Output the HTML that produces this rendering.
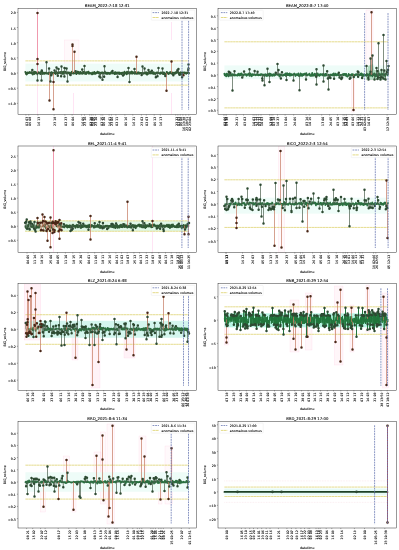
<!DOCTYPE html>
<html><head><meta charset="utf-8"><title>anomalous volumes</title>
<style>html,body{margin:0;padding:0;background:#fff;}svg{display:block;filter:blur(0.25px);}text{stroke:#000;stroke-width:0.08px;}</style>
</head><body>
<svg width="399" height="550" viewBox="0 0 399 550" font-family="'DejaVu Sans', 'Liberation Sans', sans-serif"><g>
<clipPath id="c0"><rect x="18" y="8.6" width="178.5" height="105.9"/></clipPath>
<g clip-path="url(#c0)">
<rect x="64.5" y="40" width="14.5" height="32" fill="#ffc0d8" fill-opacity="0.09" stroke="#ff80b0" stroke-width="0.3" stroke-opacity="0.3"/>
<line x1="37.5" y1="8.6" x2="37.5" y2="114.5" stroke="#ff60c0" stroke-width="0.5" stroke-opacity="0.35"/>
<line x1="73.5" y1="93" x2="73.5" y2="114.5" stroke="#ff60c0" stroke-width="0.5" stroke-opacity="0.35"/>
<line x1="171.5" y1="22" x2="171.5" y2="40" stroke="#ff60c0" stroke-width="0.5" stroke-opacity="0.35"/>
<line x1="171.5" y1="93" x2="171.5" y2="114.5" stroke="#ff60c0" stroke-width="0.5" stroke-opacity="0.35"/>
<rect x="25.4" y="63.61" width="163.6" height="17.88" fill="#eefcf8"/>
<line x1="25.4" y1="60.88" x2="189" y2="60.88" stroke="#dcd068" stroke-width="0.75" stroke-dasharray="2.6 0.3"/>
<line x1="25.4" y1="85.12" x2="189" y2="85.12" stroke="#dcd068" stroke-width="0.75" stroke-dasharray="2.6 0.3"/>
<path d="M25.4 71.94L25.76 72.76L26.13 74.05L26.49 74.42L26.86 74.09L27.22 73.59L27.59 72.43L27.95 73.09L28.31 73.06L28.68 72.75L29.04 72.91L29.41 72.13L29.77 72.54L30.14 72.93L30.5 72.73L30.87 72.8L31.23 72.1L31.59 73.12L31.96 72.81M32.69 74.53L33.05 72.61L33.42 72.48L33.78 73.45L34.14 71.64L34.51 73.87L34.87 72.97L35.24 73.11L35.6 72.08L35.97 72.12L36.33 72.91L36.7 72.77L37.06 73.53L37.42 74.19M37.79 73.21L38.15 72.91L38.52 72.26L38.88 72.28L39.25 73.23L39.61 73.18L39.97 73.63L40.34 73.85L40.7 74.02L41.07 71.83L41.43 73.31M42.16 71.59L42.53 72.53L42.89 73.97L43.25 73.13L43.62 73.54L43.98 72.77L44.35 73.31L44.71 73.71L45.08 73.02L45.44 72.74L45.8 72.96L46.17 72.82M46.53 73.38L46.9 73.22L47.26 73.4L47.63 73.22L47.99 73.49L48.36 74.04L48.72 72.89M49.81 72.72L50.18 73.54M50.54 72.97L50.91 72.56M51.63 72.32L52 73.74L52.36 72.76L52.73 73.41L53.09 73.52L53.46 73.35M53.82 73.19L54.18 72.97M54.91 72.46L55.28 72.72L55.64 73.92L56.01 72.11L56.37 71.86M56.74 72.29L57.1 73.11L57.46 73.64M58.56 72.27L58.92 72.88L59.29 72.41L59.65 72.79L60.01 72.58L60.38 72.99L60.74 71.93M61.84 71.87L62.2 73.81L62.57 73.76L62.93 72.42L63.29 73.7L63.66 71.83L64.02 73.25M64.75 71.85L65.12 72.11L65.48 71.88L65.84 72.46L66.21 73.52M66.94 73.16L67.3 72.52M67.67 72.43L68.03 73.09L68.4 72.63L68.76 72.45L69.12 72.77L69.49 73.66L69.85 72.82M70.95 73.09L71.31 73.26L71.67 71.89L72.04 72.6L72.4 72.76M72.77 73.46L73.13 72.68L73.5 73.4L73.86 72.98L74.22 73.38M74.59 72.59L74.95 72.65L75.32 73.12M76.05 73.66L76.41 73.89L76.78 72.74L77.14 72.9L77.5 72.62L77.87 71.57L78.23 72.43L78.6 73.55L78.96 72.33L79.33 73.79L79.69 73.28L80.05 73.04L80.42 71.97L80.78 73.45L81.15 73.5L81.51 73.06L81.88 73.4M82.61 73.65L82.97 71.89L83.33 73.26L83.7 73.3L84.06 71.84L84.43 72.43M84.79 72.95L85.16 73.74L85.52 72.49L85.88 73.6L86.25 73.93L86.61 72.29L86.98 72.81L87.34 72.45L87.71 72.81L88.07 72.49L88.44 71.67L88.8 73.62L89.16 72.59L89.53 73.48L89.89 73.41L90.26 73.27L90.62 72.99L90.99 73.21L91.35 73.82L91.71 73.39L92.08 74.33L92.44 72.62L92.81 73.96L93.17 73.66L93.54 72.97L93.9 73.44L94.27 72.07L94.63 73.78L94.99 72.84L95.36 73.02L95.72 73.7L96.09 72.69L96.45 73.1L96.82 72.54L97.18 72.51L97.54 71.7L97.91 72.2L98.27 73.22L98.64 73.14L99 72.34M99.73 72.62L100.09 73.97L100.46 73.01M100.82 73.44L101.19 72.83L101.55 73.06L101.92 72.45L102.28 72.81M102.65 72.53L103.01 73.28L103.37 73.57L103.74 73.25M104.83 71.64L105.2 73.03L105.56 73.57L105.92 73.21L106.29 73.28L106.65 72.71L107.02 73.92L107.38 72.96L107.75 72.91L108.11 72.86L108.48 73.36L108.84 73.14L109.2 73.85L109.57 73.3L109.93 73.33L110.3 72.75L110.66 73.69L111.03 72.53L111.39 72.1L111.75 72.28L112.12 72.74M112.85 73.38L113.21 73.24L113.58 73.08L113.94 73.18L114.31 73.19L114.67 74.01L115.03 72.31L115.4 72.35L115.76 73.49L116.13 73.88L116.49 72.69L116.86 73.35L117.22 72.91M117.95 72.59L118.31 72.58L118.68 73.44L119.04 73.83L119.41 73.95L119.77 72.63L120.13 73.71L120.5 73.3L120.86 73.36L121.23 73.03L121.59 74.16L121.96 72.89L122.32 72.69L122.69 72.95M123.41 72.94L123.78 72.76L124.14 74.66L124.51 71.83L124.87 72.77L125.24 73.39L125.6 73.23L125.96 72.7L126.33 73.07L126.69 74.22L127.06 71.76L127.42 73.07L127.79 72.39L128.15 73.42M128.52 72.08L128.88 72.83L129.24 72.63M129.61 73.63L129.97 72.27L130.34 72.59L130.7 72.22L131.07 73.38L131.43 73.29L131.79 71.62L132.16 73.64L132.52 73.08L132.89 72.32L133.25 72.94L133.62 72.65L133.98 73.24L134.35 72.78M134.71 73.78L135.07 72.01L135.44 73.07L135.8 73.41L136.17 72.6M136.53 73.28L136.9 73.8L137.26 73.81L137.62 72.58L137.99 73.1L138.35 73.08L138.72 72.35L139.08 73.68L139.45 73.44L139.81 73.23L140.18 72.94L140.54 73.03L140.9 73.17L141.27 73.04M142 73.43L142.36 73.49M142.73 72.84L143.09 73.53L143.45 73.69L143.82 73.19L144.18 73.09M144.91 73.42L145.28 72.43L145.64 72.55L146 73.71L146.37 72.54L146.73 73.71L147.1 74.6L147.46 72.64L147.83 74.05L148.19 72.73M148.56 73.41L148.92 72L149.28 72.36L149.65 73.27L150.01 73.41L150.38 71.87L150.74 73.26L151.11 73.17L151.47 73.22M152.2 72.65L152.56 72.79L152.93 73.46L153.29 73.86L153.66 72.18L154.02 73.41L154.39 73.39L154.75 73.31L155.11 74.11L155.48 73.29M156.21 72.63L156.57 72.58L156.94 73L157.3 72.44M157.66 72.8L158.03 73.01L158.39 72.9M158.76 73.11L159.12 73.24L159.49 73.16L159.85 73.68L160.22 72.83L160.58 73.6L160.94 72.5L161.31 73.15L161.67 72.97L162.04 72.7L162.4 72.61M162.77 73.94L163.13 73.12L163.49 72.47L163.86 74.02L164.22 72.77L164.59 74.35L164.95 73.61M165.68 73.99L166.04 73.59L166.41 73.88M166.77 72.01L167.14 72.9L167.5 72.66L167.87 73.13L168.23 73.21L168.6 73.97L168.96 73.18L169.32 73.46L169.69 72.49L170.05 72.32L170.42 72.12L170.78 72.49L171.15 73.36M171.51 73.67L171.87 72.54L172.24 72.79L172.6 74.06L172.97 72.79M173.7 72.96L174.06 73.11L174.43 73.48L174.79 73.87L175.15 72.52L175.52 73.19L175.88 73.14L176.25 71.96L176.61 72.59L176.98 72.78M177.7 72.09L178.07 71.97M178.8 72.65L179.16 74.26M179.89 73.08L180.26 72.94L180.62 72.43L180.98 74.64L181.35 73.34L181.71 72.84M182.44 73.85L182.81 72.48L183.17 72.83M183.53 73.58L183.9 72.81L184.26 72.51L184.63 73L184.99 72.52L185.36 72.95L185.72 73.24L186.09 73.7L186.45 73.05L186.81 72.88L187.18 72.47L187.54 73.07L187.91 72.73M188.64 73.47L189 73.07" fill="none" stroke="#2f5a33" stroke-width="2" stroke-linejoin="round" stroke-linecap="round"/>
<path d="M31.96 72.81L32.32 69.94L32.69 74.53M37.42 74.19L37.5 72.98L37.5 73.45L37.5 80.5L37.5 73.45L37.79 73.21M41.43 73.31L41.5 73.41L41.5 80.5L41.5 73.41L41.8 70.42L42.16 71.59M46.17 72.82L46.5 72.53L46.5 62.2L46.5 72.53L46.53 73.38M48.72 72.89L49.08 68.47L49.45 73.98L49.5 72.67L49.81 72.72M50.18 73.54L50.5 73.29L50.5 81.6L50.5 73.29L50.54 72.97M50.91 72.56L51.27 75.27L51.63 72.32M53.46 73.35L53.5 73.03L53.82 73.19M54.18 72.97L54.55 70.56L54.91 72.46M56.37 71.86L56.5 73.26L56.5 67.5L56.5 73.26L56.74 72.29M57.46 73.64L57.83 75.87L58.19 73.24L58.5 72.71L58.5 69L58.5 72.71L58.56 72.27M60.74 71.93L61.11 76.24L61.47 72.76L61.5 73.02L61.5 66.4L61.5 73.02L61.84 71.87M64.02 73.25L64.39 76.39L64.5 73.13L64.5 68L64.5 73.13L64.75 71.85M66.21 73.52L66.57 68.56L66.94 73.16M67.3 72.52L67.5 72.94L67.5 81.6L67.5 72.94L67.67 72.43M69.85 72.82L70.22 74.81L70.58 75.03L70.95 73.09M72.4 72.76L72.5 73.16L72.77 73.46M74.22 73.38L74.5 72.87L74.59 72.59M75.32 73.12L75.68 71.14L76.05 73.66M81.88 73.4L82.24 69.5L82.61 73.65M84.43 72.43L84.5 73.47L84.5 65.9L84.5 73.47L84.79 72.95M99 72.34L99.37 76.52L99.73 72.62M100.46 73.01L100.5 73.37L100.5 77.5L100.5 73.37L100.82 73.44M102.28 72.81L102.5 73.15L102.5 79.7L102.5 73.15L102.65 72.53M103.74 73.25L104.1 76.67L104.47 72.77L104.5 73.08L104.5 66.3L104.5 73.08L104.83 71.64M112.12 72.74L112.48 70.99L112.85 73.38M117.22 72.91L117.58 77.05L117.95 72.59M122.69 72.95L123.05 75.45L123.41 72.94M128.15 73.42L128.5 73.28L128.5 68L128.5 73.28L128.52 72.08M129.24 72.63L129.5 73.12L129.5 82L129.5 73.12L129.61 73.63M134.35 72.78L134.5 72.9L134.5 69L134.5 72.9L134.71 73.78M136.17 72.6L136.5 73L136.53 73.28M141.27 73.04L141.63 75.11L142 73.43M142.36 73.49L142.5 73.81L142.5 66.4L142.5 73.81L142.73 72.84M144.18 73.09L144.55 68.39L144.91 73.42M148.19 72.73L148.5 73.59L148.5 70L148.5 73.59L148.56 73.41M151.47 73.22L151.83 70.67L152.2 72.65M155.48 73.29L155.84 77.23L156.21 72.63M157.3 72.44L157.5 72.97L157.5 76.2L157.5 72.97L157.66 72.8M158.39 72.9L158.5 73.54L158.5 68L158.5 73.54L158.76 73.11M162.4 72.61L162.5 73.18L162.5 68.6L162.5 73.18L162.77 73.94M164.95 73.61L165.32 76.11L165.68 73.99M166.41 73.88L166.5 72.98L166.77 72.01M171.15 73.36L171.5 72.91L171.51 73.67M172.97 72.79L173.33 75.36L173.7 72.96M176.98 72.78L177.34 70.36L177.7 72.09M178.07 71.97L178.43 68.98L178.8 72.65M179.16 74.26L179.53 74.86L179.89 73.08M181.71 72.84L182.08 77.2L182.44 73.85M183.17 72.83L183.5 73.41L183.53 73.58M187.91 72.73L188.27 69.91L188.5 72.56L188.5 68.4L188.5 64.5L188.5 72.56L188.64 73.47" fill="none" stroke="#4a5e4c" stroke-width="0.45" stroke-linejoin="round"/>
<path d="M49.5 72.67L49.5 100.5L49.5 72.67M53.5 73.03L53.5 82L53.5 109.3L53.5 73.03M72.5 73.16L72.5 46L72.5 44.5L72.5 73.16M74.5 72.87L74.5 51.8L74.5 72.87M136.5 73L136.5 56.7L136.5 73M166.5 72.98L166.5 90.8L166.5 72.98M171.5 72.91L171.5 61.6L171.5 72.91M183.5 73.41L183.5 75.2L183.5 73.41" fill="none" stroke="#c47860" stroke-width="0.45"/>
<path d="M37.5 72.98L37.5 59L37.5 64L37.5 12.9L37.5 72.98" fill="none" stroke="#e87890" stroke-width="0.45"/>
<path d="M32.32 69.94h0M37.5 80.5h0M41.5 80.5h0M41.8 70.42h0M46.5 62.2h0M49.08 68.47h0M50.5 81.6h0M51.27 75.27h0M54.55 70.56h0M56.5 67.5h0M57.83 75.87h0M58.5 69h0M61.11 76.24h0M61.5 66.4h0M64.39 76.39h0M64.5 68h0M66.57 68.56h0M67.5 81.6h0M70.22 74.81h0M70.58 75.03h0M75.68 71.14h0M82.24 69.5h0M84.5 65.9h0M99.37 76.52h0M100.5 77.5h0M102.5 79.7h0M104.1 76.67h0M104.5 66.3h0M112.48 70.99h0M117.58 77.05h0M123.05 75.45h0M128.5 68h0M129.5 82h0M134.5 69h0M141.63 75.11h0M142.5 66.4h0M144.55 68.39h0M148.5 70h0M151.83 70.67h0M155.84 77.23h0M157.5 76.2h0M158.5 68h0M162.5 68.6h0M165.32 76.11h0M173.33 75.36h0M177.34 70.36h0M178.43 68.98h0M179.53 74.86h0M182.08 77.2h0M188.27 69.91h0M188.5 68.4h0M188.5 64.5h0" stroke="#2d4a32" stroke-width="2.5" stroke-linecap="round"/>
<path d="M37.5 59h0M37.5 64h0M37.5 12.9h0M49.5 100.5h0M53.5 82h0M53.5 109.3h0M72.5 46h0M72.5 44.5h0M74.5 51.8h0M136.5 56.7h0M166.5 90.8h0M171.5 61.6h0M183.5 75.2h0" stroke="#4a2818" stroke-width="2.5" stroke-linecap="round"/>
<line x1="182" y1="13.1" x2="182" y2="110" stroke="#6a78b4" stroke-width="0.8" stroke-dasharray="1.8 0.8"/>
<line x1="188.6" y1="13.1" x2="188.6" y2="110" stroke="#6a78b4" stroke-width="0.8" stroke-dasharray="1.8 0.8"/>
</g>
<rect x="18" y="8.6" width="178.5" height="105.9" fill="none" stroke="#000" stroke-width="0.4"/>
<line x1="16.88" y1="12.4" x2="18" y2="12.4" stroke="#000" stroke-width="0.3"/>
<text x="15.76" y="14.45" font-size="3.2" text-anchor="end" fill="#000">2.0</text>
<line x1="16.88" y1="27.55" x2="18" y2="27.55" stroke="#000" stroke-width="0.3"/>
<text x="15.76" y="29.6" font-size="3.2" text-anchor="end" fill="#000">1.5</text>
<line x1="16.88" y1="42.7" x2="18" y2="42.7" stroke="#000" stroke-width="0.3"/>
<text x="15.76" y="44.75" font-size="3.2" text-anchor="end" fill="#000">1.0</text>
<line x1="16.88" y1="57.85" x2="18" y2="57.85" stroke="#000" stroke-width="0.3"/>
<text x="15.76" y="59.9" font-size="3.2" text-anchor="end" fill="#000">0.5</text>
<line x1="16.88" y1="73" x2="18" y2="73" stroke="#000" stroke-width="0.3"/>
<text x="15.76" y="75.05" font-size="3.2" text-anchor="end" fill="#000">0.0</text>
<line x1="16.88" y1="88.15" x2="18" y2="88.15" stroke="#000" stroke-width="0.3"/>
<text x="15.76" y="90.2" font-size="3.2" text-anchor="end" fill="#000">−0.5</text>
<line x1="16.88" y1="103.3" x2="18" y2="103.3" stroke="#000" stroke-width="0.3"/>
<text x="15.76" y="105.35" font-size="3.2" text-anchor="end" fill="#000">−1.0</text>
<line x1="25.9" y1="114.5" x2="25.9" y2="115.62" stroke="#000" stroke-width="0.3"/>
<text x="27.85" y="116.74" font-size="3.2" text-anchor="end" fill="#000" transform="rotate(-90 27.85 116.74)">02 03</text>
<line x1="28.8" y1="114.5" x2="28.8" y2="115.62" stroke="#000" stroke-width="0.3"/>
<text x="30.75" y="116.74" font-size="3.2" text-anchor="end" fill="#000" transform="rotate(-90 30.75 116.74)">09 08</text>
<line x1="37.9" y1="114.5" x2="37.9" y2="115.62" stroke="#000" stroke-width="0.3"/>
<text x="39.85" y="116.74" font-size="3.2" text-anchor="end" fill="#000" transform="rotate(-90 39.85 116.74)">16 13</text>
<line x1="54.1" y1="114.5" x2="54.1" y2="115.62" stroke="#000" stroke-width="0.3"/>
<text x="56.05" y="116.74" font-size="3.2" text-anchor="end" fill="#000" transform="rotate(-90 56.05 116.74)">23 18</text>
<line x1="64.9" y1="114.5" x2="64.9" y2="115.62" stroke="#000" stroke-width="0.3"/>
<text x="66.85" y="116.74" font-size="3.2" text-anchor="end" fill="#000" transform="rotate(-90 66.85 116.74)">02 23</text>
<line x1="72.1" y1="114.5" x2="72.1" y2="115.62" stroke="#000" stroke-width="0.3"/>
<text x="74.05" y="116.74" font-size="3.2" text-anchor="end" fill="#000" transform="rotate(-90 74.05 116.74)">09 04</text>
<line x1="81.6" y1="114.5" x2="81.6" y2="115.62" stroke="#000" stroke-width="0.3"/>
<text x="83.55" y="116.74" font-size="3.2" text-anchor="end" fill="#000" transform="rotate(-90 83.55 116.74)">16 09</text>
<line x1="84.5" y1="114.5" x2="84.5" y2="115.62" stroke="#000" stroke-width="0.3"/>
<text x="86.45" y="116.74" font-size="3.2" text-anchor="end" fill="#000" transform="rotate(-90 86.45 116.74)">23 14</text>
<line x1="89.7" y1="114.5" x2="89.7" y2="115.62" stroke="#000" stroke-width="0.3"/>
<text x="91.65" y="116.74" font-size="3.2" text-anchor="end" fill="#000" transform="rotate(-90 91.65 116.74)">02 19</text>
<line x1="91.3" y1="114.5" x2="91.3" y2="115.62" stroke="#000" stroke-width="0.3"/>
<text x="93.25" y="116.74" font-size="3.2" text-anchor="end" fill="#000" transform="rotate(-90 93.25 116.74)">09 00</text>
<line x1="93.1" y1="114.5" x2="93.1" y2="115.62" stroke="#000" stroke-width="0.3"/>
<text x="95.05" y="116.74" font-size="3.2" text-anchor="end" fill="#000" transform="rotate(-90 95.05 116.74)">16 05</text>
<line x1="95.4" y1="114.5" x2="95.4" y2="115.62" stroke="#000" stroke-width="0.3"/>
<text x="97.35" y="116.74" font-size="3.2" text-anchor="end" fill="#000" transform="rotate(-90 97.35 116.74)">23 10</text>
<line x1="101" y1="114.5" x2="101" y2="115.62" stroke="#000" stroke-width="0.3"/>
<text x="102.95" y="116.74" font-size="3.2" text-anchor="end" fill="#000" transform="rotate(-90 102.95 116.74)">02 15</text>
<line x1="102.8" y1="114.5" x2="102.8" y2="115.62" stroke="#000" stroke-width="0.3"/>
<text x="104.75" y="116.74" font-size="3.2" text-anchor="end" fill="#000" transform="rotate(-90 104.75 116.74)">09 20</text>
<line x1="109.1" y1="114.5" x2="109.1" y2="115.62" stroke="#000" stroke-width="0.3"/>
<text x="111.05" y="116.74" font-size="3.2" text-anchor="end" fill="#000" transform="rotate(-90 111.05 116.74)">16 01</text>
<line x1="111.4" y1="114.5" x2="111.4" y2="115.62" stroke="#000" stroke-width="0.3"/>
<text x="113.35" y="116.74" font-size="3.2" text-anchor="end" fill="#000" transform="rotate(-90 113.35 116.74)">23 06</text>
<line x1="115.9" y1="114.5" x2="115.9" y2="115.62" stroke="#000" stroke-width="0.3"/>
<text x="117.85" y="116.74" font-size="3.2" text-anchor="end" fill="#000" transform="rotate(-90 117.85 116.74)">02 11</text>
<line x1="124.9" y1="114.5" x2="124.9" y2="115.62" stroke="#000" stroke-width="0.3"/>
<text x="126.85" y="116.74" font-size="3.2" text-anchor="end" fill="#000" transform="rotate(-90 126.85 116.74)">09 16</text>
<line x1="132.8" y1="114.5" x2="132.8" y2="115.62" stroke="#000" stroke-width="0.3"/>
<text x="134.75" y="116.74" font-size="3.2" text-anchor="end" fill="#000" transform="rotate(-90 134.75 116.74)">16 21</text>
<line x1="141.4" y1="114.5" x2="141.4" y2="115.62" stroke="#000" stroke-width="0.3"/>
<text x="143.35" y="116.74" font-size="3.2" text-anchor="end" fill="#000" transform="rotate(-90 143.35 116.74)">23 02</text>
<line x1="146.3" y1="114.5" x2="146.3" y2="115.62" stroke="#000" stroke-width="0.3"/>
<text x="148.25" y="116.74" font-size="3.2" text-anchor="end" fill="#000" transform="rotate(-90 148.25 116.74)">02 07</text>
<line x1="154.2" y1="114.5" x2="154.2" y2="115.62" stroke="#000" stroke-width="0.3"/>
<text x="156.15" y="116.74" font-size="3.2" text-anchor="end" fill="#000" transform="rotate(-90 156.15 116.74)">09 12</text>
<line x1="160.3" y1="114.5" x2="160.3" y2="115.62" stroke="#000" stroke-width="0.3"/>
<text x="162.25" y="116.74" font-size="3.2" text-anchor="end" fill="#000" transform="rotate(-90 162.25 116.74)">16 17</text>
<line x1="175.7" y1="114.5" x2="175.7" y2="115.62" stroke="#000" stroke-width="0.3"/>
<text x="177.65" y="116.74" font-size="3.2" text-anchor="end" fill="#000" transform="rotate(-90 177.65 116.74)">23 22</text>
<line x1="177.9" y1="114.5" x2="177.9" y2="115.62" stroke="#000" stroke-width="0.3"/>
<text x="179.85" y="116.74" font-size="3.2" text-anchor="end" fill="#000" transform="rotate(-90 179.85 116.74)">02 03</text>
<line x1="180.2" y1="114.5" x2="180.2" y2="115.62" stroke="#000" stroke-width="0.3"/>
<text x="182.15" y="116.74" font-size="3.2" text-anchor="end" fill="#000" transform="rotate(-90 182.15 116.74)">09 08</text>
<line x1="182.9" y1="114.5" x2="182.9" y2="115.62" stroke="#000" stroke-width="0.3"/>
<text x="184.85" y="116.74" font-size="3.2" text-anchor="end" fill="#000" transform="rotate(-90 184.85 116.74)">16 13:38</text>
<line x1="185.8" y1="114.5" x2="185.8" y2="115.62" stroke="#000" stroke-width="0.3"/>
<text x="187.75" y="116.74" font-size="3.2" text-anchor="end" fill="#000" transform="rotate(-90 187.75 116.74)">23 18:51</text>
<line x1="188.8" y1="114.5" x2="188.8" y2="115.62" stroke="#000" stroke-width="0.3"/>
<text x="190.75" y="116.74" font-size="3.2" text-anchor="end" fill="#000" transform="rotate(-90 190.75 116.74)">02 23:04</text>
<text x="107.25" y="7.18" font-size="3.84" text-anchor="middle" fill="#000">BEAM_2022-7-18 12:31</text>
<text x="107.25" y="134.5" font-size="3.2" text-anchor="middle" fill="#000">datetime</text>
<text x="5.8" y="61.55" font-size="3.2" text-anchor="middle" fill="#000" transform="rotate(-90 5.8 61.55)">BIG_volume</text>
<rect x="151.28" y="10.2" width="43.62" height="10" rx="0.6" fill="#fff" stroke="#e0e0e0" stroke-width="0.32"/>
<line x1="152.56" y1="12.6" x2="158.96" y2="12.6" stroke="#6a78b4" stroke-width="0.8" stroke-dasharray="1.8 0.8"/>
<line x1="152.56" y1="17.5" x2="158.96" y2="17.5" stroke="#dcd068" stroke-width="0.8" stroke-dasharray="2.6 0.3"/>
<text x="161.52" y="13.75" font-size="3.2" text-anchor="start" fill="#000">2022-7-18 12:31</text>
<text x="161.52" y="18.65" font-size="3.2" text-anchor="start" fill="#000">anomalous volumes</text>
</g>
<g>
<clipPath id="c1"><rect x="218" y="8.6" width="178.5" height="105.9"/></clipPath>
<g clip-path="url(#c1)">
<rect x="366" y="10" width="7" height="70" fill="#ffc0d8" fill-opacity="0.09" stroke="#ff80b0" stroke-width="0.3" stroke-opacity="0.3"/>
<rect x="351.5" y="70" width="3" height="42" fill="#ffc0d8" fill-opacity="0.09" stroke="#ff80b0" stroke-width="0.3" stroke-opacity="0.3"/>
<rect x="224.4" y="65.41" width="163.6" height="13.69" fill="#eefcf8"/>
<line x1="224.4" y1="41.81" x2="388" y2="41.81" stroke="#dcd068" stroke-width="0.75" stroke-dasharray="2.6 0.3"/>
<line x1="224.4" y1="107.89" x2="388" y2="107.89" stroke="#dcd068" stroke-width="0.75" stroke-dasharray="2.6 0.3"/>
<polygon points="366,77 368,66 373,64 374,70 383,71 386,75 386,80 366,80" fill="#6ab880" fill-opacity="0.45"/>
<path d="M224.4 73.71L224.76 75.28L225.13 75.22L225.49 75.6L225.86 74.24L226.22 76.46L226.59 73.63L226.95 75.38L227.31 74.63L227.68 75.02L228.04 73.83L228.41 76.29M229.14 75.12L229.5 74.06L229.87 75.62M230.59 75.46L230.96 74.82L231.32 74.44L231.69 75.62L232.05 74.05L232.42 74.22M232.78 74.5L233.14 74.22L233.51 75.33L233.87 74.94L234.24 75.51M234.6 75.04L234.97 74.48L235.33 75.33L235.7 75.13L236.06 75.33L236.42 75.44L236.79 75.32L237.15 74.86L237.52 75.63L237.88 74.69L238.25 73.69L238.61 74.33L238.97 74.98L239.34 75.47L239.7 75.37L240.07 73.67L240.43 74.81L240.8 75.3L241.16 74.72L241.53 73.38L241.89 74.77M242.62 74.64L242.98 75.1L243.35 75.65L243.71 75.09M244.44 74.44L244.8 74.26L245.17 74.2L245.53 74.65L245.9 74.23L246.26 75.38L246.63 75.7L246.99 74.49L247.36 75.06L247.72 74.51L248.08 74.9L248.45 74.06L248.81 73.79L249.18 73.32M249.54 75.83L249.91 75.86L250.27 73.29L250.63 74.74L251 74.24L251.36 74.63L251.73 76.27L252.09 75.06L252.46 74.27L252.82 74.69L253.18 74.32L253.55 75.01L253.91 74.99L254.28 74.72M255.01 74.71L255.37 74.77L255.74 75.32L256.1 74.59L256.46 74.76L256.83 74.06L257.19 74.01M257.92 75.11L258.29 75.3L258.65 74.55L259.01 74.8L259.38 75.09L259.74 74.82L260.11 75.28L260.47 74.36L260.84 75.16L261.2 73.99L261.57 74.57L261.93 74.43M262.66 74.73L263.02 74.33L263.39 75.52L263.75 75.04L264.12 74.83L264.48 75.81M264.84 74.63L265.21 74.26L265.57 75.45L265.94 74.6L266.3 75.77L266.67 74.88L267.03 75.98L267.4 74.07M267.76 74.56L268.12 74.87L268.49 75.39L268.85 73.96L269.22 73.47M269.58 76.15L269.95 73.98L270.31 73.71L270.67 74.61L271.04 75.69L271.4 74.25L271.77 74.98L272.13 75.27L272.5 75.71L272.86 74.46L273.22 74.3L273.59 75.29L273.95 74.49L274.32 75.65L274.68 74.29L275.05 74.82L275.41 74.98M276.14 74.24L276.5 74.32L276.87 74.48L277.23 74.75M277.6 74.8L277.96 74.42L278.33 74.69M278.69 74.37L279.05 75.07L279.42 76.55L279.78 74.12L280.15 75.63L280.51 74.54M281.24 74.95L281.61 74.93M282.33 75.64L282.7 75.21L283.06 75.55L283.43 74.68L283.79 75.06L284.16 74.5L284.52 74.97L284.88 74.16L285.25 74.7L285.61 73.32L285.98 76.18L286.34 75.3M286.71 74.22L287.07 73.08L287.44 75.02L287.8 74.82L288.16 75.01L288.53 73.92L288.89 75.05L289.26 74.37L289.62 73.32L289.99 75.74L290.35 74.63L290.71 74.5L291.08 73.94L291.44 74.93L291.81 75.28L292.17 74.46L292.54 74.68L292.9 74.65L293.27 74.9M293.63 74.04L293.99 74.59L294.36 73.52L294.72 74.07L295.09 74.39L295.45 75.99L295.82 74.43L296.18 74.56L296.54 74.28L296.91 74.12L297.27 75.13L297.64 74.27L298 75.24L298.37 73.48L298.73 75.78L299.09 76.08L299.46 76.01M299.82 75.47L300.19 75.63L300.55 73.48L300.92 75.08L301.28 75.79L301.65 74.07L302.01 75.26L302.37 75.72L302.74 74.24L303.1 74.41L303.47 75.15L303.83 73.86L304.2 74.76L304.56 73.72L304.92 74.5L305.29 73.76L305.65 74.77M306.38 73.14L306.75 75.23L307.11 74.99L307.48 75.34L307.84 74.99L308.2 74.68L308.57 74.71L308.93 74.39L309.3 73.6L309.66 74.93L310.03 75.71L310.39 75.68L310.75 75.32L311.12 76.02L311.48 74.27L311.85 75.2L312.21 72.98L312.58 74.85L312.94 75.83L313.31 75.45L313.67 74.38L314.03 74.42L314.4 75.16L314.76 73.58L315.13 75.76L315.49 75.09L315.86 75.01M316.58 73.49L316.95 74.59L317.31 75.58L317.68 73.41L318.04 74.44L318.41 74.55L318.77 75.27L319.13 74.78L319.5 75.92L319.86 74.29L320.23 75.11L320.59 74.76L320.96 74.01L321.32 74.65L321.69 74.67L322.05 74.66L322.41 75.36L322.78 74.26L323.14 73.77M323.51 74.32L323.87 74.23L324.24 75.46L324.6 75.46L324.96 75.86L325.33 73.99L325.69 75.03L326.06 73.87L326.42 75.4L326.79 75.16M328.61 74.84L328.97 74.73L329.34 75.63M330.79 74.51L331.16 75.33L331.52 74.91L331.89 75.06L332.25 74.56L332.62 74.3L332.98 75.52L333.35 74.44L333.71 73.4M334.44 75.43L334.8 75.47L335.17 75.05L335.53 73.71L335.9 74.84L336.26 75.34L336.62 74.41L336.99 75.27L337.35 74.06L337.72 74.64L338.08 73.88L338.45 75.31M339.9 74.89L340.27 75.36L340.63 75.46L341 74.95M342.45 74.42L342.82 74.18L343.18 75.34L343.55 74.02L343.91 75.02L344.28 74.04L344.64 74.54L345 74.06L345.37 75.55L345.73 74.92L346.1 73.83L346.46 75.28L346.83 76.28L347.19 76.21L347.56 76.6L347.92 76.33L348.28 75.14L348.65 73.96L349.01 75.16L349.38 74.62M350.83 74.97L351.2 74.53L351.56 75.67L351.93 74.14L352.29 74.21L352.66 74.99L353.02 74.29L353.39 75.34M354.11 74.74L354.48 74.98L354.84 75.16L355.21 75.32L355.57 75.24L355.94 74.19L356.3 74.07L356.66 74.6L357.03 75.02L357.39 74.34M358.85 74.62L359.22 74.83L359.58 75.18L359.94 74.25L360.31 75.14L360.67 73.57L361.04 74.45L361.4 73.35L361.77 75.4M362.49 76.34L362.86 74.25L363.22 74.83L363.59 75.93L363.95 75.16L364.32 74.42L364.68 74.98L365.04 74.93L365.41 74.97L365.77 75.5L366.14 75.22M366.5 75.85L366.87 73.61L367.23 75.18L367.6 74.52L367.96 75.57M368.69 76.16L369.05 74.21L369.42 74.87L369.78 73.37L370.15 75.76M370.87 74.59L371.24 73.99M371.6 75.15L371.97 74.79L372.33 76.35M372.7 75.43L373.06 74.53L373.43 74.08L373.79 75.05L374.15 73.41M374.52 73.62L374.88 74.89L375.25 76.54L375.61 76.09L375.98 75.39L376.34 74.07M376.7 74.63L377.07 76.32M378.53 75.37L378.89 73.41L379.26 74.81L379.62 75.19L379.98 74.6M380.71 75.15L381.08 74L381.44 74.07M382.17 74.92L382.53 74.05L382.9 74.88L383.26 74.52M383.63 74.13L383.99 74.28M384.72 74.53L385.09 76.03L385.45 75.66M385.81 73.9L386.18 73.34M387.27 74.15L387.64 75.12" fill="none" stroke="#2a7040" stroke-width="1.8" stroke-linejoin="round" stroke-linecap="round"/>
<path d="M228.41 76.29L228.77 71.72L229.14 75.12M229.87 75.62L230.23 72.76L230.59 75.46M232.42 74.22L232.5 75.33L232.5 90.6L232.5 75.33L232.78 74.5M234.24 75.51L234.5 74.8L234.5 71.2L234.5 74.8L234.6 75.04M241.89 74.77L242.25 77.46L242.62 74.64M243.71 75.09L244.08 71.44L244.44 74.44M249.18 73.32L249.5 74.64L249.5 69.2L249.5 74.64L249.54 75.83M254.28 74.72L254.64 70.94L255.01 74.71M257.19 74.01L257.56 71.64L257.92 75.11M261.93 74.43L262.29 78.49L262.5 74.72L262.5 80.4L262.5 74.72L262.66 74.73M264.48 75.81L264.5 74.44L264.5 85.2L264.5 74.44L264.84 74.63M267.4 74.07L267.5 74.94L267.5 68.7L267.5 74.94L267.76 74.56M269.22 73.47L269.5 74.98L269.5 82L269.5 74.98L269.58 76.15M275.41 74.98L275.78 72.73L276.14 74.24M277.23 74.75L277.5 74.47L277.5 64.1L277.5 74.47L277.6 74.8M278.33 74.69L278.5 74.76L278.5 70L278.5 74.76L278.69 74.37M280.51 74.54L280.88 78.61L281.24 74.95M281.61 74.93L281.97 72.23L282.33 75.64M286.34 75.3L286.5 74.58L286.5 80L286.5 74.58L286.71 74.22M293.27 74.9L293.5 74.72L293.5 80.4L293.5 74.72L293.63 74.04M299.46 76.01L299.5 75.07L299.5 90.3L299.5 75.07L299.82 75.47M305.65 74.77L306.02 79.46L306.38 73.14M315.86 75.01L316.22 76.81L316.5 75.22L316.5 84.5L316.5 69.2L316.5 75.22L316.58 73.49M323.14 73.77L323.5 74.91L323.5 81.4L323.5 65.6L323.5 74.91L323.51 74.32M326.79 75.16L327.15 71.2L327.52 74.2L327.88 78.52L328.24 74.7L328.5 75.01L328.5 89.6L328.5 75.01L328.61 74.84M329.34 75.63L329.7 77.56L330.07 74.98L330.43 77.93L330.79 74.51M333.71 73.4L334.07 78.75L334.44 75.43M338.45 75.31L338.81 72.73L339.18 74.27L339.54 77.49L339.9 74.89M341 74.95L341.36 79.06L341.73 74.65L342.09 77.71L342.45 74.42M349.38 74.62L349.74 78.65L350.11 74.84L350.47 77.93L350.83 74.97M353.39 75.34L353.5 74.64L353.75 77.1L354.11 74.74M357.39 74.34L357.76 71.46L358.12 76.8L358.49 72.27L358.85 74.62M361.77 75.4L362.13 77.99L362.49 76.34M366.14 75.22L366.5 74.06L366.5 66L366.5 74.06L366.5 75.85M367.96 75.57L368.32 77.92L368.5 75.26L368.5 79.4L368.5 75.26L368.69 76.16M370.15 75.76L370.5 74.58L370.5 58.5L370.5 74.58L370.51 71.75L370.87 74.59M371.24 73.99L371.5 74.82L371.6 75.15M372.33 76.35L372.5 74.85L372.5 55.5L372.5 74.85L372.7 75.43M374.15 73.41L374.5 75.16L374.5 79.4L374.5 75.16L374.52 73.62M376.34 74.07L376.5 74.59L376.5 68L376.5 74.59L376.7 74.63M377.07 76.32L377.43 71.1L377.5 75.23L377.5 79L377.5 75.23L377.8 73.72L378.16 77.54L378.5 75.07L378.5 43.3L378.5 75.07L378.53 75.37M379.98 74.6L380.35 77.87L380.5 75.32L380.5 79.4L380.5 75.32L380.71 75.15M381.44 74.07L381.5 74.59L381.5 70L381.5 74.59L381.81 77.3L382.17 74.92M383.26 74.52L383.5 75.44L383.5 34.9L383.5 75.44L383.5 75.08L383.5 78.5L383.5 75.08L383.63 74.13M383.99 74.28L384.36 70.52L384.72 74.53M385.45 75.66L385.5 74.26L385.5 79.4L385.5 74.26L385.81 73.9M386.18 73.34L386.5 74.62L386.5 61L386.5 74.62L386.54 74.58L386.91 72.05L387.27 74.15M387.64 75.12L388 69.95L388.5 74.64L388.5 66L388.5 74.64" fill="none" stroke="#4a5e4c" stroke-width="0.45" stroke-linejoin="round"/>
<path d="M353.5 74.64L353.5 110L353.5 74.64M371.5 74.82L371.5 12.2L371.5 74.82" fill="none" stroke="#c47860" stroke-width="0.45"/>
<path d="M228.77 71.72h0M230.23 72.76h0M232.5 90.6h0M234.5 71.2h0M242.25 77.46h0M244.08 71.44h0M249.5 69.2h0M254.64 70.94h0M257.56 71.64h0M262.29 78.49h0M262.5 80.4h0M264.5 85.2h0M267.5 68.7h0M269.5 82h0M275.78 72.73h0M277.5 64.1h0M278.5 70h0M280.88 78.61h0M281.97 72.23h0M286.5 80h0M293.5 80.4h0M299.5 90.3h0M306.02 79.46h0M316.22 76.81h0M316.5 84.5h0M316.5 69.2h0M323.5 81.4h0M323.5 65.6h0M327.15 71.2h0M327.88 78.52h0M328.5 89.6h0M329.7 77.56h0M330.43 77.93h0M334.07 78.75h0M338.81 72.73h0M339.54 77.49h0M341.36 79.06h0M342.09 77.71h0M349.74 78.65h0M350.47 77.93h0M353.75 77.1h0M357.76 71.46h0M358.12 76.8h0M358.49 72.27h0M362.13 77.99h0M366.5 66h0M368.32 77.92h0M368.5 79.4h0M370.5 58.5h0M370.51 71.75h0M372.5 55.5h0M374.5 79.4h0M376.5 68h0M377.43 71.1h0M377.5 79h0M378.16 77.54h0M378.5 43.3h0M380.35 77.87h0M380.5 79.4h0M381.5 70h0M381.81 77.3h0M383.5 34.9h0M383.5 78.5h0M384.36 70.52h0M385.5 79.4h0M386.5 61h0M386.91 72.05h0M388 69.95h0M388.5 66h0" stroke="#2d4a32" stroke-width="2.5" stroke-linecap="round"/>
<path d="M353.5 110h0M371.5 12.2h0" stroke="#4a2818" stroke-width="2.5" stroke-linecap="round"/>
<line x1="364.6" y1="13.1" x2="364.6" y2="110" stroke="#6a78b4" stroke-width="0.8" stroke-dasharray="1.8 0.8"/>
<line x1="388" y1="13.1" x2="388" y2="110" stroke="#6a78b4" stroke-width="0.8" stroke-dasharray="1.8 0.8"/>
</g>
<rect x="218" y="8.6" width="178.5" height="105.9" fill="none" stroke="#000" stroke-width="0.4"/>
<line x1="216.88" y1="15.85" x2="218" y2="15.85" stroke="#000" stroke-width="0.3"/>
<text x="215.76" y="17.9" font-size="3.2" text-anchor="end" fill="#000">0.5</text>
<line x1="216.88" y1="27.65" x2="218" y2="27.65" stroke="#000" stroke-width="0.3"/>
<text x="215.76" y="29.7" font-size="3.2" text-anchor="end" fill="#000">0.4</text>
<line x1="216.88" y1="39.45" x2="218" y2="39.45" stroke="#000" stroke-width="0.3"/>
<text x="215.76" y="41.5" font-size="3.2" text-anchor="end" fill="#000">0.3</text>
<line x1="216.88" y1="51.25" x2="218" y2="51.25" stroke="#000" stroke-width="0.3"/>
<text x="215.76" y="53.3" font-size="3.2" text-anchor="end" fill="#000">0.2</text>
<line x1="216.88" y1="63.05" x2="218" y2="63.05" stroke="#000" stroke-width="0.3"/>
<text x="215.76" y="65.1" font-size="3.2" text-anchor="end" fill="#000">0.1</text>
<line x1="216.88" y1="74.85" x2="218" y2="74.85" stroke="#000" stroke-width="0.3"/>
<text x="215.76" y="76.9" font-size="3.2" text-anchor="end" fill="#000">0.0</text>
<line x1="216.88" y1="86.65" x2="218" y2="86.65" stroke="#000" stroke-width="0.3"/>
<text x="215.76" y="88.7" font-size="3.2" text-anchor="end" fill="#000">−0.1</text>
<line x1="216.88" y1="98.45" x2="218" y2="98.45" stroke="#000" stroke-width="0.3"/>
<text x="215.76" y="100.5" font-size="3.2" text-anchor="end" fill="#000">−0.2</text>
<line x1="216.88" y1="110.25" x2="218" y2="110.25" stroke="#000" stroke-width="0.3"/>
<text x="215.76" y="112.3" font-size="3.2" text-anchor="end" fill="#000">−0.3</text>
<line x1="223.8" y1="114.5" x2="223.8" y2="115.62" stroke="#000" stroke-width="0.3"/>
<text x="225.75" y="116.74" font-size="3.2" text-anchor="end" fill="#000" transform="rotate(-90 225.75 116.74)">03 06</text>
<line x1="225.1" y1="114.5" x2="225.1" y2="115.62" stroke="#000" stroke-width="0.3"/>
<text x="227.05" y="116.74" font-size="3.2" text-anchor="end" fill="#000" transform="rotate(-90 227.05 116.74)">10 11</text>
<line x1="226.5" y1="114.5" x2="226.5" y2="115.62" stroke="#000" stroke-width="0.3"/>
<text x="228.45" y="116.74" font-size="3.2" text-anchor="end" fill="#000" transform="rotate(-90 228.45 116.74)">17 16</text>
<line x1="236.2" y1="114.5" x2="236.2" y2="115.62" stroke="#000" stroke-width="0.3"/>
<text x="238.15" y="116.74" font-size="3.2" text-anchor="end" fill="#000" transform="rotate(-90 238.15 116.74)">24 21</text>
<line x1="243.6" y1="114.5" x2="243.6" y2="115.62" stroke="#000" stroke-width="0.3"/>
<text x="245.55" y="116.74" font-size="3.2" text-anchor="end" fill="#000" transform="rotate(-90 245.55 116.74)">03 02</text>
<line x1="253.1" y1="114.5" x2="253.1" y2="115.62" stroke="#000" stroke-width="0.3"/>
<text x="255.05" y="116.74" font-size="3.2" text-anchor="end" fill="#000" transform="rotate(-90 255.05 116.74)">10 07</text>
<line x1="254.9" y1="114.5" x2="254.9" y2="115.62" stroke="#000" stroke-width="0.3"/>
<text x="256.85" y="116.74" font-size="3.2" text-anchor="end" fill="#000" transform="rotate(-90 256.85 116.74)">17 12</text>
<line x1="256.7" y1="114.5" x2="256.7" y2="115.62" stroke="#000" stroke-width="0.3"/>
<text x="258.65" y="116.74" font-size="3.2" text-anchor="end" fill="#000" transform="rotate(-90 258.65 116.74)">24 17</text>
<line x1="258.7" y1="114.5" x2="258.7" y2="115.62" stroke="#000" stroke-width="0.3"/>
<text x="260.65" y="116.74" font-size="3.2" text-anchor="end" fill="#000" transform="rotate(-90 260.65 116.74)">03 22</text>
<line x1="261" y1="114.5" x2="261" y2="115.62" stroke="#000" stroke-width="0.3"/>
<text x="262.95" y="116.74" font-size="3.2" text-anchor="end" fill="#000" transform="rotate(-90 262.95 116.74)">10 03</text>
<line x1="269.6" y1="114.5" x2="269.6" y2="115.62" stroke="#000" stroke-width="0.3"/>
<text x="271.55" y="116.74" font-size="3.2" text-anchor="end" fill="#000" transform="rotate(-90 271.55 116.74)">17 08</text>
<line x1="271.1" y1="114.5" x2="271.1" y2="115.62" stroke="#000" stroke-width="0.3"/>
<text x="273.05" y="116.74" font-size="3.2" text-anchor="end" fill="#000" transform="rotate(-90 273.05 116.74)">24 13</text>
<line x1="272.9" y1="114.5" x2="272.9" y2="115.62" stroke="#000" stroke-width="0.3"/>
<text x="274.85" y="116.74" font-size="3.2" text-anchor="end" fill="#000" transform="rotate(-90 274.85 116.74)">03 18</text>
<line x1="277.5" y1="114.5" x2="277.5" y2="115.62" stroke="#000" stroke-width="0.3"/>
<text x="279.45" y="116.74" font-size="3.2" text-anchor="end" fill="#000" transform="rotate(-90 279.45 116.74)">10 23</text>
<line x1="285.1" y1="114.5" x2="285.1" y2="115.62" stroke="#000" stroke-width="0.3"/>
<text x="287.05" y="116.74" font-size="3.2" text-anchor="end" fill="#000" transform="rotate(-90 287.05 116.74)">17 04</text>
<line x1="293.7" y1="114.5" x2="293.7" y2="115.62" stroke="#000" stroke-width="0.3"/>
<text x="295.65" y="116.74" font-size="3.2" text-anchor="end" fill="#000" transform="rotate(-90 295.65 116.74)">24 09</text>
<line x1="306.1" y1="114.5" x2="306.1" y2="115.62" stroke="#000" stroke-width="0.3"/>
<text x="308.05" y="116.74" font-size="3.2" text-anchor="end" fill="#000" transform="rotate(-90 308.05 116.74)">03 14</text>
<line x1="309.3" y1="114.5" x2="309.3" y2="115.62" stroke="#000" stroke-width="0.3"/>
<text x="311.25" y="116.74" font-size="3.2" text-anchor="end" fill="#000" transform="rotate(-90 311.25 116.74)">10 19</text>
<line x1="321.7" y1="114.5" x2="321.7" y2="115.62" stroke="#000" stroke-width="0.3"/>
<text x="323.65" y="116.74" font-size="3.2" text-anchor="end" fill="#000" transform="rotate(-90 323.65 116.74)">17 00</text>
<line x1="329.6" y1="114.5" x2="329.6" y2="115.62" stroke="#000" stroke-width="0.3"/>
<text x="331.55" y="116.74" font-size="3.2" text-anchor="end" fill="#000" transform="rotate(-90 331.55 116.74)">24 05</text>
<line x1="337.5" y1="114.5" x2="337.5" y2="115.62" stroke="#000" stroke-width="0.3"/>
<text x="339.45" y="116.74" font-size="3.2" text-anchor="end" fill="#000" transform="rotate(-90 339.45 116.74)">03 10</text>
<line x1="343.1" y1="114.5" x2="343.1" y2="115.62" stroke="#000" stroke-width="0.3"/>
<text x="345.05" y="116.74" font-size="3.2" text-anchor="end" fill="#000" transform="rotate(-90 345.05 116.74)">10 15</text>
<line x1="344.9" y1="114.5" x2="344.9" y2="115.62" stroke="#000" stroke-width="0.3"/>
<text x="346.85" y="116.74" font-size="3.2" text-anchor="end" fill="#000" transform="rotate(-90 346.85 116.74)">17 20</text>
<line x1="346.5" y1="114.5" x2="346.5" y2="115.62" stroke="#000" stroke-width="0.3"/>
<text x="348.45" y="116.74" font-size="3.2" text-anchor="end" fill="#000" transform="rotate(-90 348.45 116.74)">24 01</text>
<line x1="352.1" y1="114.5" x2="352.1" y2="115.62" stroke="#000" stroke-width="0.3"/>
<text x="354.05" y="116.74" font-size="3.2" text-anchor="end" fill="#000" transform="rotate(-90 354.05 116.74)">03 06</text>
<line x1="357.1" y1="114.5" x2="357.1" y2="115.62" stroke="#000" stroke-width="0.3"/>
<text x="359.05" y="116.74" font-size="3.2" text-anchor="end" fill="#000" transform="rotate(-90 359.05 116.74)">10 11</text>
<line x1="358.9" y1="114.5" x2="358.9" y2="115.62" stroke="#000" stroke-width="0.3"/>
<text x="360.85" y="116.74" font-size="3.2" text-anchor="end" fill="#000" transform="rotate(-90 360.85 116.74)">17 16</text>
<line x1="360.7" y1="114.5" x2="360.7" y2="115.62" stroke="#000" stroke-width="0.3"/>
<text x="362.65" y="116.74" font-size="3.2" text-anchor="end" fill="#000" transform="rotate(-90 362.65 116.74)">24 21</text>
<line x1="364.5" y1="114.5" x2="364.5" y2="115.62" stroke="#000" stroke-width="0.3"/>
<text x="366.45" y="116.74" font-size="3.2" text-anchor="end" fill="#000" transform="rotate(-90 366.45 116.74)">03 02:04</text>
<line x1="367.9" y1="114.5" x2="367.9" y2="115.62" stroke="#000" stroke-width="0.3"/>
<text x="369.85" y="116.74" font-size="3.2" text-anchor="end" fill="#000" transform="rotate(-90 369.85 116.74)">10 07</text>
<line x1="387.1" y1="114.5" x2="387.1" y2="115.62" stroke="#000" stroke-width="0.3"/>
<text x="389.05" y="116.74" font-size="3.2" text-anchor="end" fill="#000" transform="rotate(-90 389.05 116.74)">17 12:30</text>
<text x="307.25" y="7.18" font-size="3.84" text-anchor="middle" fill="#000">BEAM_2022-8-7 17:40</text>
<text x="307.25" y="134.5" font-size="3.2" text-anchor="middle" fill="#000">datetime</text>
<text x="205.8" y="61.55" font-size="3.2" text-anchor="middle" fill="#000" transform="rotate(-90 205.8 61.55)">BIG_volume</text>
<rect x="219.6" y="10.2" width="43.62" height="10" rx="0.6" fill="#fff" stroke="#e0e0e0" stroke-width="0.32"/>
<line x1="220.88" y1="12.6" x2="227.28" y2="12.6" stroke="#6a78b4" stroke-width="0.8" stroke-dasharray="1.8 0.8"/>
<line x1="220.88" y1="17.5" x2="227.28" y2="17.5" stroke="#dcd068" stroke-width="0.8" stroke-dasharray="2.6 0.3"/>
<text x="229.84" y="13.75" font-size="3.2" text-anchor="start" fill="#000">2022-8-7 17:40</text>
<text x="229.84" y="18.65" font-size="3.2" text-anchor="start" fill="#000">anomalous volumes</text>
</g>
<g>
<clipPath id="c2"><rect x="18" y="146" width="178.5" height="106.5"/></clipPath>
<g clip-path="url(#c2)">
<line x1="53.5" y1="146" x2="53.5" y2="252.5" stroke="#ff60c0" stroke-width="0.5" stroke-opacity="0.35"/>
<line x1="152.5" y1="146" x2="152.5" y2="252.5" stroke="#ff60c0" stroke-width="0.5" stroke-opacity="0.35"/>
<rect x="25.1" y="221.14" width="163.9" height="9.98" fill="#e0f8e8"/>
<line x1="25.1" y1="220.86" x2="189" y2="220.86" stroke="#dcd068" stroke-width="0.75" stroke-dasharray="2.6 0.3"/>
<line x1="25.1" y1="231.26" x2="189" y2="231.26" stroke="#dcd068" stroke-width="0.75" stroke-dasharray="2.6 0.3"/>
<path d="M25.43 226.25L25.76 227.91M27.4 225.41L27.73 227.05L28.06 226.93L28.38 225.76L28.71 224.37M31.01 226.8L31.34 226.19L31.67 226.9L32 226.33M32.65 226.99L32.98 226.47L33.31 225.14L33.64 226.71M35.94 228.13L36.27 225.9L36.6 225.11L36.92 227.73L37.25 226.88M38.24 226.45L38.57 227.62L38.9 227.69L39.22 224.82L39.55 225.03L39.88 226.47M42.51 226.26L42.84 225.85M43.82 225.79L44.15 226.03L44.48 224.38M44.81 226.54L45.14 224.46M45.79 227.92L46.12 227.83M48.42 225.53L48.75 226.51M49.41 227.08L49.73 227.36M50.72 225.64L51.05 227.83M51.71 227.33L52.03 227.41M56.3 225.37L56.63 225.9L56.96 226.37M58.93 225.85L59.26 226.44M60.24 225.85L60.57 226.78L60.9 224.94M61.89 226.92L62.22 226.67L62.54 226.42L62.87 226.61L63.2 226.76L63.53 226.94M64.19 227.38L64.51 227.02L64.84 225.85L65.17 226.46L65.5 225.86L65.83 225.56L66.16 225.19L66.49 225.6L66.81 227L67.14 225.31L67.47 227.61L67.8 226.29L68.13 226.6L68.46 227.05L68.78 225.73L69.11 226.35L69.44 225.38L69.77 227.39L70.1 225.52L70.43 225.8M70.76 226.1L71.08 227.34L71.41 226.4M72.07 227.87L72.4 225.08M73.05 224.77L73.38 226.54L73.71 225.64L74.04 225.64L74.37 225.72L74.7 226.2L75.03 226.38L75.35 227.86L75.68 225.71L76.01 225.86L76.34 225.31L76.67 226.42L77 224.81L77.32 226.56L77.65 227.2L77.98 225.45L78.31 226.57M78.64 227.2L78.97 226.1L79.3 225.59L79.62 226.01L79.95 225.8M80.61 227.93L80.94 224.97L81.27 227.79L81.59 225.91L81.92 225.58L82.25 226.49L82.58 226.9L82.91 225.88M83.57 226.68L83.89 225.28L84.22 225.13L84.55 225.96L84.88 226.56L85.21 225.79L85.54 225.54L85.86 225.7L86.19 227.36L86.52 226.47L86.85 225.91L87.18 225.7L87.51 225.43L87.84 227.41L88.16 227.11M88.82 227.18L89.15 224.76L89.48 226.06L89.81 227.21L90.13 225.37L90.46 226.46M90.79 227.12L91.12 226.54L91.45 226.32L91.78 225L92.11 225.5L92.43 225.5L92.76 225.67L93.09 225.61L93.42 227.05L93.75 226.29L94.08 227.68L94.4 225.94M95.06 227.28L95.39 226.76L95.72 226.01L96.05 226.64L96.38 225.96L96.7 225.76L97.03 226.87L97.36 226.45L97.69 224.48L98.02 226.1L98.35 226.88L98.67 226.15L99 227.27L99.33 225.29M99.66 227.76L99.99 225.33L100.32 227.91L100.65 225.89L100.97 227.92L101.3 226.05L101.63 226.73L101.96 227.02L102.29 226.56M103.27 227.57L103.6 226.26L103.93 227.25L104.26 227.82L104.59 226.27L104.92 226.44L105.24 226.33L105.57 225.76L105.9 226.69L106.23 225.9L106.56 225.79L106.89 226.47M107.54 225.77L107.87 226.15L108.2 226.07L108.53 228.1L108.86 226.15L109.18 225.9L109.51 226.31L109.84 225.93L110.17 226.63L110.5 226.13L110.83 225.67L111.16 226.88M111.81 224.64L112.14 227.02M112.8 224.5L113.13 226.34L113.45 227.35L113.78 227.52L114.11 225.3L114.44 227.05L114.77 226.72L115.1 226.69L115.43 228.11L115.75 225.36M116.41 225.62L116.74 226.49L117.07 225L117.4 227.42L117.72 227.82L118.05 225.99L118.38 226.2L118.71 226.31L119.04 226.17L119.37 227.51L119.7 227.13L120.02 225.21L120.35 225.38L120.68 226.78L121.01 224.65L121.34 227.06L121.67 226.66L121.99 225.97L122.32 227.16L122.65 226.59L122.98 226.34M123.64 225.5L123.97 225.73L124.29 227.08L124.62 224.22L124.95 226.06L125.28 226.25L125.61 226.83L125.94 225.86L126.26 225.54L126.59 226.7L126.92 225.57L127.25 227.5M127.58 227.49L127.91 225.8L128.24 226.87L128.56 227L128.89 226.41L129.22 226.74L129.55 225.94L129.88 227.36L130.21 226.5M130.86 226.11L131.19 227.73L131.52 225.72L131.85 225.76L132.18 225.09L132.51 226.08M133.16 225.07L133.49 225.63L133.82 227.64L134.15 225.6L134.48 226.39L134.8 225.31L135.13 226.5L135.46 225.57L135.79 228.17L136.12 225.73L136.45 226.22L136.78 226.53L137.1 226.15L137.43 225.69L137.76 225.87L138.09 224.91L138.42 225.86L138.75 225.69L139.07 224.52L139.4 226.15L139.73 225.77L140.06 226.68L140.39 226.17L140.72 224.89L141.05 225.95L141.37 225.04L141.7 227.05L142.03 227.32L142.36 225.95M142.69 227.3L143.02 225.84L143.34 225.2L143.67 227.2L144 226.33M144.66 225.87L144.99 226.25L145.32 227.98L145.64 225.03L145.97 226.38L146.3 227.14L146.63 225.75L146.96 226.33L147.29 225.28L147.61 226.32L147.94 225.54L148.27 225.93L148.6 226.35L148.93 226.56L149.26 225.63M149.91 225.53L150.24 226.31L150.57 225.63L150.9 226.11L151.23 227.22L151.56 225.95L151.88 224.96L152.21 226.45M152.54 227.1L152.87 225.81L153.2 224.74L153.53 225.45L153.86 225.39L154.18 224.36L154.51 224.9L154.84 225.63L155.17 226.37L155.5 226.09L155.83 226.28L156.15 225.52L156.48 226.91M157.14 226.08L157.47 226.52L157.8 225.55L158.13 227.86L158.45 226.87L158.78 226.73L159.11 225.54L159.44 226.59L159.77 225.06M160.42 225.78L160.75 226.77M161.41 226.4L161.74 225.78L162.07 226.59L162.39 227.07L162.72 226.38L163.05 225.32M164.04 226.45L164.37 225.58L164.69 227.04L165.02 226.64L165.35 226.05L165.68 226.46L166.01 225.97L166.34 225.25L166.66 226.18L166.99 224.7L167.32 225.59L167.65 226.25L167.98 226.96L168.31 227.01L168.64 227.09L168.96 224.67L169.29 226.24L169.62 225.74L169.95 228.02L170.28 226.95L170.61 225.7L170.93 226.65L171.26 224.69L171.59 226.37L171.92 227.06L172.25 226.47L172.58 225.93L172.91 224.37L173.23 226.6L173.56 226.33L173.89 225.9L174.22 226.05L174.55 226.33L174.88 227.07L175.2 226.97L175.53 226.35L175.86 227.13L176.19 226.73L176.52 227.2L176.85 225.3L177.18 227.4L177.5 224.68L177.83 226.66L178.16 227.04L178.49 227.15M179.15 225.38L179.47 226.88L179.8 225.93L180.13 226.32L180.46 226.39L180.79 226.08L181.12 225.59L181.45 227.73L181.77 227.98L182.1 226.03L182.43 226.26L182.76 225.65L183.09 227.57L183.42 226.99L183.74 224.97L184.07 227.25L184.4 225.91M185.39 227.3L185.72 225.25L186.04 227.72L186.37 227.16L186.7 226.93L187.03 225.26L187.36 225.96M188.01 226.21L188.34 226.01" fill="none" stroke="#2f5a33" stroke-width="1.9" stroke-linejoin="round" stroke-linecap="round"/>
<path d="M25.1 222.63L25.43 226.25M25.76 227.91L26.09 221.83L26.41 224.59L26.74 219.39L27.07 228.79L27.4 225.41M28.71 224.37L29.04 222.26L29.37 229.03L29.7 229.38L30.03 226.68L30.36 223.02L30.5 226.18L30.5 221.5L30.5 226.18L30.68 222.96L31.01 226.8M32 226.33L32.33 223.98L32.65 226.99M33.64 226.71L33.97 228.61L34.3 227.08L34.5 226.37L34.5 222L34.5 226.37L34.63 226.32L34.95 229.67L35.28 226.71L35.61 231.54L35.94 228.13M37.25 226.88L37.5 225.66L37.58 222.86M42.5 226.55L42.51 226.26M44.48 224.38L44.5 226.23L44.81 226.54M47.44 225.78L47.5 226.09L47.76 225.61M50.39 226.27L50.5 226.09L50.72 225.64M51.05 227.83L51.38 223.05L51.71 227.33M53.35 227.16L53.5 226.15M59.26 226.44L59.5 226.36L59.59 224.13M63.53 226.94L63.86 224.16L64.19 227.38M70.43 225.8L70.5 225.91L70.5 231L70.5 225.91L70.76 226.1M71.41 226.4L71.74 229.94L72.07 227.87M72.4 225.08L72.73 228.76L73.05 224.77M78.31 226.57L78.5 226.42L78.5 222L78.5 226.42L78.64 227.2M79.95 225.8L80.28 222.91L80.61 227.93M82.91 225.88L83.24 223.76L83.57 226.68M88.16 227.11L88.49 229.63L88.82 227.18M90.46 226.46L90.5 226.35L90.79 227.12M94.4 225.94L94.73 223.14L95.06 227.28M99.33 225.29L99.5 226.48L99.5 222L99.5 226.48L99.66 227.76M102.29 226.56L102.62 228.2L102.94 222.95L103.27 227.57M106.89 226.47L107.21 229.06L107.54 225.77M111.16 226.88L111.48 224.1L111.81 224.64M112.14 227.02L112.47 223.9L112.8 224.5M115.75 225.36L116.08 223.52L116.41 225.62M122.98 226.34L123.31 224.17L123.64 225.5M127.25 227.5L127.5 225.81L127.58 227.49M130.21 226.5L130.53 223.67L130.86 226.11M132.51 226.08L132.83 230.17L133.16 225.07M142.36 225.95L142.5 226.25L142.5 221.3L142.5 226.25L142.69 227.3M144 226.33L144.33 223.23L144.66 225.87M149.26 225.63L149.59 224.18L149.91 225.53M152.21 226.45L152.5 226.87L152.54 227.1M156.48 226.91L156.81 228.39L157.14 226.08M159.77 225.06L160.1 228.7L160.42 225.78M160.75 226.77L161.08 223.72L161.41 226.4M163.05 225.32L163.38 229.37L163.71 230.88L164.04 226.45M178.49 227.15L178.82 223.73L179.15 225.38M184.4 225.91L184.5 225.66L184.73 226.84L185.06 229.59L185.39 227.3M187.36 225.96L187.69 224.12L188.01 226.21M188.34 226.01L188.5 227.08L188.67 225.8L189 222.9" fill="none" stroke="#4a5e4c" stroke-width="0.45" stroke-linejoin="round"/>
<path d="M37.5 225.66L37.5 218L37.5 225.66M37.58 222.86L37.91 223.1L38.24 226.45M39.88 226.47L40.21 222.81L40.54 226.16L40.87 230.37L41.19 226.13L41.52 230.09L41.85 226.5L42.18 222.4L42.5 226.55L42.5 214.6L42.5 226.55M42.84 225.85L43.17 221.02L43.49 230.42L43.82 225.79M44.5 226.23L44.5 217L44.5 226.23M45.14 224.46L45.46 221.6L45.79 227.92M46.12 227.83L46.45 230.38L46.5 226.49L46.5 231L46.5 226.49L46.78 222.8L47.11 223.62L47.44 225.78M47.5 226.09L47.5 240.8L47.5 226.09M47.76 225.61L48.09 229.04L48.42 225.53M48.75 226.51L49.08 222.66L49.41 227.08M49.73 227.36L50.06 230.86L50.39 226.27M50.5 226.09L50.5 217.4L50.5 247.2L50.5 226.09M52.03 227.41L52.36 223.04L52.5 226.2L52.5 233L52.5 226.2L52.69 221.78L53.02 229.46L53.35 227.16M53.5 226.15L53.68 222.66L54 226.57L54.33 231.92L54.66 230.15L54.99 225.75L55.32 224L55.5 226.18L55.5 222L55.5 226.18L55.65 221.25L55.97 223.87L56.3 225.37M56.96 226.37L57.29 222.72L57.62 228.07L57.95 222L58.27 222.58L58.6 231.17L58.93 225.85M59.5 226.36L59.5 238.7L59.5 220L59.5 226.36M59.59 224.13L59.92 229.38L60.24 225.85M60.9 224.94L61.23 223.28L61.56 230.14L61.89 226.92M90.5 226.35L90.5 239.5L90.5 216L90.5 226.35M127.5 225.81L127.5 201.7L127.5 225.81M152.5 226.87L152.5 221L152.5 226.87M184.5 225.66L184.5 234.2L184.5 225.66M188.5 227.08L188.5 234.2L188.5 216.7L188.5 227.08" fill="none" stroke="#c47860" stroke-width="0.45"/>
<path d="M53.5 226.15L53.5 150.3L53.5 226.15" fill="none" stroke="#e87890" stroke-width="0.45"/>
<path d="M25.1 222.63h0M26.09 221.83h0M26.74 219.39h0M27.07 228.79h0M29.04 222.26h0M29.37 229.03h0M29.7 229.38h0M30.36 223.02h0M30.5 221.5h0M30.68 222.96h0M32.33 223.98h0M33.97 228.61h0M34.5 222h0M34.95 229.67h0M35.61 231.54h0M37.58 222.86h0M51.38 223.05h0M59.59 224.13h0M63.86 224.16h0M70.5 231h0M71.74 229.94h0M72.73 228.76h0M78.5 222h0M80.28 222.91h0M83.24 223.76h0M88.49 229.63h0M94.73 223.14h0M99.5 222h0M102.62 228.2h0M102.94 222.95h0M107.21 229.06h0M111.48 224.1h0M112.47 223.9h0M116.08 223.52h0M123.31 224.17h0M130.53 223.67h0M132.83 230.17h0M142.5 221.3h0M144.33 223.23h0M149.59 224.18h0M156.81 228.39h0M160.1 228.7h0M161.08 223.72h0M163.38 229.37h0M163.71 230.88h0M178.82 223.73h0M185.06 229.59h0M187.69 224.12h0M189 222.9h0" stroke="#2d4a32" stroke-width="2.5" stroke-linecap="round"/>
<path d="M37.5 218h0M37.91 223.1h0M40.21 222.81h0M40.87 230.37h0M41.52 230.09h0M42.18 222.4h0M42.5 214.6h0M43.17 221.02h0M43.49 230.42h0M44.5 217h0M45.46 221.6h0M46.45 230.38h0M46.5 231h0M46.78 222.8h0M47.11 223.62h0M47.5 240.8h0M48.09 229.04h0M49.08 222.66h0M50.06 230.86h0M50.5 217.4h0M50.5 247.2h0M52.36 223.04h0M52.5 233h0M52.69 221.78h0M53.02 229.46h0M53.5 150.3h0M53.68 222.66h0M54.33 231.92h0M54.66 230.15h0M55.32 224h0M55.5 222h0M55.65 221.25h0M55.97 223.87h0M57.29 222.72h0M57.95 222h0M58.27 222.58h0M58.6 231.17h0M59.5 238.7h0M59.5 220h0M59.92 229.38h0M61.23 223.28h0M61.56 230.14h0M90.5 239.5h0M90.5 216h0M127.5 201.7h0M152.5 221h0M184.5 234.2h0M188.5 234.2h0M188.5 216.7h0" stroke="#4a2818" stroke-width="2.5" stroke-linecap="round"/>
<line x1="181.9" y1="150.5" x2="181.9" y2="248" stroke="#6a78b4" stroke-width="0.8" stroke-dasharray="1.8 0.8"/>
<line x1="188.2" y1="150.5" x2="188.2" y2="248" stroke="#6a78b4" stroke-width="0.8" stroke-dasharray="1.8 0.8"/>
</g>
<rect x="18" y="146" width="178.5" height="106.5" fill="none" stroke="#000" stroke-width="0.4"/>
<line x1="16.88" y1="155.95" x2="18" y2="155.95" stroke="#000" stroke-width="0.3"/>
<text x="15.76" y="158" font-size="3.2" text-anchor="end" fill="#000">2.5</text>
<line x1="16.88" y1="170" x2="18" y2="170" stroke="#000" stroke-width="0.3"/>
<text x="15.76" y="172.05" font-size="3.2" text-anchor="end" fill="#000">2.0</text>
<line x1="16.88" y1="184.05" x2="18" y2="184.05" stroke="#000" stroke-width="0.3"/>
<text x="15.76" y="186.1" font-size="3.2" text-anchor="end" fill="#000">1.5</text>
<line x1="16.88" y1="198.1" x2="18" y2="198.1" stroke="#000" stroke-width="0.3"/>
<text x="15.76" y="200.15" font-size="3.2" text-anchor="end" fill="#000">1.0</text>
<line x1="16.88" y1="212.15" x2="18" y2="212.15" stroke="#000" stroke-width="0.3"/>
<text x="15.76" y="214.2" font-size="3.2" text-anchor="end" fill="#000">0.5</text>
<line x1="16.88" y1="226.2" x2="18" y2="226.2" stroke="#000" stroke-width="0.3"/>
<text x="15.76" y="228.25" font-size="3.2" text-anchor="end" fill="#000">0.0</text>
<line x1="16.88" y1="240.25" x2="18" y2="240.25" stroke="#000" stroke-width="0.3"/>
<text x="15.76" y="242.3" font-size="3.2" text-anchor="end" fill="#000">−0.5</text>
<line x1="27" y1="252.5" x2="27" y2="253.62" stroke="#000" stroke-width="0.3"/>
<text x="28.95" y="254.74" font-size="3.2" text-anchor="end" fill="#000" transform="rotate(-90 28.95 254.74)">04 09</text>
<line x1="33.8" y1="252.5" x2="33.8" y2="253.62" stroke="#000" stroke-width="0.3"/>
<text x="35.75" y="254.74" font-size="3.2" text-anchor="end" fill="#000" transform="rotate(-90 35.75 254.74)">11 14</text>
<line x1="40.6" y1="252.5" x2="40.6" y2="253.62" stroke="#000" stroke-width="0.3"/>
<text x="42.55" y="254.74" font-size="3.2" text-anchor="end" fill="#000" transform="rotate(-90 42.55 254.74)">18 19</text>
<line x1="49.6" y1="252.5" x2="49.6" y2="253.62" stroke="#000" stroke-width="0.3"/>
<text x="51.55" y="254.74" font-size="3.2" text-anchor="end" fill="#000" transform="rotate(-90 51.55 254.74)">25 00</text>
<line x1="57.5" y1="252.5" x2="57.5" y2="253.62" stroke="#000" stroke-width="0.3"/>
<text x="59.45" y="254.74" font-size="3.2" text-anchor="end" fill="#000" transform="rotate(-90 59.45 254.74)">04 05</text>
<line x1="65.4" y1="252.5" x2="65.4" y2="253.62" stroke="#000" stroke-width="0.3"/>
<text x="67.35" y="254.74" font-size="3.2" text-anchor="end" fill="#000" transform="rotate(-90 67.35 254.74)">11 10</text>
<line x1="72.8" y1="252.5" x2="72.8" y2="253.62" stroke="#000" stroke-width="0.3"/>
<text x="74.75" y="254.74" font-size="3.2" text-anchor="end" fill="#000" transform="rotate(-90 74.75 254.74)">18 15</text>
<line x1="80" y1="252.5" x2="80" y2="253.62" stroke="#000" stroke-width="0.3"/>
<text x="81.95" y="254.74" font-size="3.2" text-anchor="end" fill="#000" transform="rotate(-90 81.95 254.74)">25 20</text>
<line x1="88" y1="252.5" x2="88" y2="253.62" stroke="#000" stroke-width="0.3"/>
<text x="89.95" y="254.74" font-size="3.2" text-anchor="end" fill="#000" transform="rotate(-90 89.95 254.74)">04 01</text>
<line x1="94.7" y1="252.5" x2="94.7" y2="253.62" stroke="#000" stroke-width="0.3"/>
<text x="96.65" y="254.74" font-size="3.2" text-anchor="end" fill="#000" transform="rotate(-90 96.65 254.74)">11 06</text>
<line x1="101.9" y1="252.5" x2="101.9" y2="253.62" stroke="#000" stroke-width="0.3"/>
<text x="103.85" y="254.74" font-size="3.2" text-anchor="end" fill="#000" transform="rotate(-90 103.85 254.74)">18 11</text>
<line x1="109.1" y1="252.5" x2="109.1" y2="253.62" stroke="#000" stroke-width="0.3"/>
<text x="111.05" y="254.74" font-size="3.2" text-anchor="end" fill="#000" transform="rotate(-90 111.05 254.74)">25 16</text>
<line x1="115.9" y1="252.5" x2="115.9" y2="253.62" stroke="#000" stroke-width="0.3"/>
<text x="117.85" y="254.74" font-size="3.2" text-anchor="end" fill="#000" transform="rotate(-90 117.85 254.74)">04 21</text>
<line x1="121.5" y1="252.5" x2="121.5" y2="253.62" stroke="#000" stroke-width="0.3"/>
<text x="123.45" y="254.74" font-size="3.2" text-anchor="end" fill="#000" transform="rotate(-90 123.45 254.74)">11 02</text>
<line x1="127.2" y1="252.5" x2="127.2" y2="253.62" stroke="#000" stroke-width="0.3"/>
<text x="129.15" y="254.74" font-size="3.2" text-anchor="end" fill="#000" transform="rotate(-90 129.15 254.74)">18 07</text>
<line x1="133.9" y1="252.5" x2="133.9" y2="253.62" stroke="#000" stroke-width="0.3"/>
<text x="135.85" y="254.74" font-size="3.2" text-anchor="end" fill="#000" transform="rotate(-90 135.85 254.74)">25 12</text>
<line x1="139.6" y1="252.5" x2="139.6" y2="253.62" stroke="#000" stroke-width="0.3"/>
<text x="141.55" y="254.74" font-size="3.2" text-anchor="end" fill="#000" transform="rotate(-90 141.55 254.74)">04 17</text>
<line x1="146.3" y1="252.5" x2="146.3" y2="253.62" stroke="#000" stroke-width="0.3"/>
<text x="148.25" y="254.74" font-size="3.2" text-anchor="end" fill="#000" transform="rotate(-90 148.25 254.74)">11 22</text>
<line x1="152" y1="252.5" x2="152" y2="253.62" stroke="#000" stroke-width="0.3"/>
<text x="153.95" y="254.74" font-size="3.2" text-anchor="end" fill="#000" transform="rotate(-90 153.95 254.74)">18 03</text>
<line x1="158.8" y1="252.5" x2="158.8" y2="253.62" stroke="#000" stroke-width="0.3"/>
<text x="160.75" y="254.74" font-size="3.2" text-anchor="end" fill="#000" transform="rotate(-90 160.75 254.74)">25 08</text>
<line x1="165.5" y1="252.5" x2="165.5" y2="253.62" stroke="#000" stroke-width="0.3"/>
<text x="167.45" y="254.74" font-size="3.2" text-anchor="end" fill="#000" transform="rotate(-90 167.45 254.74)">04 13</text>
<line x1="171.2" y1="252.5" x2="171.2" y2="253.62" stroke="#000" stroke-width="0.3"/>
<text x="173.15" y="254.74" font-size="3.2" text-anchor="end" fill="#000" transform="rotate(-90 173.15 254.74)">11 18</text>
<line x1="176.8" y1="252.5" x2="176.8" y2="253.62" stroke="#000" stroke-width="0.3"/>
<text x="178.75" y="254.74" font-size="3.2" text-anchor="end" fill="#000" transform="rotate(-90 178.75 254.74)">18 23</text>
<line x1="179.1" y1="252.5" x2="179.1" y2="253.62" stroke="#000" stroke-width="0.3"/>
<text x="181.05" y="254.74" font-size="3.2" text-anchor="end" fill="#000" transform="rotate(-90 181.05 254.74)">25 04:59</text>
<line x1="181.3" y1="252.5" x2="181.3" y2="253.62" stroke="#000" stroke-width="0.3"/>
<text x="183.25" y="254.74" font-size="3.2" text-anchor="end" fill="#000" transform="rotate(-90 183.25 254.74)">04 09:12</text>
<line x1="188.1" y1="252.5" x2="188.1" y2="253.62" stroke="#000" stroke-width="0.3"/>
<text x="190.05" y="254.74" font-size="3.2" text-anchor="end" fill="#000" transform="rotate(-90 190.05 254.74)">11 14:25</text>
<text x="107.25" y="144.58" font-size="3.84" text-anchor="middle" fill="#000">BEL_2021-11-4 9:41</text>
<text x="107.25" y="272.5" font-size="3.2" text-anchor="middle" fill="#000">datetime</text>
<text x="5.8" y="199.25" font-size="3.2" text-anchor="middle" fill="#000" transform="rotate(-90 5.8 199.25)">BIG_volume</text>
<rect x="151.28" y="147.6" width="43.62" height="10" rx="0.6" fill="#fff" stroke="#e0e0e0" stroke-width="0.32"/>
<line x1="152.56" y1="150" x2="158.96" y2="150" stroke="#6a78b4" stroke-width="0.8" stroke-dasharray="1.8 0.8"/>
<line x1="152.56" y1="154.9" x2="158.96" y2="154.9" stroke="#dcd068" stroke-width="0.8" stroke-dasharray="2.6 0.3"/>
<text x="161.52" y="151.15" font-size="3.2" text-anchor="start" fill="#000">2021-11-4 9:41</text>
<text x="161.52" y="156.05" font-size="3.2" text-anchor="start" fill="#000">anomalous volumes</text>
</g>
<g>
<clipPath id="c3"><rect x="218" y="146" width="178.5" height="106.5"/></clipPath>
<g clip-path="url(#c3)">
<rect x="278.5" y="146" width="6" height="106.5" fill="#ffc0d8" fill-opacity="0.09" stroke="#ff80b0" stroke-width="0.3" stroke-opacity="0.3"/>
<rect x="224.4" y="197.65" width="163.6" height="15.99" fill="#eefcf8"/>
<line x1="224.4" y1="179.81" x2="388" y2="179.81" stroke="#dcd068" stroke-width="0.75" stroke-dasharray="2.6 0.3"/>
<line x1="224.4" y1="227.42" x2="388" y2="227.42" stroke="#dcd068" stroke-width="0.75" stroke-dasharray="2.6 0.3"/>
<path d="M225.49 205.1L225.86 203.99L226.22 204.05M226.59 203.86L226.95 204.24M229.5 203.76L229.87 204.08L230.23 204.18L230.59 204.88L230.96 203.11M233.14 204.52L233.51 204.3L233.87 203.36M234.6 204.34L234.97 203.96L235.33 203.28L235.7 202.42L236.06 204.67L236.42 204.24M236.79 204.36L237.15 205.49L237.52 204.45L237.88 204.52L238.25 203.01M238.97 204.94L239.34 203.35L239.7 204.05L240.07 205.02L240.43 204.22L240.8 204.21L241.16 204.41M241.53 203.78L241.89 205.37M242.62 203.09L242.98 203.2L243.35 203.02L243.71 203.02L244.08 202.76L244.44 204.58M245.17 205.1L245.53 204.22L245.9 205.14M246.99 203.94L247.36 202.56M248.08 203.69L248.45 203.69L248.81 204.54L249.18 203.49L249.54 202.44M251 202.56L251.36 203.46L251.73 203.33L252.09 203.35L252.46 203.63M253.18 202.83L253.55 204.76L253.91 203.63L254.28 203.37L254.64 204.39L255.01 203.7L255.37 202.98L255.74 203.82M256.83 204.48L257.19 204.21M257.92 204.47L258.29 203.54M259.01 203.88L259.38 203.32L259.74 204.4M260.84 203.19L261.2 204.71M262.29 202.94L262.66 203.7L263.02 204.17L263.39 204.31M264.48 204.16L264.84 203.93L265.21 204.09M265.94 204.28L266.3 203.46L266.67 203.2L267.03 203.46L267.4 204.38L267.76 202.86L268.12 204.27L268.49 203.5M268.85 204.33L269.22 205.02M269.95 203.6L270.31 203.85L270.67 203.61M271.77 203.92L272.13 202.46L272.5 203.23M274.68 204.17L275.05 204.97L275.41 204.43M275.78 203.74L276.14 203.71L276.5 202.93L276.87 204.3L277.23 203.29L277.6 203.5M278.33 203.21L278.69 203.46L279.05 204.4M280.51 203.8L280.88 203.5L281.24 204.31M281.61 203.82L281.97 203.9L282.33 205.57M283.06 203.75L283.43 203.98M283.79 204.71L284.16 201.93L284.52 203.85M285.25 202.81L285.61 204.55M286.71 204.25L287.07 204.1L287.44 204.18L287.8 203.89L288.16 204.94L288.53 204.66L288.89 203.9L289.26 203.07L289.62 203.36M290.35 203.31L290.71 204.16L291.08 203.89M291.81 204.47L292.17 204.51L292.54 203.61M293.27 204.19L293.63 204.21L293.99 204.88L294.36 203.89L294.72 203.63M295.45 204.35L295.82 202.41L296.18 202.96M296.91 204.17L297.27 204.03L297.64 203.69L298 203.81L298.37 203.46L298.73 203.26L299.09 202.84M299.82 203.88L300.19 203.53M300.92 204.21L301.28 202.46L301.65 204.12L302.01 204.99L302.37 204.04M302.74 203.62L303.1 203.04M304.92 203.92L305.29 204.25L305.65 202.66L306.02 203.92L306.38 202.59L306.75 205.68L307.11 203.79L307.48 203.41M308.93 203.99L309.3 203.5M310.03 203.62L310.39 203.59L310.75 204.11M311.48 204.7L311.85 203.94L312.21 202.08L312.58 203.05L312.94 203.35L313.31 203.03M313.67 202.48L314.03 203.38L314.4 202.35L314.76 203.05L315.13 203.68L315.49 202.6L315.86 205.45L316.22 204.2L316.58 203.61L316.95 204.44L317.31 203.91L317.68 204.25L318.04 204.26L318.41 201.9M318.77 203.36L319.13 203.84M319.86 203.97L320.23 203.18L320.59 203.55L320.96 202.66L321.32 204.79L321.69 203.26L322.05 203.71L322.41 204.61M322.78 203.05L323.14 204.41L323.51 202.67L323.87 203.44M324.96 203.17L325.33 205.11L325.69 203.75L326.06 204.24M326.79 203.83L327.15 203.37L327.52 204.39L327.88 202.51M328.61 203.95L328.97 203.81M330.07 202.47L330.43 204.64L330.79 204.23L331.16 204.54L331.52 204.58L331.89 204.95L332.25 203.55L332.62 204.61L332.98 202.75L333.35 203.16M333.71 204.52L334.07 204.52M334.8 202.82L335.17 204.39M336.26 203.54L336.62 204.26L336.99 202.67L337.35 203.63M338.08 204.4L338.45 203.83M338.81 203.91L339.18 205.39L339.54 203.6L339.9 205.06L340.27 203.82L340.63 204.83M341.36 203.57L341.73 203.2L342.09 203.16L342.45 204.73L342.82 205.4L343.18 204.03L343.55 203.17L343.91 203.74L344.28 203.25M344.64 203.14L345 204.84L345.37 203.6L345.73 202.42L346.1 204.2L346.46 205.22L346.83 203.96L347.19 204.13L347.56 203.51L347.92 204.42L348.28 203.74L348.65 205.35L349.01 203.2M350.11 204.86L350.47 203.58M351.93 204.5L352.29 203.56L352.66 203.7L353.02 203.14L353.39 203.71M354.11 205.16L354.48 204.61L354.84 204.13L355.21 203.59L355.57 203.8L355.94 202.75L356.3 204.41M357.39 203.96L357.76 203.45M358.49 202.81L358.85 204.02L359.22 203.02L359.58 203.82L359.94 202.76L360.31 204.78L360.67 203.44L361.04 204.1L361.4 203.64L361.77 202.97L362.13 204.6L362.49 204.73L362.86 204.5L363.22 203.62L363.59 205.12L363.95 203.73L364.32 204.7M365.04 204.06L365.41 203.53L365.77 204.24M366.5 203.83L366.87 203.99L367.23 205.67L367.6 204.1L367.96 203.74L368.32 203.03M369.05 203.33L369.42 203.74M370.15 203.74L370.51 203.25M371.24 204.42L371.6 203.63L371.97 203.23L372.33 202.5M373.06 204.18L373.43 204.28L373.79 204.05L374.15 204.26L374.52 203.22M375.25 203.29L375.61 202.97L375.98 204.12L376.34 203.53L376.7 204.07L377.07 203.77L377.43 202.94M378.53 203.98L378.89 204.3L379.26 204.86M380.35 202.62L380.71 204.14L381.08 203.1L381.44 202.98L381.81 204.61L382.17 203.83L382.53 203.83L382.9 203.68L383.26 204.92L383.63 204.04L383.99 203.06L384.36 202.92L384.72 202.52L385.09 204.04L385.45 202.49M387.64 203.87L388 202.95" fill="none" stroke="#2a7040" stroke-width="1.7" stroke-linejoin="round" stroke-linecap="round"/>
<path d="M224.4 206.03L224.76 203.49L225.13 209.03L225.49 205.1M226.22 204.05L226.5 203.81L226.5 210L226.5 196.7L226.5 203.81L226.59 203.86M226.95 204.24L227.31 198.96L227.68 204.13L228.04 209.24L228.41 203.18L228.77 207.3L229.14 206.36L229.5 203.76M230.96 203.11L231.32 200.58L231.69 204.63L232.05 199L232.42 202.76L232.5 203.22L232.5 200L232.5 203.22L232.78 201.02L233.14 204.52M233.87 203.36L234.24 207.15L234.6 204.34M236.42 204.24L236.5 204.45L236.79 204.36M238.25 203.01L238.61 198.97L238.97 204.94M241.16 204.41L241.5 203.29L241.5 196.7L241.5 203.29L241.53 203.78M241.89 205.37L242.25 199.04L242.62 203.09M244.44 204.58L244.8 207.67L245.17 205.1M245.9 205.14L246.26 199.72L246.63 199.65L246.99 203.94M247.36 202.56L247.5 204.16L247.5 188.5L247.5 204.16L247.72 199.95L248.08 203.69M249.54 202.44L249.91 207.87L250.27 203.17L250.63 208.97L251 202.56M252.46 203.63L252.5 204.25L252.5 210L252.5 204.25L252.82 199.61L253.18 202.83M255.74 203.82L256.1 199.43L256.46 205.84L256.5 204.01L256.5 198L256.5 204.01L256.83 204.48M257.19 204.21L257.56 199.5L257.92 204.47M258.29 203.54L258.65 209.82L259.01 203.88M259.74 204.4L260.11 199.62L260.47 202.29L260.5 203.2L260.5 184.7L260.5 203.2L260.84 203.19M261.2 204.71L261.5 204.14L261.5 216.5L261.5 204.14L261.57 203.86L261.93 206.82L262.29 202.94M263.39 204.31L263.5 203.85L263.5 223.6L263.5 203.85L263.75 203.35L264.12 200.32L264.48 204.16M265.21 204.09L265.57 206.05L265.94 204.28M268.49 203.5L268.5 203.81L268.5 210L268.5 203.81L268.85 204.33M269.22 205.02L269.58 208.27L269.95 203.6M270.67 203.61L271.04 209.41L271.4 208.91L271.77 203.92M272.5 203.23L272.86 207.04L273.22 203.41L273.59 209.06L273.95 209.18L274.32 206.93L274.5 204.24L274.68 204.17M275.41 204.43L275.5 203.22L275.5 182.9L275.5 203.22L275.78 203.74M277.6 203.5L277.96 199.53L278.33 203.21M279.05 204.4L279.42 200.37L279.78 200.1L280.15 203.76L280.5 203.55L280.51 203.8M281.24 204.31L281.5 203.98L281.61 203.82M282.33 205.57L282.7 208.01L283.06 203.75M283.43 203.98L283.5 203.73L283.5 185.5L283.5 203.73L283.79 204.71M284.52 203.85L284.88 210.15L285.25 202.81M285.61 204.55L285.98 198.88L286.34 203.2L286.5 203.78L286.5 180.9L286.5 203.78L286.71 204.25M289.62 203.36L289.99 198.84L290.35 203.31M291.08 203.89L291.44 210.91L291.5 204.48L291.5 212L291.5 204.48L291.81 204.47M292.54 203.61L292.9 198.69L293.27 204.19M294.72 203.63L295.09 197.74L295.45 204.35M296.18 202.96L296.5 203.97L296.5 182.7L296.5 203.97L296.54 208.03L296.91 204.17M299.09 202.84L299.46 207.75L299.82 203.88M300.19 203.53L300.55 199.36L300.92 204.21M302.37 204.04L302.5 203.98L302.5 221.6L302.5 203.98L302.74 203.62M303.1 203.04L303.47 200.88L303.83 203.52L304.2 206.82L304.56 200.98L304.92 203.92M307.48 203.41L307.5 203.88L307.84 198.05L308.2 203.03L308.57 208.17L308.93 203.99M309.3 203.5L309.66 201.83L310.03 203.62M310.75 204.11L311.12 198.71L311.48 204.7M313.31 203.03L313.5 203.7L313.5 193.6L313.5 203.7L313.67 202.48M318.41 201.9L318.5 203.83L318.5 198L318.5 203.83L318.77 203.36M319.13 203.84L319.5 208.6L319.86 203.97M322.41 204.61L322.5 204.3L322.5 212L322.5 204.3L322.78 203.05M323.87 203.44L324.24 200.26L324.6 198.63L324.96 203.17M326.06 204.24L326.42 199.32L326.5 203.84L326.5 197L326.5 203.84L326.79 203.83M327.88 202.51L328.24 205.94L328.61 203.95M328.97 203.81L329.34 208.68L329.7 208.19L330.07 202.47M333.35 203.16L333.5 203.31L333.5 189.8L333.5 203.31L333.71 204.52M334.07 204.52L334.44 199.68L334.8 202.82M335.17 204.39L335.53 199.97L335.9 198.37L336.26 203.54M337.35 203.63L337.72 199.78L338.08 204.4M338.45 203.83L338.5 203.52L338.5 210.9L338.5 203.52L338.81 203.91M340.63 204.83L341 196.98L341.36 203.57M344.28 203.25L344.5 203.61L344.5 199L344.5 203.61L344.64 203.14M349.01 203.2L349.38 206.81L349.5 203.75L349.5 226.2L349.5 203.75L349.74 208.58L350.11 204.86M350.47 203.58L350.83 205.89L351.2 203.6L351.56 198.86L351.93 204.5M353.39 203.71L353.75 208.25L354.11 205.16M356.3 204.41L356.5 204.02L356.5 208L356.5 204.02L356.66 209.89L357.03 207.86L357.39 203.96M357.76 203.45L358.12 201.03L358.49 202.81M364.32 204.7L364.5 203.31L364.5 189.8L364.5 203.31L364.68 200.3L365.04 204.06M365.77 204.24L366.14 200.4L366.5 203.83M368.32 203.03L368.5 203.43L368.5 198.7L368.5 203.43L368.69 208.26L369.05 203.33M369.42 203.74L369.78 207.52L370.15 203.74M370.51 203.25L370.87 207.56L371.24 204.42M372.33 202.5L372.7 208.04L373.06 204.18M374.52 203.22L374.88 205.9L375.25 203.29M377.43 202.94L377.5 204.34L377.5 196.9L377.5 204.34L377.8 203.82L378.16 200.2L378.53 203.98M379.26 204.86L379.62 208.84L379.98 207.09L380.35 202.62M385.45 202.49L385.81 209.16L386.18 204.75L386.5 204.36L386.54 206.06L386.91 204.05L387.27 208.11L387.5 204.24L387.64 203.87" fill="none" stroke="#4a5e4c" stroke-width="0.45" stroke-linejoin="round"/>
<path d="M236.5 204.45L236.5 222.9L236.5 217.8L236.5 228L236.5 204.45M274.5 204.24L274.5 245.8L274.5 204.24M280.5 203.55L280.5 150.9L280.5 203.55M281.5 203.98L281.5 247.6L281.5 203.98M307.5 203.88L307.5 231.3L307.5 203.88M386.5 204.36L386.5 180.4L386.5 204.36M387.5 204.24L387.5 238.1L387.5 204.24" fill="none" stroke="#c47860" stroke-width="0.45"/>
<path d="M224.4 206.03h0M225.13 209.03h0M226.5 210h0M226.5 196.7h0M227.31 198.96h0M228.04 209.24h0M228.77 207.3h0M229.14 206.36h0M231.32 200.58h0M232.05 199h0M232.5 200h0M232.78 201.02h0M234.24 207.15h0M238.61 198.97h0M241.5 196.7h0M242.25 199.04h0M244.8 207.67h0M246.26 199.72h0M246.63 199.65h0M247.5 188.5h0M247.72 199.95h0M249.91 207.87h0M250.63 208.97h0M252.5 210h0M252.82 199.61h0M256.1 199.43h0M256.46 205.84h0M256.5 198h0M257.56 199.5h0M258.65 209.82h0M260.11 199.62h0M260.5 184.7h0M261.5 216.5h0M261.93 206.82h0M263.5 223.6h0M264.12 200.32h0M265.57 206.05h0M268.5 210h0M269.58 208.27h0M271.04 209.41h0M271.4 208.91h0M272.86 207.04h0M273.59 209.06h0M273.95 209.18h0M274.32 206.93h0M275.5 182.9h0M277.96 199.53h0M279.42 200.37h0M279.78 200.1h0M282.7 208.01h0M283.5 185.5h0M284.88 210.15h0M285.98 198.88h0M286.5 180.9h0M289.99 198.84h0M291.44 210.91h0M291.5 212h0M292.9 198.69h0M295.09 197.74h0M296.5 182.7h0M296.54 208.03h0M299.46 207.75h0M300.55 199.36h0M302.5 221.6h0M303.47 200.88h0M304.2 206.82h0M304.56 200.98h0M307.84 198.05h0M308.57 208.17h0M309.66 201.83h0M311.12 198.71h0M313.5 193.6h0M318.5 198h0M319.5 208.6h0M322.5 212h0M324.24 200.26h0M324.6 198.63h0M326.42 199.32h0M326.5 197h0M328.24 205.94h0M329.34 208.68h0M329.7 208.19h0M333.5 189.8h0M334.44 199.68h0M335.53 199.97h0M335.9 198.37h0M337.72 199.78h0M338.5 210.9h0M341 196.98h0M344.5 199h0M349.38 206.81h0M349.5 226.2h0M349.74 208.58h0M350.83 205.89h0M351.56 198.86h0M353.75 208.25h0M356.5 208h0M356.66 209.89h0M357.03 207.86h0M358.12 201.03h0M364.5 189.8h0M364.68 200.3h0M366.14 200.4h0M368.5 198.7h0M368.69 208.26h0M369.78 207.52h0M370.87 207.56h0M372.7 208.04h0M374.88 205.9h0M377.5 196.9h0M378.16 200.2h0M379.62 208.84h0M379.98 207.09h0M385.81 209.16h0M386.54 206.06h0M387.27 208.11h0" stroke="#2d4a32" stroke-width="2.5" stroke-linecap="round"/>
<path d="M236.5 222.9h0M236.5 217.8h0M236.5 228h0M274.5 245.8h0M280.5 150.9h0M281.5 247.6h0M307.5 231.3h0M386.5 180.4h0M387.5 238.1h0" stroke="#4a2818" stroke-width="2.5" stroke-linecap="round"/>
<line x1="375.3" y1="150.5" x2="375.3" y2="248" stroke="#6a78b4" stroke-width="0.8" stroke-dasharray="1.8 0.8"/>
<line x1="388.1" y1="150.5" x2="388.1" y2="248" stroke="#6a78b4" stroke-width="0.8" stroke-dasharray="1.8 0.8"/>
</g>
<rect x="218" y="146" width="178.5" height="106.5" fill="none" stroke="#000" stroke-width="0.4"/>
<line x1="216.88" y1="154.6" x2="218" y2="154.6" stroke="#000" stroke-width="0.3"/>
<text x="215.76" y="156.65" font-size="3.2" text-anchor="end" fill="#000">0.4</text>
<line x1="216.88" y1="166.9" x2="218" y2="166.9" stroke="#000" stroke-width="0.3"/>
<text x="215.76" y="168.95" font-size="3.2" text-anchor="end" fill="#000">0.3</text>
<line x1="216.88" y1="179.2" x2="218" y2="179.2" stroke="#000" stroke-width="0.3"/>
<text x="215.76" y="181.25" font-size="3.2" text-anchor="end" fill="#000">0.2</text>
<line x1="216.88" y1="191.5" x2="218" y2="191.5" stroke="#000" stroke-width="0.3"/>
<text x="215.76" y="193.55" font-size="3.2" text-anchor="end" fill="#000">0.1</text>
<line x1="216.88" y1="203.8" x2="218" y2="203.8" stroke="#000" stroke-width="0.3"/>
<text x="215.76" y="205.85" font-size="3.2" text-anchor="end" fill="#000">0.0</text>
<line x1="216.88" y1="216.1" x2="218" y2="216.1" stroke="#000" stroke-width="0.3"/>
<text x="215.76" y="218.15" font-size="3.2" text-anchor="end" fill="#000">−0.1</text>
<line x1="216.88" y1="228.4" x2="218" y2="228.4" stroke="#000" stroke-width="0.3"/>
<text x="215.76" y="230.45" font-size="3.2" text-anchor="end" fill="#000">−0.2</text>
<line x1="216.88" y1="240.7" x2="218" y2="240.7" stroke="#000" stroke-width="0.3"/>
<text x="215.76" y="242.75" font-size="3.2" text-anchor="end" fill="#000">−0.3</text>
<line x1="225.6" y1="252.5" x2="225.6" y2="253.62" stroke="#000" stroke-width="0.3"/>
<text x="227.55" y="254.74" font-size="3.2" text-anchor="end" fill="#000" transform="rotate(-90 227.55 254.74)">05 12</text>
<line x1="226.5" y1="252.5" x2="226.5" y2="253.62" stroke="#000" stroke-width="0.3"/>
<text x="228.45" y="254.74" font-size="3.2" text-anchor="end" fill="#000" transform="rotate(-90 228.45 254.74)">12 17</text>
<line x1="242.5" y1="252.5" x2="242.5" y2="253.62" stroke="#000" stroke-width="0.3"/>
<text x="244.45" y="254.74" font-size="3.2" text-anchor="end" fill="#000" transform="rotate(-90 244.45 254.74)">19 22</text>
<line x1="252" y1="252.5" x2="252" y2="253.62" stroke="#000" stroke-width="0.3"/>
<text x="253.95" y="254.74" font-size="3.2" text-anchor="end" fill="#000" transform="rotate(-90 253.95 254.74)">26 03</text>
<line x1="262.1" y1="252.5" x2="262.1" y2="253.62" stroke="#000" stroke-width="0.3"/>
<text x="264.05" y="254.74" font-size="3.2" text-anchor="end" fill="#000" transform="rotate(-90 264.05 254.74)">05 08</text>
<line x1="270" y1="252.5" x2="270" y2="253.62" stroke="#000" stroke-width="0.3"/>
<text x="271.95" y="254.74" font-size="3.2" text-anchor="end" fill="#000" transform="rotate(-90 271.95 254.74)">12 13</text>
<line x1="276.1" y1="252.5" x2="276.1" y2="253.62" stroke="#000" stroke-width="0.3"/>
<text x="278.05" y="254.74" font-size="3.2" text-anchor="end" fill="#000" transform="rotate(-90 278.05 254.74)">19 18</text>
<line x1="285.8" y1="252.5" x2="285.8" y2="253.62" stroke="#000" stroke-width="0.3"/>
<text x="287.75" y="254.74" font-size="3.2" text-anchor="end" fill="#000" transform="rotate(-90 287.75 254.74)">26 23</text>
<line x1="294.8" y1="252.5" x2="294.8" y2="253.62" stroke="#000" stroke-width="0.3"/>
<text x="296.75" y="254.74" font-size="3.2" text-anchor="end" fill="#000" transform="rotate(-90 296.75 254.74)">05 04</text>
<line x1="300.5" y1="252.5" x2="300.5" y2="253.62" stroke="#000" stroke-width="0.3"/>
<text x="302.45" y="254.74" font-size="3.2" text-anchor="end" fill="#000" transform="rotate(-90 302.45 254.74)">12 09</text>
<line x1="302.7" y1="252.5" x2="302.7" y2="253.62" stroke="#000" stroke-width="0.3"/>
<text x="304.65" y="254.74" font-size="3.2" text-anchor="end" fill="#000" transform="rotate(-90 304.65 254.74)">19 14</text>
<line x1="312.6" y1="252.5" x2="312.6" y2="253.62" stroke="#000" stroke-width="0.3"/>
<text x="314.55" y="254.74" font-size="3.2" text-anchor="end" fill="#000" transform="rotate(-90 314.55 254.74)">26 19</text>
<line x1="320.5" y1="252.5" x2="320.5" y2="253.62" stroke="#000" stroke-width="0.3"/>
<text x="322.45" y="254.74" font-size="3.2" text-anchor="end" fill="#000" transform="rotate(-90 322.45 254.74)">05 00</text>
<line x1="328.4" y1="252.5" x2="328.4" y2="253.62" stroke="#000" stroke-width="0.3"/>
<text x="330.35" y="254.74" font-size="3.2" text-anchor="end" fill="#000" transform="rotate(-90 330.35 254.74)">12 05</text>
<line x1="336.3" y1="252.5" x2="336.3" y2="253.62" stroke="#000" stroke-width="0.3"/>
<text x="338.25" y="254.74" font-size="3.2" text-anchor="end" fill="#000" transform="rotate(-90 338.25 254.74)">19 10</text>
<line x1="343.1" y1="252.5" x2="343.1" y2="253.62" stroke="#000" stroke-width="0.3"/>
<text x="345.05" y="254.74" font-size="3.2" text-anchor="end" fill="#000" transform="rotate(-90 345.05 254.74)">26 15</text>
<line x1="345.3" y1="252.5" x2="345.3" y2="253.62" stroke="#000" stroke-width="0.3"/>
<text x="347.25" y="254.74" font-size="3.2" text-anchor="end" fill="#000" transform="rotate(-90 347.25 254.74)">05 20</text>
<line x1="347.6" y1="252.5" x2="347.6" y2="253.62" stroke="#000" stroke-width="0.3"/>
<text x="349.55" y="254.74" font-size="3.2" text-anchor="end" fill="#000" transform="rotate(-90 349.55 254.74)">12 01</text>
<line x1="352.1" y1="252.5" x2="352.1" y2="253.62" stroke="#000" stroke-width="0.3"/>
<text x="354.05" y="254.74" font-size="3.2" text-anchor="end" fill="#000" transform="rotate(-90 354.05 254.74)">19 06</text>
<line x1="355.5" y1="252.5" x2="355.5" y2="253.62" stroke="#000" stroke-width="0.3"/>
<text x="357.45" y="254.74" font-size="3.2" text-anchor="end" fill="#000" transform="rotate(-90 357.45 254.74)">26 11</text>
<line x1="360" y1="252.5" x2="360" y2="253.62" stroke="#000" stroke-width="0.3"/>
<text x="361.95" y="254.74" font-size="3.2" text-anchor="end" fill="#000" transform="rotate(-90 361.95 254.74)">05 16</text>
<line x1="362.3" y1="252.5" x2="362.3" y2="253.62" stroke="#000" stroke-width="0.3"/>
<text x="364.25" y="254.74" font-size="3.2" text-anchor="end" fill="#000" transform="rotate(-90 364.25 254.74)">12 21</text>
<line x1="373.5" y1="252.5" x2="373.5" y2="253.62" stroke="#000" stroke-width="0.3"/>
<text x="375.45" y="254.74" font-size="3.2" text-anchor="end" fill="#000" transform="rotate(-90 375.45 254.74)">19 02:46</text>
<line x1="375.8" y1="252.5" x2="375.8" y2="253.62" stroke="#000" stroke-width="0.3"/>
<text x="377.75" y="254.74" font-size="3.2" text-anchor="end" fill="#000" transform="rotate(-90 377.75 254.74)">26 07:59</text>
<line x1="387.8" y1="252.5" x2="387.8" y2="253.62" stroke="#000" stroke-width="0.3"/>
<text x="389.75" y="254.74" font-size="3.2" text-anchor="end" fill="#000" transform="rotate(-90 389.75 254.74)">05 12:12</text>
<text x="307.25" y="144.58" font-size="3.84" text-anchor="middle" fill="#000">BICO_2022-2-3 12:54</text>
<text x="307.25" y="272.5" font-size="3.2" text-anchor="middle" fill="#000">datetime</text>
<text x="205.8" y="199.25" font-size="3.2" text-anchor="middle" fill="#000" transform="rotate(-90 205.8 199.25)">BIG_volume</text>
<rect x="351.28" y="147.6" width="43.62" height="10" rx="0.6" fill="#fff" stroke="#e0e0e0" stroke-width="0.32"/>
<line x1="352.56" y1="150" x2="358.96" y2="150" stroke="#6a78b4" stroke-width="0.8" stroke-dasharray="1.8 0.8"/>
<line x1="352.56" y1="154.9" x2="358.96" y2="154.9" stroke="#dcd068" stroke-width="0.8" stroke-dasharray="2.6 0.3"/>
<text x="361.52" y="151.15" font-size="3.2" text-anchor="start" fill="#000">2022-2-3 12:54</text>
<text x="361.52" y="156.05" font-size="3.2" text-anchor="start" fill="#000">anomalous volumes</text>
</g>
<g>
<clipPath id="c4"><rect x="18" y="283.8" width="178.5" height="106.5"/></clipPath>
<g clip-path="url(#c4)">
<rect x="24.2" y="284" width="16.5" height="56" fill="#ffc0d8" fill-opacity="0.2" stroke="#ff80b0" stroke-width="0.3" stroke-opacity="0.3"/>
<rect x="72" y="330" width="6" height="30" fill="#ffc0d8" fill-opacity="0.2" stroke="#ff80b0" stroke-width="0.3" stroke-opacity="0.3"/>
<rect x="91" y="330" width="9" height="58" fill="#ffc0d8" fill-opacity="0.2" stroke="#ff80b0" stroke-width="0.3" stroke-opacity="0.3"/>
<rect x="124" y="330" width="11" height="28" fill="#ffc0d8" fill-opacity="0.2" stroke="#ff80b0" stroke-width="0.3" stroke-opacity="0.3"/>
<rect x="25.4" y="320.82" width="163.6" height="16.95" fill="#d4f6ee"/>
<line x1="25.4" y1="314.72" x2="189" y2="314.72" stroke="#dcd068" stroke-width="0.75" stroke-dasharray="2.6 0.3"/>
<line x1="25.4" y1="344.3" x2="189" y2="344.3" stroke="#dcd068" stroke-width="0.75" stroke-dasharray="2.6 0.3"/>
<path d="M28.68 328.81L29.01 329.37M30.65 329.79L30.97 328.06L31.3 328.72M32.28 329.26L32.61 329.17L32.94 330.27L33.27 327.52M35.56 330.81L35.89 329.26M37.2 327.63L37.53 328.57L37.86 328.39L38.19 328.66M44.42 328.89L44.74 330.54M45.73 329.25L46.05 329.89L46.38 329.06L46.71 330.07M47.37 329.82L47.69 329.17L48.02 327.71L48.35 328.37L48.68 329.11M49.33 329.34L49.66 328.66L49.99 329.28L50.32 330.02M50.64 328.96L50.97 328.55L51.3 329.58M52.61 329.79L52.94 328.76M54.91 329.26L55.23 329.15L55.56 329.13M56.22 328.54L56.55 328.88M58.19 328.71L58.51 328.78M59.82 329.47L60.15 329.28L60.48 329.57M61.79 328.96L62.12 330.65M64.09 328.81L64.41 329.47M65.07 327.91L65.4 329.58L65.73 330.29M67.37 329.84L67.69 330.87L68.02 328.47M69.66 329.16L69.99 329.06M70.64 329.84L70.97 330.2L71.3 329.98M73.27 329.36L73.59 328.78M74.91 329.13L75.23 331.11M75.56 330.6L75.89 328.07L76.22 329.77L76.55 328.69M78.51 330.5L78.84 329.86L79.17 329.4L79.5 330.14L79.82 329.01L80.15 328.99L80.48 329.26L80.81 330.45L81.14 329.42L81.46 330.52M82.12 328.44L82.45 328.01L82.77 329.25M83.43 329.49L83.76 329.5L84.09 330.33L84.41 329.12L84.74 328.46M86.05 328.12L86.38 329.77L86.71 330.38M88.02 329.03L88.35 328.49L88.68 329.47L89 329.53L89.33 329.26M89.66 329.51L89.99 328.6L90.32 329.69L90.64 330.09M91.95 328.02L92.28 329.62M92.94 327.4L93.27 327.6L93.59 328.58L93.92 328.93L94.25 327.77M94.58 329.84L94.91 329.46M95.89 328.66L96.22 328.45L96.54 327.5M97.53 329.15L97.86 329.14M99.17 327.77L99.5 329.73M100.48 328.38L100.81 329.45L101.13 327.9L101.46 327.73L101.79 327.96L102.12 328.01L102.45 330.1M103.1 327.9L103.43 327.7L103.76 328.35M105.07 328.78L105.4 328.2L105.72 330.84L106.05 329.11L106.38 329.54L106.71 329.9L107.04 329.57L107.36 329.19L107.69 327.8L108.02 329.25L108.35 329.64L108.68 330.28L109 328.68L109.33 329.9M109.99 328.73L110.31 329.26L110.64 329.61L110.97 329.44L111.3 328.58L111.63 329.32L111.95 329.11L112.28 328.96L112.61 329.57L112.94 329.04L113.27 329.52L113.59 328.39L113.92 328.9M115.23 329.47L115.56 329.64M116.54 329.25L116.87 328.83L117.2 328.62L117.53 330.13L117.86 330.3M121.46 329.36L121.79 328.14L122.12 329.29L122.45 329.52L122.77 328.79L123.1 328.59L123.43 328.27L123.76 328.34L124.08 329.7M124.74 327.75L125.07 328.81M126.05 328.18L126.38 328.27M126.71 329.74L127.04 329.61L127.36 328.7L127.69 328.35M129.99 329.23L130.31 328.8M130.97 328.8L131.3 328.7L131.63 329.44L131.95 328.92L132.28 330.14L132.61 329.36L132.94 329.26M134.25 330.78L134.58 328.66M135.23 328.83L135.56 329.93L135.89 329.58L136.22 328.96L136.54 327.74L136.87 330.5L137.2 329.57L137.53 329.57M138.18 329.49L138.51 328.96L138.84 328.23L139.17 328.68L139.49 329.63L139.82 329.64L140.15 329.51L140.48 329.17L140.81 329.98L141.13 329.34L141.46 328.83L141.79 329.67L142.12 329.67L142.44 329.06L142.77 328.65L143.1 330.36L143.43 330.08L143.76 328.27L144.08 329.31L144.41 330.17M145.07 328.03L145.4 329.79L145.72 330.06L146.05 329.5L146.38 328.02M149 328.65L149.33 328.99L149.66 329.18L149.99 330.68L150.31 328.78M150.97 330.96L151.3 329.33M152.61 329.88L152.94 330.07L153.26 329.55L153.59 331.13L153.92 329.07L154.25 328.87M155.23 329.38L155.56 328.5L155.89 328.94L156.21 329.63M156.54 329.06L156.87 328.74L157.2 328.34L157.53 328.92L157.85 329.92L158.18 329.69L158.51 329.12L158.84 329.05L159.17 328.48M159.82 329.86L160.15 330.21M163.1 329.39L163.43 328.53M163.76 328.44L164.08 330.42M164.74 329.22L165.07 328.83L165.39 330.57M166.38 327.9L166.71 329.98L167.03 329.6L167.36 329.32L167.69 329.38L168.02 329.17L168.35 329.32M168.67 329.44L169 329.07L169.33 329.08L169.66 328.99M170.64 329.15L170.97 329.17L171.3 328.67L171.62 328.75L171.95 328.06L172.28 329.92M172.94 329.12L173.26 329.79M173.92 329.58L174.25 329.67L174.57 327.48L174.9 329.35L175.23 328.12L175.56 329.97M176.21 329.79L176.54 329.02L176.87 327.96L177.2 327.74L177.53 328.64L177.85 328.92L178.18 329.28L178.51 328.97L178.84 328.19L179.16 330.56L179.49 329.52L179.82 330.05L180.15 328.48L180.48 330.26L180.8 328.61M181.46 330.13L181.79 328.09L182.12 328.47L182.44 329.98L182.77 330.65L183.1 330.02L183.43 328.81L183.75 329.3M184.41 328.85L184.74 328.19L185.07 330.17L185.39 329.34L185.72 329.91L186.05 328.41L186.38 329.19L186.71 329.8L187.03 330.58L187.36 328.73M187.69 329.5L188.02 329.17" fill="none" stroke="#2a7040" stroke-width="1.8" stroke-linejoin="round" stroke-linecap="round"/>
<path d="M25.4 329.26L25.73 323.09M26.38 330.62L26.5 328.85L26.71 329.25M27.5 329.41L27.5 328.88M28.35 335.66L28.5 328.44L28.68 328.81M30.5 328.6L30.65 329.79M31.3 328.72L31.5 329.12M31.96 333.72L32.28 329.26M33.27 327.52L33.5 329.15L33.5 337L33.5 329.15L33.6 328.98M35.24 329.82L35.5 329.24L35.5 328.67L35.56 330.81M39.83 329.4L40.15 324.6M40.5 329.76L40.81 328.34M41.79 326.13L42.12 330.77L42.45 324.7L42.78 332.09L43.1 332.45L43.43 324.71L43.76 336.25L44.09 325.53L44.42 328.89M44.74 330.54L45.07 321.44L45.4 329.02L45.5 329.46L45.5 322L45.5 329.46L45.73 329.25M46.71 330.07L47.04 326.23L47.37 329.82M48.68 329.11L49.01 331.64L49.33 329.34M50.32 330.02L50.5 330.32L50.5 320.9L50.5 330.32L50.64 328.96M51.3 329.58L51.63 336.1L51.96 329.72L52.28 333.09L52.61 329.79M52.94 328.76L53.27 326.45L53.6 332.1L53.92 327.46L54.25 333.13L54.58 332.96L54.91 329.26M55.56 329.13L55.89 325.65L56.22 328.54M56.55 328.88L56.87 332.75L57.2 329.44L57.53 334.57L57.86 332.12L58.19 328.71M58.51 328.78L58.84 325.34L59.17 333.09L59.5 328.04L59.5 328.75L59.5 317L59.5 328.75L59.82 329.47M60.48 329.57L60.81 332.94L61.14 333.9L61.46 330.46L61.5 329.27L61.5 345.6L61.5 329.27L61.79 328.96M62.12 330.65L62.45 331.65L62.78 330.43L63.1 331.98L63.43 328.2L63.76 326.1L64.09 328.81M64.41 329.47L64.5 328.97L64.5 345L64.5 328.97L64.74 334.85L65.07 327.91M65.73 330.29L66.05 325.98L66.38 328.89L66.5 329.48L66.71 332.53L67.04 323.62L67.37 329.84M68.02 328.47L68.35 334.27L68.68 330.27L69 326.09L69.33 326.06L69.66 329.16M69.99 329.06L70.32 325.65L70.5 329.48L70.5 322L70.5 329.48L70.64 329.84M71.3 329.98L71.63 333.31L71.96 329.53L72.28 327.16L72.61 329.27L72.94 324.97L73.27 329.36M73.59 328.78L73.92 326.47L74.25 324.69L74.58 326.01L74.91 329.13M75.23 331.11L75.5 329.53L75.56 330.6M76.55 328.69L76.87 323.89L77.2 335.32L77.5 329.75L77.5 315.3L77.5 329.75L77.53 327.89L77.86 332.62L78.18 331.74L78.51 330.5M81.46 330.52L81.5 329.02L81.5 320L81.5 329.02L81.79 326.48L82.12 328.44M82.77 329.25L83.1 326.99L83.43 329.49M84.74 328.46L85.07 326.96L85.4 332.89L85.5 329.26L85.5 337.9L85.5 329.26L85.73 326.39L86.05 328.12M86.71 330.38L87.04 331.96L87.36 330.88L87.69 332.65L88.02 329.03M89.33 329.26L89.5 328.88L89.5 345L89.5 328.88L89.66 329.51M90.64 330.09L90.97 332.27L91.3 329.22L91.63 324.55L91.95 328.02M92.28 329.62L92.5 329.44L92.61 331.86L92.94 327.4M94.25 327.77L94.5 329.04L94.5 345L94.5 329.04L94.58 329.84M94.91 329.46L95.23 332.46L95.56 325.06L95.89 328.66M96.54 327.5L96.87 326.68L97.2 333.38L97.53 329.15M97.86 329.14L98.18 333.09L98.5 328.73L98.51 332.65L98.84 331.77L99.17 327.77M99.5 329.73L99.82 326.43L100.15 324.37L100.48 328.38M102.45 330.1L102.5 329.31L102.5 340L102.5 329.31L102.77 332.81L103.1 327.9M103.76 328.35L104.09 332.05L104.41 332.19L104.74 335.5L105.07 328.78M109.33 329.9L109.66 334.08L109.99 328.73M113.92 328.9L114.25 334.25L114.5 329.34L114.5 318.9L114.5 329.34L114.58 329.47L114.9 333L115.23 329.47M115.56 329.64L115.89 324.27L116.22 330.17L116.5 329.58L116.5 344.3L116.5 329.58L116.54 329.25M117.86 330.3L118.18 325.07L118.51 329.92L118.84 333.89L119.17 327.36L119.49 329.67L119.82 333.84L120.15 327.07L120.48 328.49L120.81 326.22L121.13 327.08L121.46 329.36M124.08 329.7L124.41 323.71L124.74 327.75M125.07 328.81L125.4 324.23L125.5 329.53L125.5 338.2L125.5 329.53L125.72 323.47L126.05 328.18M126.38 328.27L126.5 329.34L126.71 329.74M127.69 328.35L128.02 335.85L128.35 332.39L128.67 332L129 328.49L129.33 333.41L129.66 332.14L129.99 329.23M130.31 328.8L130.5 330.3L130.5 320.9L130.5 330.3L130.64 333.14L130.97 328.8M132.94 329.26L133.26 324.13L133.5 329.23L133.59 328.49L133.92 324.89L134.25 330.78M134.58 328.66L134.9 334.56L135.23 328.83M137.53 329.57L137.85 325.43L138.18 329.49M144.41 330.17L144.74 334.99L145.07 328.03M146.38 328.02L146.5 329.28L146.5 339.2L146.5 329.28L146.71 329.82L147.03 333.23L147.36 328.49L147.5 328.57L147.5 317L147.5 328.57L147.5 329.26L147.69 328.8L148.02 335.56L148.35 328.78L148.67 324.58L149 328.65M150.31 328.78L150.64 332.87L150.97 330.96M151.3 329.33L151.62 335L151.95 329.39L152.28 331.25L152.61 329.88M154.25 328.87L154.58 322.92L154.9 333.04L155.23 329.38M156.21 329.63L156.5 329.57L156.5 343.8L156.5 329.57L156.54 329.06M159.17 328.48L159.49 336.65L159.82 329.86M160.15 330.21L160.48 322.97L160.8 328.68L161.13 323.58L161.46 328.65L161.5 329.04L161.5 318.9L161.5 329.04L161.5 328.56L161.5 336.7L161.5 328.56L161.79 335.29L162.12 328.87L162.44 325.58L162.77 324.79L163.1 329.39M163.43 328.53L163.5 329.43L163.76 328.44M164.08 330.42L164.41 334.29L164.74 329.22M165.39 330.57L165.72 326.8L166.05 325.62L166.38 327.9M168.35 329.32L168.5 329.11L168.67 329.44M169.66 328.99L169.98 323.32L170.31 333.21L170.64 329.15M172.28 329.92L172.61 325.84L172.94 329.12M173.26 329.79L173.59 333.58L173.92 329.58M175.56 329.97L175.89 326.2L176.21 329.79M180.8 328.61L181.13 332.85L181.46 330.13M183.75 329.3L184.08 335.82L184.41 328.85M187.36 328.73L187.5 329.07L187.5 341.8L187.5 329.07L187.69 329.5M188.02 329.17L188.34 332.1L188.67 328.96L189 333.47" fill="none" stroke="#4a5e4c" stroke-width="0.45" stroke-linejoin="round"/>
<path d="M25.73 323.09L26.06 333.17L26.38 330.62M26.5 328.85L26.5 336.7L26.5 328.85M26.71 329.25L27.04 324.86L27.37 334.3L27.5 329.41L27.5 291.6L27.5 329.41M27.5 328.88L27.5 322.2L27.5 328.88L27.69 319.18L28.02 333.35L28.35 335.66M28.5 328.44L28.5 300L28.5 328.44M29.01 329.37L29.33 331.58L29.66 329.03L29.99 333.05L30.32 332.32L30.5 328.6L30.5 296.2L30.5 328.6M31.5 329.12L31.5 288.3L31.5 329.12L31.63 334.29L31.96 333.72M33.6 328.98L33.92 317.96L34.25 330.19L34.58 325.06L34.91 325.69L35.24 329.82M35.5 329.24L35.5 292.9L35.5 329.24M35.5 328.67L35.5 309.4L35.5 328.67M35.89 329.26L36.22 336.83L36.55 330.18L36.87 323.15L37.2 327.63M38.19 328.66L38.51 326.85L38.84 333.04L39.17 330.38L39.5 332.9L39.83 329.4M40.15 324.6L40.48 321.06L40.5 329.76L40.5 350.9L40.5 329.76M40.81 328.34L41.14 327.09L41.46 323.94L41.79 326.13M66.5 329.48L66.5 312.7L66.5 329.48M75.5 329.53L75.5 357.8L75.5 329.53M92.5 329.44L92.5 385L92.5 329.44M98.5 328.73L98.5 362L98.5 328.73M126.5 329.34L126.5 349.6L126.5 329.34M133.5 329.23L133.5 355.2L133.5 329.23M147.5 329.26L147.5 312.7L147.5 329.26M163.5 329.43L163.5 296.7L163.5 329.43M168.5 329.11L168.5 313.3L168.5 329.11" fill="none" stroke="#c47860" stroke-width="0.45"/>
<path d="M25.73 323.09h0M28.35 335.66h0M31.96 333.72h0M33.5 337h0M40.15 324.6h0M41.79 326.13h0M42.45 324.7h0M42.78 332.09h0M43.1 332.45h0M43.43 324.71h0M43.76 336.25h0M44.09 325.53h0M45.07 321.44h0M45.5 322h0M47.04 326.23h0M49.01 331.64h0M50.5 320.9h0M51.63 336.1h0M52.28 333.09h0M53.27 326.45h0M53.6 332.1h0M54.25 333.13h0M54.58 332.96h0M55.89 325.65h0M56.87 332.75h0M57.53 334.57h0M57.86 332.12h0M58.84 325.34h0M59.17 333.09h0M59.5 317h0M60.81 332.94h0M61.14 333.9h0M61.5 345.6h0M62.45 331.65h0M63.1 331.98h0M63.76 326.1h0M64.5 345h0M64.74 334.85h0M66.05 325.98h0M66.71 332.53h0M67.04 323.62h0M68.35 334.27h0M69 326.09h0M69.33 326.06h0M70.32 325.65h0M70.5 322h0M71.63 333.31h0M72.28 327.16h0M72.94 324.97h0M73.92 326.47h0M74.25 324.69h0M74.58 326.01h0M76.87 323.89h0M77.2 335.32h0M77.5 315.3h0M77.86 332.62h0M78.18 331.74h0M81.5 320h0M81.79 326.48h0M83.1 326.99h0M85.07 326.96h0M85.4 332.89h0M85.5 337.9h0M85.73 326.39h0M87.04 331.96h0M87.69 332.65h0M89.5 345h0M90.97 332.27h0M91.63 324.55h0M92.61 331.86h0M94.5 345h0M95.23 332.46h0M95.56 325.06h0M96.87 326.68h0M97.2 333.38h0M98.18 333.09h0M98.51 332.65h0M98.84 331.77h0M99.82 326.43h0M100.15 324.37h0M102.5 340h0M102.77 332.81h0M104.09 332.05h0M104.41 332.19h0M104.74 335.5h0M109.66 334.08h0M114.25 334.25h0M114.5 318.9h0M114.9 333h0M115.89 324.27h0M116.5 344.3h0M118.18 325.07h0M118.84 333.89h0M119.17 327.36h0M119.82 333.84h0M120.15 327.07h0M120.81 326.22h0M121.13 327.08h0M124.41 323.71h0M125.4 324.23h0M125.5 338.2h0M125.72 323.47h0M128.02 335.85h0M128.35 332.39h0M128.67 332h0M129.33 333.41h0M129.66 332.14h0M130.5 320.9h0M130.64 333.14h0M133.26 324.13h0M133.92 324.89h0M134.9 334.56h0M137.85 325.43h0M144.74 334.99h0M146.5 339.2h0M147.03 333.23h0M147.5 317h0M148.02 335.56h0M148.67 324.58h0M150.64 332.87h0M151.62 335h0M152.28 331.25h0M154.58 322.92h0M154.9 333.04h0M156.5 343.8h0M159.49 336.65h0M160.48 322.97h0M161.13 323.58h0M161.5 318.9h0M161.5 336.7h0M161.79 335.29h0M162.44 325.58h0M162.77 324.79h0M164.41 334.29h0M165.72 326.8h0M166.05 325.62h0M169.98 323.32h0M170.31 333.21h0M172.61 325.84h0M173.59 333.58h0M175.89 326.2h0M181.13 332.85h0M184.08 335.82h0M187.5 341.8h0M188.34 332.1h0M189 333.47h0" stroke="#2d4a32" stroke-width="2.5" stroke-linecap="round"/>
<path d="M26.06 333.17h0M26.5 336.7h0M27.04 324.86h0M27.37 334.3h0M27.5 291.6h0M27.5 322.2h0M27.69 319.18h0M28.02 333.35h0M28.5 300h0M29.33 331.58h0M29.99 333.05h0M30.32 332.32h0M30.5 296.2h0M31.5 288.3h0M31.63 334.29h0M33.92 317.96h0M34.58 325.06h0M34.91 325.69h0M35.5 292.9h0M35.5 309.4h0M36.22 336.83h0M36.87 323.15h0M38.51 326.85h0M38.84 333.04h0M39.5 332.9h0M40.48 321.06h0M40.5 350.9h0M41.14 327.09h0M41.46 323.94h0M66.5 312.7h0M75.5 357.8h0M92.5 385h0M98.5 362h0M126.5 349.6h0M133.5 355.2h0M147.5 312.7h0M163.5 296.7h0M168.5 313.3h0" stroke="#4a2818" stroke-width="2.5" stroke-linecap="round"/>
<line x1="183.5" y1="288.3" x2="183.5" y2="385.8" stroke="#6a78b4" stroke-width="0.8" stroke-dasharray="1.8 0.8"/>
<line x1="188.5" y1="288.3" x2="188.5" y2="385.8" stroke="#6a78b4" stroke-width="0.8" stroke-dasharray="1.8 0.8"/>
</g>
<rect x="18" y="283.8" width="178.5" height="106.5" fill="none" stroke="#000" stroke-width="0.4"/>
<line x1="16.88" y1="295.4" x2="18" y2="295.4" stroke="#000" stroke-width="0.3"/>
<text x="15.76" y="297.45" font-size="3.2" text-anchor="end" fill="#000">0.4</text>
<line x1="16.88" y1="312.35" x2="18" y2="312.35" stroke="#000" stroke-width="0.3"/>
<text x="15.76" y="314.4" font-size="3.2" text-anchor="end" fill="#000">0.2</text>
<line x1="16.88" y1="329.3" x2="18" y2="329.3" stroke="#000" stroke-width="0.3"/>
<text x="15.76" y="331.35" font-size="3.2" text-anchor="end" fill="#000">0.0</text>
<line x1="16.88" y1="346.25" x2="18" y2="346.25" stroke="#000" stroke-width="0.3"/>
<text x="15.76" y="348.3" font-size="3.2" text-anchor="end" fill="#000">−0.2</text>
<line x1="16.88" y1="363.2" x2="18" y2="363.2" stroke="#000" stroke-width="0.3"/>
<text x="15.76" y="365.25" font-size="3.2" text-anchor="end" fill="#000">−0.4</text>
<line x1="16.88" y1="380.15" x2="18" y2="380.15" stroke="#000" stroke-width="0.3"/>
<text x="15.76" y="382.2" font-size="3.2" text-anchor="end" fill="#000">−0.6</text>
<line x1="26.6" y1="390.3" x2="26.6" y2="391.42" stroke="#000" stroke-width="0.3"/>
<text x="28.55" y="392.54" font-size="3.2" text-anchor="end" fill="#000" transform="rotate(-90 28.55 392.54)">06 15</text>
<line x1="32" y1="390.3" x2="32" y2="391.42" stroke="#000" stroke-width="0.3"/>
<text x="33.95" y="392.54" font-size="3.2" text-anchor="end" fill="#000" transform="rotate(-90 33.95 392.54)">13 20</text>
<line x1="43.3" y1="390.3" x2="43.3" y2="391.42" stroke="#000" stroke-width="0.3"/>
<text x="45.25" y="392.54" font-size="3.2" text-anchor="end" fill="#000" transform="rotate(-90 45.25 392.54)">20 01</text>
<line x1="51.4" y1="390.3" x2="51.4" y2="391.42" stroke="#000" stroke-width="0.3"/>
<text x="53.35" y="392.54" font-size="3.2" text-anchor="end" fill="#000" transform="rotate(-90 53.35 392.54)">27 06</text>
<line x1="59.7" y1="390.3" x2="59.7" y2="391.42" stroke="#000" stroke-width="0.3"/>
<text x="61.65" y="392.54" font-size="3.2" text-anchor="end" fill="#000" transform="rotate(-90 61.65 392.54)">06 11</text>
<line x1="68.1" y1="390.3" x2="68.1" y2="391.42" stroke="#000" stroke-width="0.3"/>
<text x="70.05" y="392.54" font-size="3.2" text-anchor="end" fill="#000" transform="rotate(-90 70.05 392.54)">13 16</text>
<line x1="75.5" y1="390.3" x2="75.5" y2="391.42" stroke="#000" stroke-width="0.3"/>
<text x="77.45" y="392.54" font-size="3.2" text-anchor="end" fill="#000" transform="rotate(-90 77.45 392.54)">20 21</text>
<line x1="81.8" y1="390.3" x2="81.8" y2="391.42" stroke="#000" stroke-width="0.3"/>
<text x="83.75" y="392.54" font-size="3.2" text-anchor="end" fill="#000" transform="rotate(-90 83.75 392.54)">27 02</text>
<line x1="89.1" y1="390.3" x2="89.1" y2="391.42" stroke="#000" stroke-width="0.3"/>
<text x="91.05" y="392.54" font-size="3.2" text-anchor="end" fill="#000" transform="rotate(-90 91.05 392.54)">06 07</text>
<line x1="97" y1="390.3" x2="97" y2="391.42" stroke="#000" stroke-width="0.3"/>
<text x="98.95" y="392.54" font-size="3.2" text-anchor="end" fill="#000" transform="rotate(-90 98.95 392.54)">13 12</text>
<line x1="103.7" y1="390.3" x2="103.7" y2="391.42" stroke="#000" stroke-width="0.3"/>
<text x="105.65" y="392.54" font-size="3.2" text-anchor="end" fill="#000" transform="rotate(-90 105.65 392.54)">20 17</text>
<line x1="113" y1="390.3" x2="113" y2="391.42" stroke="#000" stroke-width="0.3"/>
<text x="114.95" y="392.54" font-size="3.2" text-anchor="end" fill="#000" transform="rotate(-90 114.95 392.54)">27 22</text>
<line x1="118.2" y1="390.3" x2="118.2" y2="391.42" stroke="#000" stroke-width="0.3"/>
<text x="120.15" y="392.54" font-size="3.2" text-anchor="end" fill="#000" transform="rotate(-90 120.15 392.54)">06 03</text>
<line x1="126" y1="390.3" x2="126" y2="391.42" stroke="#000" stroke-width="0.3"/>
<text x="127.95" y="392.54" font-size="3.2" text-anchor="end" fill="#000" transform="rotate(-90 127.95 392.54)">13 08</text>
<line x1="132.8" y1="390.3" x2="132.8" y2="391.42" stroke="#000" stroke-width="0.3"/>
<text x="134.75" y="392.54" font-size="3.2" text-anchor="end" fill="#000" transform="rotate(-90 134.75 392.54)">20 13</text>
<line x1="138.5" y1="390.3" x2="138.5" y2="391.42" stroke="#000" stroke-width="0.3"/>
<text x="140.45" y="392.54" font-size="3.2" text-anchor="end" fill="#000" transform="rotate(-90 140.45 392.54)">27 18</text>
<line x1="143" y1="390.3" x2="143" y2="391.42" stroke="#000" stroke-width="0.3"/>
<text x="144.95" y="392.54" font-size="3.2" text-anchor="end" fill="#000" transform="rotate(-90 144.95 392.54)">06 23</text>
<line x1="147.5" y1="390.3" x2="147.5" y2="391.42" stroke="#000" stroke-width="0.3"/>
<text x="149.45" y="392.54" font-size="3.2" text-anchor="end" fill="#000" transform="rotate(-90 149.45 392.54)">13 04</text>
<line x1="149.7" y1="390.3" x2="149.7" y2="391.42" stroke="#000" stroke-width="0.3"/>
<text x="151.65" y="392.54" font-size="3.2" text-anchor="end" fill="#000" transform="rotate(-90 151.65 392.54)">20 09</text>
<line x1="155.8" y1="390.3" x2="155.8" y2="391.42" stroke="#000" stroke-width="0.3"/>
<text x="157.75" y="392.54" font-size="3.2" text-anchor="end" fill="#000" transform="rotate(-90 157.75 392.54)">27 14</text>
<line x1="163.3" y1="390.3" x2="163.3" y2="391.42" stroke="#000" stroke-width="0.3"/>
<text x="165.25" y="392.54" font-size="3.2" text-anchor="end" fill="#000" transform="rotate(-90 165.25 392.54)">06 19</text>
<line x1="166.2" y1="390.3" x2="166.2" y2="391.42" stroke="#000" stroke-width="0.3"/>
<text x="168.15" y="392.54" font-size="3.2" text-anchor="end" fill="#000" transform="rotate(-90 168.15 392.54)">13 00</text>
<line x1="173.4" y1="390.3" x2="173.4" y2="391.42" stroke="#000" stroke-width="0.3"/>
<text x="175.35" y="392.54" font-size="3.2" text-anchor="end" fill="#000" transform="rotate(-90 175.35 392.54)">20 05</text>
<line x1="175.7" y1="390.3" x2="175.7" y2="391.42" stroke="#000" stroke-width="0.3"/>
<text x="177.65" y="392.54" font-size="3.2" text-anchor="end" fill="#000" transform="rotate(-90 177.65 392.54)">27 10</text>
<line x1="182.4" y1="390.3" x2="182.4" y2="391.42" stroke="#000" stroke-width="0.3"/>
<text x="184.35" y="392.54" font-size="3.2" text-anchor="end" fill="#000" transform="rotate(-90 184.35 392.54)">06 15:12</text>
<line x1="184.7" y1="390.3" x2="184.7" y2="391.42" stroke="#000" stroke-width="0.3"/>
<text x="186.65" y="392.54" font-size="3.2" text-anchor="end" fill="#000" transform="rotate(-90 186.65 392.54)">13 20:25</text>
<line x1="187" y1="390.3" x2="187" y2="391.42" stroke="#000" stroke-width="0.3"/>
<text x="188.95" y="392.54" font-size="3.2" text-anchor="end" fill="#000" transform="rotate(-90 188.95 392.54)">20 01:38</text>
<text x="107.25" y="282.38" font-size="3.84" text-anchor="middle" fill="#000">BLZ_2021-8-24 6:38</text>
<text x="107.25" y="410.3" font-size="3.2" text-anchor="middle" fill="#000">datetime</text>
<text x="5.8" y="337.05" font-size="3.2" text-anchor="middle" fill="#000" transform="rotate(-90 5.8 337.05)">BIG_volume</text>
<rect x="151.28" y="285.4" width="43.62" height="10" rx="0.6" fill="#fff" stroke="#e0e0e0" stroke-width="0.32"/>
<line x1="152.56" y1="287.8" x2="158.96" y2="287.8" stroke="#6a78b4" stroke-width="0.8" stroke-dasharray="1.8 0.8"/>
<line x1="152.56" y1="292.7" x2="158.96" y2="292.7" stroke="#dcd068" stroke-width="0.8" stroke-dasharray="2.6 0.3"/>
<text x="161.52" y="288.95" font-size="3.2" text-anchor="start" fill="#000">2021-8-24 6:38</text>
<text x="161.52" y="293.85" font-size="3.2" text-anchor="start" fill="#000">anomalous volumes</text>
</g>
<g>
<clipPath id="c5"><rect x="218" y="283.8" width="178.5" height="106.5"/></clipPath>
<g clip-path="url(#c5)">
<rect x="224.5" y="315" width="4" height="30" fill="#ffc0d8" fill-opacity="0.14" stroke="#ff80b0" stroke-width="0.3" stroke-opacity="0.3"/>
<rect x="290" y="300" width="9" height="52" fill="#ffc0d8" fill-opacity="0.14" stroke="#ff80b0" stroke-width="0.3" stroke-opacity="0.3"/>
<rect x="305.5" y="293" width="6.5" height="57" fill="#ffc0d8" fill-opacity="0.14" stroke="#ff80b0" stroke-width="0.3" stroke-opacity="0.3"/>
<rect x="334.5" y="286" width="8.5" height="79" fill="#ffc0d8" fill-opacity="0.14" stroke="#ff80b0" stroke-width="0.3" stroke-opacity="0.3"/>
<rect x="350" y="305" width="4" height="47" fill="#ffc0d8" fill-opacity="0.14" stroke="#ff80b0" stroke-width="0.3" stroke-opacity="0.3"/>
<rect x="366" y="285" width="3.5" height="47" fill="#ffc0d8" fill-opacity="0.14" stroke="#ff80b0" stroke-width="0.3" stroke-opacity="0.3"/>
<rect x="382.5" y="293" width="6" height="95" fill="#ffc0d8" fill-opacity="0.14" stroke="#ff80b0" stroke-width="0.3" stroke-opacity="0.3"/>
<rect x="224.4" y="313.34" width="163.6" height="13.98" fill="#b8f4e4"/>
<line x1="224.4" y1="306.82" x2="388" y2="306.82" stroke="#dcd068" stroke-width="0.75" stroke-dasharray="2.6 0.3"/>
<line x1="224.4" y1="334.31" x2="388" y2="334.31" stroke="#dcd068" stroke-width="0.75" stroke-dasharray="2.6 0.3"/>
<path d="M224.4 318.51L224.58 321.29M224.95 321.01L225.13 319.71M225.49 320.9L225.67 322.23L225.86 319.42L226.04 321.29M226.58 321.39L226.77 317.93M227.86 317.78L228.04 323.63L228.22 323.18L228.4 323.24L228.59 321.62L228.77 316.51L228.95 317.54L229.13 319.89L229.31 319.02L229.5 320.09L229.68 320.48L229.86 317.25L230.04 322.37L230.22 320.12L230.41 320.46L230.59 320.29L230.77 316.52L230.95 319.39M231.68 321.2L231.86 321.82L232.04 319.74L232.23 318.82L232.41 319.13M232.95 318.32L233.14 321.31L233.32 320.46M234.04 322.58L234.23 322.18M234.95 317.74L235.14 319.65L235.32 321.67L235.5 316.6L235.68 320.97L235.86 323.07L236.05 318.05L236.23 320.05M238.23 316.96L238.41 320.83L238.59 322.25L238.78 320.98M239.14 318.85L239.32 317.42L239.5 317.3L239.69 316.43L239.87 316.28L240.05 322.66L240.23 320.87L240.41 322.84M240.96 321.91L241.14 320.38L241.32 322.59L241.51 322.24L241.69 317.26L241.87 321.7L242.05 321.84L242.23 318.32L242.42 318.3L242.6 317.25L242.78 319.49M243.14 317.83L243.33 318.31L243.51 316.43L243.69 323.15M244.24 317.48L244.42 319.93L244.6 321.85L244.78 317.16L244.96 321.11M247.15 322.79L247.33 321.43M247.88 319.01L248.06 321.57L248.24 322.82L248.42 321.57L248.6 323.03L248.79 316.76M250.79 316.94L250.97 320.44L251.15 320.3L251.33 323.3M251.88 318.43L252.06 323.93L252.24 318.69L252.42 319L252.61 318.22M253.52 322.43L253.7 318.13L253.88 319.34L254.06 318.85L254.24 322.14L254.43 318.61M254.79 318.24L254.97 321.18M255.88 318.51L256.06 318.42L256.25 319.74L256.43 320.31M257.34 322.4L257.52 320.62L257.7 320.91L257.88 323.84L258.07 320.72L258.25 318.39L258.43 321.59M258.79 322.16L258.98 319.2M259.34 317.09L259.52 319.07L259.7 323.68L259.89 316.84L260.07 320.01L260.25 320.96L260.43 316.82L260.61 317.88L260.8 320.62M261.52 319.4L261.71 320L261.89 316.74L262.07 319.34L262.25 321.42M262.98 322.3L263.16 318.21L263.34 321.36L263.53 321.69M264.07 322.34L264.25 323.99L264.44 320.54L264.62 323.01L264.8 320.94M265.16 321.71L265.35 320.28L265.53 321.43L265.71 320.79L265.89 317.15L266.07 318.19L266.26 321.33L266.44 323.45M266.62 320.58L266.8 317.1L266.98 320.16L267.17 320.56M268.08 321.45L268.26 319.98L268.44 319.94L268.62 322.85L268.8 321.23L268.99 322.29M269.35 321.02L269.53 322.6L269.71 316.94L269.89 320.62L270.08 316.63L270.26 317.59L270.44 316.86M270.8 317.6L270.99 320.7M271.35 323.44L271.53 320.23L271.71 317.01L271.9 321.13L272.08 317.53L272.26 322.99L272.44 319.43M272.62 318.13L272.81 317.54M273.17 320.35L273.35 319.03L273.53 317.85L273.72 318.42M274.63 317.84L274.81 321.63L274.99 316.49L275.17 322.9L275.35 319.92M275.72 320.25L275.9 316.23M276.45 322.67L276.63 320.28M276.99 316.22L277.17 321.41L277.36 322.04M278.08 321.93L278.27 316.88L278.45 320.73M278.63 318.85L278.81 321.92L278.99 318.56M279.36 317.75L279.54 318.28L279.72 321.81L279.9 316.46M280.81 318.57L281 319.63L281.18 318.07L281.36 316.15M282.09 320.05L282.27 323.25L282.45 322.11L282.63 320.58L282.82 321.47L283 320.78L283.18 318.96M283.54 322.9L283.73 316.68L283.91 318.07L284.09 322.55L284.27 320.49M284.64 320.99L284.82 322.01M285.18 321.43L285.36 317.64L285.55 320.26L285.73 319.92L285.91 323.51L286.09 323.08M287 320.97L287.18 320.23M288.09 323.46L288.27 316.82M288.64 319.32L288.82 322.43L289 318.38L289.18 319.59L289.37 320.86M289.55 320.53L289.73 322.18L289.91 318.57L290.09 322.71L290.28 323.18L290.46 317.16L290.64 320.7M291 321L291.19 322.68L291.37 322.08L291.55 318.76L291.73 322.61M292.64 319.59L292.82 323.92M293.19 320.83L293.37 323.73M293.92 317.64L294.1 317.13M294.46 319.33L294.64 318.75L294.83 320.91M295.92 319.16L296.1 323.38L296.28 319.86M296.65 322.16L296.83 317.25M297.19 323.33L297.37 319.5L297.56 318.17L297.74 319.24L297.92 317.63L298.1 321.4L298.28 322.18M298.65 318.71L298.83 321.65L299.01 322.11M299.56 322.94L299.74 317.47L299.92 323.03M300.29 321.05L300.47 319.53M301.56 320.82L301.74 322.56L301.92 320.17L302.11 316.8M302.47 317.92L302.65 323.95L302.83 322.53L303.02 319.37L303.2 322.82L303.38 320.97M304.11 323.46L304.29 321.33L304.47 320.35L304.65 323.68L304.84 320.48M305.2 317.52L305.38 317.59L305.56 323L305.75 320.62L305.93 319.37L306.11 317.66M306.84 321.13L307.02 321.01M307.93 321.15L308.11 319.66L308.29 321.58L308.47 317.29L308.66 323.79L308.84 316.9L309.02 320.77L309.2 318.76M309.57 319.64L309.75 320.32L309.93 316.73M310.84 318.02L311.02 322.82M311.57 320.72L311.75 319.35L311.93 318.22L312.11 319.28L312.3 317.22L312.48 318.45L312.66 319.98L312.84 323.45L313.02 321.34L313.21 316.85M314.66 320.96L314.84 317.48L315.03 317.91L315.21 317.32L315.39 316.28L315.57 318.4L315.75 317.1L315.94 318.04L316.12 320.19M317.94 318.48L318.12 322.46L318.3 319.1M318.67 316.78L318.85 321.52L319.03 319.36L319.21 320.75L319.39 323.82L319.58 318.21L319.76 321.83L319.94 322.58L320.12 317.73L320.3 320.4L320.49 322.62M320.85 322.23L321.03 320.21L321.21 317.46L321.4 316.7M321.94 319.94L322.12 322.97M322.67 321.18L322.85 317.58L323.03 321.46M323.4 316.36L323.58 318.85L323.76 319.66M324.31 322.41L324.49 324.09M324.85 320.08L325.03 321.49L325.22 318.79L325.4 320.05L325.58 320.82L325.76 322.98M326.31 322.02L326.49 317.9L326.67 322.47L326.85 319.84L327.04 317.83L327.22 321.09L327.4 323.03M327.76 320.81L327.95 318.05L328.13 320.39L328.31 322.88M328.67 318.69L328.86 318.87M329.22 319.07L329.4 317.08M329.58 319.08L329.77 320.63M330.13 319.21L330.31 318.01L330.49 316.37L330.68 316.5M331.04 318.89L331.22 322.84M332.31 323.78L332.5 321.79L332.68 320.13L332.86 322.04L333.04 323.43L333.22 323.34M333.59 321.79L333.77 320.45M334.5 323.78L334.68 321.52M335.04 320.26L335.23 322.48M335.95 317.59L336.14 319.31M336.5 317.14L336.68 320.86L336.86 318.89L337.05 319.6L337.23 322.79M337.96 321.79L338.14 321.06L338.32 321.87L338.5 316.49M338.87 323.26L339.05 321.35L339.23 323.46L339.41 319.35L339.59 317.35L339.78 316.27L339.96 321.11L340.14 323.66L340.32 318.18M340.5 317.98L340.69 321.38L340.87 319.51L341.05 318.82L341.23 316.94L341.41 319.85L341.6 318.36L341.78 319.46L341.96 323.59L342.14 317.57L342.32 319.75L342.51 316.31M342.87 322.63L343.05 318.93M343.41 320.58L343.6 321.71L343.78 321.59L343.96 321.01M344.32 319.95L344.51 319.83L344.69 316.32M345.05 318.82L345.23 316.77M345.6 318.13L345.78 316.12L345.96 316.97L346.14 319.25L346.33 321.38L346.51 321.41L346.69 320.02L346.87 318.56M348.33 316.45L348.51 319.42L348.69 316.6L348.87 318.5L349.06 323.1L349.24 319.68M349.78 323.22L349.97 319.54L350.15 316.27L350.33 322.42L350.51 318.44M350.88 323.96L351.06 318.17L351.24 316.65L351.42 316.7M352.51 319.25L352.7 321.32L352.88 323.44L353.06 318.55L353.24 318.19L353.42 319.62L353.61 322.27L353.79 319.95L353.97 319.79L354.15 319.14L354.33 317.86L354.52 320.2M354.88 321.09L355.06 318.76L355.24 321.68L355.43 319.31L355.61 322.57M355.97 318.65L356.15 319.6L356.34 317.37M356.52 317.35L356.7 319.78L356.88 316.5L357.06 317.74L357.25 319.33L357.43 320.09L357.61 324.09L357.79 319.4L357.97 319.46L358.16 323.1M358.52 320.12L358.7 323.96L358.88 321.6L359.07 322.97L359.25 320.23L359.43 322.91L359.61 319.97M359.98 321.65L360.16 318.54L360.34 322.52L360.52 317.77L360.7 317.22L360.88 322.24M361.79 321.95L361.98 318.92M362.7 319.27L362.89 319.99M363.25 322.17L363.43 323.71M363.8 322.84L363.98 320.04M364.34 319L364.52 319.39L364.71 322.17L364.89 317.89M365.25 322.05L365.43 323.98L365.62 318.87L365.8 322.59L365.98 319.5L366.16 319.87L366.34 318.16L366.53 321.72L366.71 318.81M367.07 323.42L367.25 319.76L367.44 318.77M367.8 323.33L367.98 321.12L368.16 321.85M368.89 321.27L369.07 321.04M370.89 320.4L371.08 317.09L371.26 318.75L371.44 316.46L371.62 322.48L371.8 316.87M372.35 317.25L372.53 317.32L372.71 322.89M373.99 320.36L374.17 320.6L374.35 321.2M375.08 322.68L375.26 318.52L375.44 323.78M376.17 318.91L376.35 318.99M377.63 319.44L377.81 322.29L377.99 317.94M378.72 323.86L378.9 320.05M379.26 320.36L379.45 320.72L379.63 323.43L379.81 323.98M380.17 318.61L380.36 318.37M380.72 317.85L380.9 318.71M381.45 320.74L381.63 318.69L381.81 321.31L381.99 320.25L382.18 323.05L382.36 316.65M383.09 321.08L383.27 321.14L383.45 320.01M383.63 320.99L383.81 316.4M384.36 316.97L384.54 318.48M384.91 323.14L385.09 319.44M385.82 322.73L386 322.34L386.18 317.77M386.54 318.3L386.73 316.53L386.91 318.67M387.27 322L387.45 321.07L387.64 320.19L387.82 319.04L388 321.51" fill="none" stroke="#22763c" stroke-width="1" stroke-linejoin="round" stroke-linecap="round"/>
<path d="M224.58 321.29L224.76 311.35L224.95 321.01M225.13 319.71L225.31 314.4L225.49 320.9M226.04 321.29L226.22 324.39L226.4 320.84L226.5 319.43L226.58 321.39M226.77 317.93L226.95 326.09L227.13 322.62L227.31 315.95L227.49 313.41L227.68 325.54L227.86 317.78M230.95 319.39L231.13 315.29L231.32 320.41L231.5 314.48L231.68 321.2M232.41 319.13L232.59 315.45L232.77 316L232.95 318.32M233.32 320.46L233.5 315.01L233.68 319.3L233.86 324.82L234.04 322.58M234.23 322.18L234.41 315.95L234.59 320.49L234.77 311.96L234.95 317.74M236.23 320.05L236.41 315.82L236.59 320.36L236.77 328.95L236.96 317.26L237.14 326.86L237.32 314.56L237.5 313.54L237.68 321.64L237.87 324.29L238.05 325.13L238.23 316.96M238.78 320.98L238.96 312.58L239.14 318.85M240.41 322.84L240.5 322.44L240.5 330L240.5 322.44L240.6 322.66L240.78 315.99L240.96 321.91M242.78 319.49L242.96 326.41L243.14 317.83M243.69 323.15L243.87 311.03L244.05 324.54L244.24 317.48M244.96 321.11L245.15 328.51L245.33 324.3L245.51 318.45L245.69 312.04L245.87 325.43L246.06 320.16L246.24 314.88L246.42 317.92L246.5 321.56L246.5 309L246.5 321.56L246.6 321.45L246.78 325.22L246.97 326.51L247.15 322.79M247.33 321.43L247.51 328.2L247.69 326.2L247.88 319.01M248.79 316.76L248.97 314.2L249.15 312.63L249.33 317.54L249.51 315.39L249.7 314.83L249.88 313.84L250.06 314.83L250.24 315.74L250.42 322.38L250.61 325.86L250.79 316.94M251.33 323.3L251.52 324.78L251.7 315.05L251.88 318.43M252.61 318.22L252.79 312.06L252.97 320.22L253.15 324.71L253.33 319.97L253.5 321.1L253.5 307.7L253.5 321.1L253.52 322.43M254.43 318.61L254.61 324.55L254.79 318.24M254.97 321.18L255.15 324.13L255.34 318.31L255.52 325.35L255.7 314.9L255.88 318.51M256.43 320.31L256.61 328.69L256.79 315.7L256.97 323.03L257.16 314.72L257.34 322.4M258.43 321.59L258.5 319.99L258.5 310.7L258.5 319.99L258.61 324.65L258.79 322.16M258.98 319.2L259.16 315.97L259.34 317.09M260.8 320.62L260.98 324.25L261.16 322.3L261.34 326.23L261.52 319.4M262.25 321.42L262.43 312.5L262.62 323.81L262.8 324.91L262.98 322.3M263.53 321.69L263.71 324.14L263.89 314.8L264.07 322.34M264.8 320.94L264.98 315.29L265.16 321.71M266.44 323.45L266.5 322.43L266.5 331L266.5 322.43L266.62 320.58M267.17 320.56L267.35 326.61L267.53 316.52L267.71 325.47L267.89 324.72L268.08 321.45M268.99 322.29L269.17 326.61L269.35 321.02M270.44 316.86L270.62 315.75L270.8 317.6M270.99 320.7L271.17 315.23L271.35 323.44M272.44 319.43L272.5 317.11L272.5 308L272.5 317.11L272.62 318.13M272.81 317.54L272.99 315.79L273.17 320.35M273.72 318.42L273.9 324.79L274.08 322.15L274.26 314.91L274.44 324.58L274.63 317.84M275.35 319.92L275.54 327.4L275.72 320.25M275.9 316.23L276.08 325.5L276.26 315.83L276.45 322.67M276.63 320.28L276.81 328.95L276.99 316.22M277.36 322.04L277.54 324.7L277.72 323.67L277.9 315.98L278.08 321.93M278.45 320.73L278.5 321.95L278.5 330L278.5 321.95L278.63 318.85M278.99 318.56L279.18 310.78L279.36 317.75M279.9 316.46L280.09 315.21L280.27 326.23L280.45 325.07L280.63 312.53L280.81 318.57M281.36 316.15L281.54 315.1L281.72 320.9L281.91 312.67L282.09 320.05M283.18 318.96L283.36 328.95L283.5 320.22L283.5 334.4L283.5 320.22L283.54 322.9M284.27 320.49L284.45 315.99L284.64 320.99M284.82 322.01L285 310.44L285.18 321.43M286.09 323.08L286.27 315.57L286.46 324.2L286.64 319.1L286.82 324.4L287 320.97M287.18 320.23L287.37 325.97L287.55 316.01L287.73 320.76L287.91 315.73L288.09 323.46M288.27 316.82L288.46 311.7L288.64 319.32M289.37 320.86L289.5 320.11L289.5 331L289.5 320.11L289.55 320.53M290.64 320.7L290.82 310.58L291 321M291.73 322.61L291.91 324.65L292.1 314.2L292.28 324.56L292.46 314.65L292.64 319.59M292.82 323.92L293.01 314.1L293.19 320.83M293.37 323.73L293.5 322.29L293.5 318.64L293.55 319.86L293.73 315.47L293.92 317.64M294.1 317.13L294.28 313.78L294.46 319.33M294.83 320.91L295.01 325.34L295.19 320.62L295.37 314.28L295.5 321.44L295.55 326.33L295.74 315.26L295.92 319.16M296.28 319.86L296.46 313.71L296.65 322.16M296.83 317.25L297.01 316.03L297.19 323.33M298.28 322.18L298.47 324.55L298.65 318.71M299.01 322.11L299.19 324.24L299.38 325.01L299.56 322.94M299.92 323.03L300.1 314.9L300.29 321.05M300.47 319.53L300.65 326.84L300.83 313.07L301.01 325.29L301.2 318.18L301.38 314L301.5 321.23L301.56 320.82M302.11 316.8L302.29 315.21L302.47 317.92M303.38 320.97L303.56 312.03L303.74 323.91L303.93 315.92L304.11 323.46M304.84 320.48L305.02 315.43L305.2 317.52M306.11 317.66L306.29 315.27L306.47 323.7L306.5 318.43L306.5 336.7L306.5 318.43L306.65 313.98L306.84 321.13M307.02 321.01L307.2 324.45L307.38 320.34L307.5 323.49L307.5 321.95L307.56 320.92L307.75 324.54L307.93 321.15M309.2 318.76L309.38 325.4L309.57 319.64M309.93 316.73L310.11 324.35L310.29 315.19L310.48 324L310.5 321.8L310.66 315.36L310.84 318.02M311.02 322.82L311.2 312.29L311.39 324.4L311.57 320.72M313.21 316.85L313.39 324.3L313.57 319.7L313.75 327.47L313.93 322.6L314.12 325.94L314.3 315.62L314.48 326.66L314.66 320.96M316.12 320.19L316.3 326.44L316.48 319.49L316.66 315.54L316.85 322.79L317.03 324.31L317.21 319.77L317.39 316.02L317.57 315.76L317.76 325.5L317.94 318.48M318.3 319.1L318.48 328.23L318.5 318.3L318.5 331L318.5 318.3L318.67 316.78M320.49 322.62L320.67 315.21L320.85 322.23M321.4 316.7L321.58 315.78L321.76 314.14L321.94 319.94M322.12 322.97L322.31 314.17L322.49 315.09L322.67 321.18M323.03 321.46L323.22 325.71L323.4 316.36M323.76 319.66L323.94 314.02L324.13 314.94L324.31 322.41M324.49 324.09L324.5 322.75L324.5 308L324.5 322.75L324.67 326.92L324.85 320.08M325.76 322.98L325.94 325.71L326.13 315.68L326.31 322.02M327.4 323.03L327.58 311.73L327.76 320.81M328.31 322.88L328.49 315.37L328.67 318.69M328.86 318.87L329.04 328.29L329.22 319.07M329.4 317.08L329.5 316.75L329.5 330L329.5 316.75L329.58 319.08M329.77 320.63L329.95 315.81L330.13 319.21M330.68 316.5L330.86 324.83L331.04 318.89M331.22 322.84L331.4 327.33L331.59 319.07L331.77 324.86L331.95 321.78L332.13 328.95L332.31 323.78M333.22 323.34L333.41 314.58L333.59 321.79M333.77 320.45L333.95 313.32L334.13 326.37L334.32 327.55L334.5 323.78M334.68 321.52L334.86 324.23L335.04 320.26M335.23 322.48L335.41 325.69L335.5 321.34L335.59 319.52L335.77 325.27L335.95 317.59M336.14 319.31L336.32 312.23L336.5 317.14M337.23 322.79L337.41 325.36L337.5 319.91L337.59 316.17L337.77 314.66L337.96 321.79M338.5 316.49L338.68 315.77L338.87 323.26M340.32 318.18L340.5 321.58L340.5 320.18L340.5 317.98M342.51 316.31L342.69 324.37L342.87 322.63M343.05 318.93L343.23 326.28L343.41 320.58M343.96 321.01L344.14 328.13L344.32 319.95M344.69 316.32L344.87 314.9L345.05 318.82M345.23 316.77L345.42 328.72L345.5 318.93L345.5 307.7L345.5 318.93L345.6 318.13M346.87 318.56L347.05 315.49L347.24 320.44L347.42 324.62L347.6 313.54L347.78 323.22L347.96 328.95L348.15 314.97L348.33 316.45M349.24 319.68L349.42 324.55L349.6 324.38L349.78 323.22M350.51 318.44L350.69 327.78L350.88 323.96M351.42 316.7L351.5 322.08L351.6 316.25L351.79 326L351.97 321.97L352.15 328.95L352.33 320.66L352.5 321.68L352.51 319.25M354.52 320.2L354.7 325.3L354.88 321.09M355.61 322.57L355.79 315.26L355.97 318.65M356.34 317.37L356.5 317.91L356.5 336.7L356.5 317.91L356.52 317.35M358.16 323.1L358.34 315.2L358.5 319.64L358.5 307.7L358.5 319.64L358.52 320.12M359.61 319.97L359.79 325.35L359.98 321.65M360.88 322.24L361.07 328.74L361.25 316.93L361.43 315.25L361.61 325.83L361.79 321.95M361.98 318.92L362.16 325.91L362.34 322.03L362.5 315.89L362.5 308L362.5 315.89L362.52 315.57L362.7 319.27M362.89 319.99L363.07 315.88L363.25 322.17M363.43 323.71L363.61 315.17L363.8 322.84M363.98 320.04L364.16 315.83L364.34 319M364.89 317.89L365.07 312.06L365.25 322.05M366.71 318.81L366.89 315.36L367.07 323.42M367.44 318.77L367.5 318.86L367.5 320.7L367.5 329.8L367.5 320.7L367.62 324.31L367.8 323.33M368.16 321.85L368.35 315.89L368.53 319.45L368.71 310.31L368.89 321.27M369.07 321.04L369.26 311.8L369.44 321.93L369.62 312.01L369.8 328.95L369.98 322.29L370.17 314.86L370.35 314.17L370.53 318.25L370.71 324.65L370.89 320.4M371.8 316.87L371.99 315.25L372.17 310.31L372.35 317.25M372.71 322.89L372.9 324.68L373.08 328.1L373.26 318.19L373.44 312.56L373.62 322.46L373.81 328.81L373.99 320.36M374.35 321.2L374.5 320.41L374.5 331L374.5 320.41L374.53 313.51L374.72 316.87L374.9 314.45L375.08 322.68M375.44 323.78L375.63 313.69L375.81 323.85L375.99 315.28L376.17 318.91M376.35 318.99L376.54 325.01L376.72 317.26L376.9 326.39L377.08 324.32L377.26 323.2L377.45 312.37L377.63 319.44M377.99 317.94L378.17 311.27L378.36 320.41L378.5 317.63L378.5 309L378.5 317.63L378.54 324.95L378.72 323.86M378.9 320.05L379.08 313.8L379.26 320.36M379.81 323.98L379.99 316.1L380.17 318.61M380.36 318.37L380.54 324.83L380.72 317.85M380.9 318.71L381.08 314.4L381.27 316.05L381.45 320.74M382.36 316.65L382.54 311.75L382.72 320.25L382.9 313.97L383.09 321.08M383.45 320.01L383.5 320.43L383.63 320.99M383.81 316.4L384 315.72L384.18 328.95L384.36 316.97M384.54 318.48L384.72 313.6L384.91 323.14M385.09 319.44L385.27 315.51L385.45 315.29L385.63 314.37L385.82 322.73M386.18 317.77L386.36 324.86L386.5 320.62L386.54 318.3M386.91 318.67L387.09 324.78L387.27 322" fill="none" stroke="#22763c" stroke-width="1" stroke-linejoin="round"/>
<path d="M226.5 319.43L226.5 337.4L226.5 342.5L226.5 319.43M293.5 322.29L293.5 304.4L293.5 322.29M293.5 318.64L293.5 338.7L293.5 318.64M295.5 321.44L295.5 349.4L295.5 321.44M301.5 321.23L301.5 347.6L301.5 321.23M307.5 323.49L307.5 296.7L307.5 323.49M307.5 321.95L307.5 336.7L307.5 321.95M310.5 321.8L310.5 296.2L310.5 321.8M335.5 321.34L335.5 342L335.5 321.34M337.5 319.91L337.5 302.6L337.5 319.91M340.5 321.58L340.5 289.8L340.5 321.58M340.5 320.18L340.5 361.6L340.5 320.18M351.5 322.08L351.5 307.7L351.5 322.08M352.5 321.68L352.5 349.4L352.5 321.68M367.5 318.86L367.5 288.3L367.5 318.86M383.5 320.43L383.5 296.7L383.5 320.43M386.5 320.62L386.5 337.4L386.5 385L386.5 320.62" fill="none" stroke="#c47860" stroke-width="0.45"/>
<path d="M224.76 311.35h0M225.31 314.4h0M226.22 324.39h0M226.95 326.09h0M227.31 315.95h0M227.49 313.41h0M227.68 325.54h0M231.13 315.29h0M231.5 314.48h0M232.59 315.45h0M232.77 316h0M233.5 315.01h0M233.86 324.82h0M234.41 315.95h0M234.77 311.96h0M236.41 315.82h0M236.77 328.95h0M237.14 326.86h0M237.32 314.56h0M237.5 313.54h0M237.87 324.29h0M238.05 325.13h0M238.96 312.58h0M240.5 330h0M240.78 315.99h0M242.96 326.41h0M243.87 311.03h0M244.05 324.54h0M245.15 328.51h0M245.33 324.3h0M245.69 312.04h0M245.87 325.43h0M246.24 314.88h0M246.5 309h0M246.78 325.22h0M246.97 326.51h0M247.51 328.2h0M247.69 326.2h0M248.97 314.2h0M249.15 312.63h0M249.51 315.39h0M249.7 314.83h0M249.88 313.84h0M250.06 314.83h0M250.24 315.74h0M250.61 325.86h0M251.52 324.78h0M251.7 315.05h0M252.79 312.06h0M253.15 324.71h0M253.5 307.7h0M254.61 324.55h0M255.15 324.13h0M255.52 325.35h0M255.7 314.9h0M256.61 328.69h0M256.79 315.7h0M257.16 314.72h0M258.5 310.7h0M258.61 324.65h0M259.16 315.97h0M260.98 324.25h0M261.34 326.23h0M262.43 312.5h0M262.8 324.91h0M263.71 324.14h0M263.89 314.8h0M264.98 315.29h0M266.5 331h0M267.35 326.61h0M267.71 325.47h0M267.89 324.72h0M269.17 326.61h0M270.62 315.75h0M271.17 315.23h0M272.5 308h0M272.99 315.79h0M273.9 324.79h0M274.26 314.91h0M274.44 324.58h0M275.54 327.4h0M276.08 325.5h0M276.26 315.83h0M276.81 328.95h0M277.54 324.7h0M277.9 315.98h0M278.5 330h0M279.18 310.78h0M280.09 315.21h0M280.27 326.23h0M280.45 325.07h0M280.63 312.53h0M281.54 315.1h0M281.91 312.67h0M283.36 328.95h0M283.5 334.4h0M284.45 315.99h0M285 310.44h0M286.27 315.57h0M286.46 324.2h0M286.82 324.4h0M287.37 325.97h0M287.55 316.01h0M287.91 315.73h0M288.46 311.7h0M289.5 331h0M290.82 310.58h0M291.91 324.65h0M292.1 314.2h0M292.28 324.56h0M292.46 314.65h0M293.01 314.1h0M293.73 315.47h0M294.28 313.78h0M295.01 325.34h0M295.37 314.28h0M295.55 326.33h0M295.74 315.26h0M296.46 313.71h0M297.01 316.03h0M298.47 324.55h0M299.19 324.24h0M299.38 325.01h0M300.1 314.9h0M300.65 326.84h0M300.83 313.07h0M301.01 325.29h0M301.38 314h0M302.29 315.21h0M303.56 312.03h0M303.93 315.92h0M305.02 315.43h0M306.29 315.27h0M306.5 336.7h0M306.65 313.98h0M307.2 324.45h0M307.75 324.54h0M309.38 325.4h0M310.11 324.35h0M310.29 315.19h0M310.66 315.36h0M311.2 312.29h0M311.39 324.4h0M313.39 324.3h0M313.75 327.47h0M314.12 325.94h0M314.3 315.62h0M314.48 326.66h0M316.3 326.44h0M316.66 315.54h0M317.03 324.31h0M317.39 316.02h0M317.57 315.76h0M317.76 325.5h0M318.48 328.23h0M318.5 331h0M320.67 315.21h0M321.58 315.78h0M321.76 314.14h0M322.31 314.17h0M322.49 315.09h0M323.22 325.71h0M323.94 314.02h0M324.13 314.94h0M324.5 308h0M324.67 326.92h0M325.94 325.71h0M326.13 315.68h0M327.58 311.73h0M328.49 315.37h0M329.04 328.29h0M329.5 330h0M329.95 315.81h0M330.86 324.83h0M331.4 327.33h0M331.77 324.86h0M332.13 328.95h0M333.41 314.58h0M333.95 313.32h0M334.13 326.37h0M334.32 327.55h0M334.86 324.23h0M335.41 325.69h0M335.77 325.27h0M336.32 312.23h0M337.41 325.36h0M337.77 314.66h0M338.68 315.77h0M342.69 324.37h0M343.23 326.28h0M344.14 328.13h0M344.87 314.9h0M345.42 328.72h0M345.5 307.7h0M347.05 315.49h0M347.42 324.62h0M347.6 313.54h0M347.96 328.95h0M348.15 314.97h0M349.42 324.55h0M349.6 324.38h0M350.69 327.78h0M351.79 326h0M352.15 328.95h0M354.7 325.3h0M355.79 315.26h0M356.5 336.7h0M358.34 315.2h0M358.5 307.7h0M359.79 325.35h0M361.07 328.74h0M361.43 315.25h0M361.61 325.83h0M362.16 325.91h0M362.5 308h0M362.52 315.57h0M363.07 315.88h0M363.61 315.17h0M364.16 315.83h0M365.07 312.06h0M366.89 315.36h0M367.5 329.8h0M367.62 324.31h0M368.35 315.89h0M368.71 310.31h0M369.26 311.8h0M369.62 312.01h0M369.8 328.95h0M370.17 314.86h0M370.35 314.17h0M370.71 324.65h0M371.99 315.25h0M372.17 310.31h0M372.9 324.68h0M373.08 328.1h0M373.44 312.56h0M373.81 328.81h0M374.5 331h0M374.53 313.51h0M374.9 314.45h0M375.63 313.69h0M375.99 315.28h0M376.54 325.01h0M376.9 326.39h0M377.08 324.32h0M377.45 312.37h0M378.17 311.27h0M378.5 309h0M378.54 324.95h0M379.08 313.8h0M379.99 316.1h0M380.54 324.83h0M381.08 314.4h0M381.27 316.05h0M382.54 311.75h0M382.9 313.97h0M384 315.72h0M384.18 328.95h0M384.72 313.6h0M385.27 315.51h0M385.45 315.29h0M385.63 314.37h0M386.36 324.86h0M387.09 324.78h0" stroke="#2d4a32" stroke-width="2.5" stroke-linecap="round"/>
<path d="M226.5 337.4h0M226.5 342.5h0M293.5 304.4h0M293.5 338.7h0M295.5 349.4h0M301.5 347.6h0M307.5 296.7h0M307.5 336.7h0M310.5 296.2h0M335.5 342h0M337.5 302.6h0M340.5 289.8h0M340.5 361.6h0M351.5 307.7h0M352.5 349.4h0M367.5 288.3h0M383.5 296.7h0M386.5 337.4h0M386.5 385h0" stroke="#4a2818" stroke-width="2.5" stroke-linecap="round"/>
<line x1="380.9" y1="288.3" x2="380.9" y2="385.8" stroke="#6a78b4" stroke-width="0.8" stroke-dasharray="1.8 0.8"/>
<line x1="387.5" y1="288.3" x2="387.5" y2="385.8" stroke="#6a78b4" stroke-width="0.8" stroke-dasharray="1.8 0.8"/>
</g>
<rect x="218" y="283.8" width="178.5" height="106.5" fill="none" stroke="#000" stroke-width="0.4"/>
<line x1="216.88" y1="296.8" x2="218" y2="296.8" stroke="#000" stroke-width="0.3"/>
<text x="215.76" y="298.85" font-size="3.2" text-anchor="end" fill="#000">5</text>
<line x1="216.88" y1="320.1" x2="218" y2="320.1" stroke="#000" stroke-width="0.3"/>
<text x="215.76" y="322.15" font-size="3.2" text-anchor="end" fill="#000">0</text>
<line x1="216.88" y1="343.4" x2="218" y2="343.4" stroke="#000" stroke-width="0.3"/>
<text x="215.76" y="345.45" font-size="3.2" text-anchor="end" fill="#000">−5</text>
<line x1="216.88" y1="366.7" x2="218" y2="366.7" stroke="#000" stroke-width="0.3"/>
<text x="215.76" y="368.75" font-size="3.2" text-anchor="end" fill="#000">−10</text>
<line x1="225.6" y1="390.3" x2="225.6" y2="391.42" stroke="#000" stroke-width="0.3"/>
<text x="227.55" y="392.54" font-size="3.2" text-anchor="end" fill="#000" transform="rotate(-90 227.55 392.54)">07 18</text>
<line x1="232.8" y1="390.3" x2="232.8" y2="391.42" stroke="#000" stroke-width="0.3"/>
<text x="234.75" y="392.54" font-size="3.2" text-anchor="end" fill="#000" transform="rotate(-90 234.75 392.54)">14 23</text>
<line x1="239.6" y1="390.3" x2="239.6" y2="391.42" stroke="#000" stroke-width="0.3"/>
<text x="241.55" y="392.54" font-size="3.2" text-anchor="end" fill="#000" transform="rotate(-90 241.55 392.54)">21 04</text>
<line x1="246.3" y1="390.3" x2="246.3" y2="391.42" stroke="#000" stroke-width="0.3"/>
<text x="248.25" y="392.54" font-size="3.2" text-anchor="end" fill="#000" transform="rotate(-90 248.25 392.54)">28 09</text>
<line x1="253.1" y1="390.3" x2="253.1" y2="391.42" stroke="#000" stroke-width="0.3"/>
<text x="255.05" y="392.54" font-size="3.2" text-anchor="end" fill="#000" transform="rotate(-90 255.05 392.54)">07 14</text>
<line x1="259.9" y1="390.3" x2="259.9" y2="391.42" stroke="#000" stroke-width="0.3"/>
<text x="261.85" y="392.54" font-size="3.2" text-anchor="end" fill="#000" transform="rotate(-90 261.85 392.54)">14 19</text>
<line x1="267.1" y1="390.3" x2="267.1" y2="391.42" stroke="#000" stroke-width="0.3"/>
<text x="269.05" y="392.54" font-size="3.2" text-anchor="end" fill="#000" transform="rotate(-90 269.05 392.54)">21 00</text>
<line x1="274.5" y1="390.3" x2="274.5" y2="391.42" stroke="#000" stroke-width="0.3"/>
<text x="276.45" y="392.54" font-size="3.2" text-anchor="end" fill="#000" transform="rotate(-90 276.45 392.54)">28 05</text>
<line x1="281.3" y1="390.3" x2="281.3" y2="391.42" stroke="#000" stroke-width="0.3"/>
<text x="283.25" y="392.54" font-size="3.2" text-anchor="end" fill="#000" transform="rotate(-90 283.25 392.54)">07 10</text>
<line x1="288.1" y1="390.3" x2="288.1" y2="391.42" stroke="#000" stroke-width="0.3"/>
<text x="290.05" y="392.54" font-size="3.2" text-anchor="end" fill="#000" transform="rotate(-90 290.05 392.54)">14 15</text>
<line x1="294.8" y1="390.3" x2="294.8" y2="391.42" stroke="#000" stroke-width="0.3"/>
<text x="296.75" y="392.54" font-size="3.2" text-anchor="end" fill="#000" transform="rotate(-90 296.75 392.54)">21 20</text>
<line x1="301.6" y1="390.3" x2="301.6" y2="391.42" stroke="#000" stroke-width="0.3"/>
<text x="303.55" y="392.54" font-size="3.2" text-anchor="end" fill="#000" transform="rotate(-90 303.55 392.54)">28 01</text>
<line x1="308.1" y1="390.3" x2="308.1" y2="391.42" stroke="#000" stroke-width="0.3"/>
<text x="310.05" y="392.54" font-size="3.2" text-anchor="end" fill="#000" transform="rotate(-90 310.05 392.54)">07 06</text>
<line x1="313.8" y1="390.3" x2="313.8" y2="391.42" stroke="#000" stroke-width="0.3"/>
<text x="315.75" y="392.54" font-size="3.2" text-anchor="end" fill="#000" transform="rotate(-90 315.75 392.54)">14 11</text>
<line x1="320.5" y1="390.3" x2="320.5" y2="391.42" stroke="#000" stroke-width="0.3"/>
<text x="322.45" y="392.54" font-size="3.2" text-anchor="end" fill="#000" transform="rotate(-90 322.45 392.54)">21 16</text>
<line x1="327.3" y1="390.3" x2="327.3" y2="391.42" stroke="#000" stroke-width="0.3"/>
<text x="329.25" y="392.54" font-size="3.2" text-anchor="end" fill="#000" transform="rotate(-90 329.25 392.54)">28 21</text>
<line x1="333.6" y1="390.3" x2="333.6" y2="391.42" stroke="#000" stroke-width="0.3"/>
<text x="335.55" y="392.54" font-size="3.2" text-anchor="end" fill="#000" transform="rotate(-90 335.55 392.54)">07 02</text>
<line x1="340.8" y1="390.3" x2="340.8" y2="391.42" stroke="#000" stroke-width="0.3"/>
<text x="342.75" y="392.54" font-size="3.2" text-anchor="end" fill="#000" transform="rotate(-90 342.75 392.54)">14 07</text>
<line x1="347.2" y1="390.3" x2="347.2" y2="391.42" stroke="#000" stroke-width="0.3"/>
<text x="349.15" y="392.54" font-size="3.2" text-anchor="end" fill="#000" transform="rotate(-90 349.15 392.54)">21 12</text>
<line x1="353.9" y1="390.3" x2="353.9" y2="391.42" stroke="#000" stroke-width="0.3"/>
<text x="355.85" y="392.54" font-size="3.2" text-anchor="end" fill="#000" transform="rotate(-90 355.85 392.54)">28 17</text>
<line x1="360.7" y1="390.3" x2="360.7" y2="391.42" stroke="#000" stroke-width="0.3"/>
<text x="362.65" y="392.54" font-size="3.2" text-anchor="end" fill="#000" transform="rotate(-90 362.65 392.54)">07 22</text>
<line x1="367.5" y1="390.3" x2="367.5" y2="391.42" stroke="#000" stroke-width="0.3"/>
<text x="369.45" y="392.54" font-size="3.2" text-anchor="end" fill="#000" transform="rotate(-90 369.45 392.54)">14 03</text>
<line x1="374.2" y1="390.3" x2="374.2" y2="391.42" stroke="#000" stroke-width="0.3"/>
<text x="376.15" y="392.54" font-size="3.2" text-anchor="end" fill="#000" transform="rotate(-90 376.15 392.54)">21 08</text>
<line x1="381" y1="390.3" x2="381" y2="391.42" stroke="#000" stroke-width="0.3"/>
<text x="382.95" y="392.54" font-size="3.2" text-anchor="end" fill="#000" transform="rotate(-90 382.95 392.54)">28 13:59</text>
<line x1="387.1" y1="390.3" x2="387.1" y2="391.42" stroke="#000" stroke-width="0.3"/>
<text x="389.05" y="392.54" font-size="3.2" text-anchor="end" fill="#000" transform="rotate(-90 389.05 392.54)">07 18:12</text>
<text x="307.25" y="282.38" font-size="3.84" text-anchor="middle" fill="#000">BNB_2021-8-29 12:54</text>
<text x="307.25" y="410.3" font-size="3.2" text-anchor="middle" fill="#000">datetime</text>
<text x="205.8" y="337.05" font-size="3.2" text-anchor="middle" fill="#000" transform="rotate(-90 205.8 337.05)">BIG_volume</text>
<rect x="219.6" y="285.4" width="43.62" height="10" rx="0.6" fill="#fff" stroke="#e0e0e0" stroke-width="0.32"/>
<line x1="220.88" y1="287.8" x2="227.28" y2="287.8" stroke="#6a78b4" stroke-width="0.8" stroke-dasharray="1.8 0.8"/>
<line x1="220.88" y1="292.7" x2="227.28" y2="292.7" stroke="#dcd068" stroke-width="0.8" stroke-dasharray="2.6 0.3"/>
<text x="229.84" y="288.95" font-size="3.2" text-anchor="start" fill="#000">2021-8-29 12:54</text>
<text x="229.84" y="293.85" font-size="3.2" text-anchor="start" fill="#000">anomalous volumes</text>
</g>
<g>
<clipPath id="c6"><rect x="18" y="421.5" width="178.5" height="106.5"/></clipPath>
<g clip-path="url(#c6)">
<rect x="40.7" y="478" width="4.8" height="34" fill="#ffc0d8" fill-opacity="0.09" stroke="#ff80b0" stroke-width="0.3" stroke-opacity="0.3"/>
<rect x="63.5" y="456" width="6" height="30" fill="#ffc0d8" fill-opacity="0.09" stroke="#ff80b0" stroke-width="0.3" stroke-opacity="0.3"/>
<rect x="72" y="478" width="4" height="34" fill="#ffc0d8" fill-opacity="0.09" stroke="#ff80b0" stroke-width="0.3" stroke-opacity="0.3"/>
<rect x="94" y="452" width="7" height="34" fill="#ffc0d8" fill-opacity="0.09" stroke="#ff80b0" stroke-width="0.3" stroke-opacity="0.3"/>
<rect x="100.5" y="432" width="5" height="72" fill="#ffc0d8" fill-opacity="0.09" stroke="#ff80b0" stroke-width="0.3" stroke-opacity="0.3"/>
<rect x="107" y="424" width="7.5" height="100" fill="#ffc0d8" fill-opacity="0.09" stroke="#ff80b0" stroke-width="0.3" stroke-opacity="0.3"/>
<rect x="139" y="436" width="7" height="50" fill="#ffc0d8" fill-opacity="0.09" stroke="#ff80b0" stroke-width="0.3" stroke-opacity="0.3"/>
<rect x="158.5" y="478" width="3.5" height="26" fill="#ffc0d8" fill-opacity="0.09" stroke="#ff80b0" stroke-width="0.3" stroke-opacity="0.3"/>
<rect x="165" y="446" width="7.5" height="58" fill="#ffc0d8" fill-opacity="0.09" stroke="#ff80b0" stroke-width="0.3" stroke-opacity="0.3"/>
<rect x="25.4" y="472.24" width="163.6" height="19.52" fill="#eefcf8"/>
<line x1="25.4" y1="465.16" x2="189" y2="465.16" stroke="#dcd068" stroke-width="0.75" stroke-dasharray="2.6 0.3"/>
<line x1="25.4" y1="499.08" x2="189" y2="499.08" stroke="#dcd068" stroke-width="0.75" stroke-dasharray="2.6 0.3"/>
<path d="M25.4 482.19L25.76 481.56M26.49 482.54L26.86 483.49L27.22 481.45M27.59 481.32L27.95 482.91L28.31 481.02L28.68 482.26L29.04 480.42L29.41 481.64L29.77 482.2L30.14 481.26M31.96 481.62L32.32 481.51L32.69 481.79L33.05 480.91L33.42 482.81M34.51 482.71L34.87 481.06M35.6 482.11L35.97 481.68L36.33 482.35M37.06 481.49L37.42 481.43L37.79 481.93L38.15 482.01M40.34 482.31L40.7 482.47L41.07 481.43L41.43 482.08L41.8 482.82L42.16 481.27L42.53 482.51L42.89 482.34M44.71 481.76L45.08 482.28L45.44 480.6L45.8 481.1L46.17 482.36M46.9 481.44L47.26 481.74M47.63 482.45L47.99 482.1L48.36 481.56M49.81 482.61L50.18 483.28M51.27 481.73L51.63 481.12M52.36 481.79L52.73 482.39L53.09 482.03L53.46 482.87M54.55 481.89L54.91 481.34L55.28 480.5L55.64 481.55M57.1 482.62L57.46 481.48L57.83 482.44L58.19 481.69M58.56 482.36L58.92 482.29M59.65 480.86L60.01 481.58L60.38 480.42L60.74 481L61.11 481.98L61.47 482.28M62.57 481.93L62.93 482.41M63.66 482.08L64.02 481.93L64.39 482.24L64.75 482.57L65.12 482.64L65.48 482.29L65.84 483.22L66.21 481.91M66.57 482.98L66.94 481.61L67.3 482.27M67.67 480.6L68.03 482.19L68.4 482.04L68.76 481.88L69.12 481.83L69.49 481.97L69.85 481.97L70.22 482.13L70.58 482.33L70.95 482.22L71.31 482.71L71.67 482.32L72.04 482.4L72.4 482.26L72.77 482.27L73.13 482.09L73.5 481.73M73.86 482.19L74.22 481.95L74.59 481.84L74.95 482.19L75.32 482.09L75.68 481.79L76.05 483.02L76.41 481.61L76.78 482.28M77.5 481.68L77.87 482.72L78.23 481.47L78.6 482.59L78.96 482.13L79.33 481.6M79.69 482.48L80.05 482.6L80.42 482.07M80.78 481.18L81.15 481.34L81.51 481.16L81.88 481.77L82.24 481.71L82.61 481.36L82.97 481.66L83.33 482.48L83.7 481.53L84.06 482.3L84.43 482.49M85.52 481.48L85.88 481.83L86.25 482.26L86.61 482.04M87.34 482.19L87.71 481.24L88.07 481.75L88.44 482.22L88.8 482.19L89.16 482.36L89.53 482.11L89.89 482.89L90.26 481.63M90.62 482.16L90.99 481.58L91.35 481.42L91.71 481.81L92.08 482.61L92.44 482.73L92.81 481.51L93.17 481.5L93.54 482.83M94.27 481.35L94.63 481.96L94.99 480.78L95.36 481.69M95.72 481.44L96.09 482.05L96.45 482.27M96.82 482.87L97.18 483.62L97.54 481.33L97.91 481.52L98.27 482.3L98.64 481.37L99 482.88M99.73 481.72L100.09 480.99L100.46 483.01L100.82 481.14L101.19 481.44L101.55 481.8L101.92 482.52L102.28 481.79M102.65 481.84L103.01 482.37L103.37 482.82M103.74 482.64L104.1 482.32L104.47 481.32L104.83 481.29L105.2 480.99L105.56 481.71L105.92 482.87L106.29 482.45L106.65 482.69L107.02 482.15L107.38 481.17M108.11 482.26L108.48 481.68M109.57 482.56L109.93 482.53M110.66 481.55L111.03 481.88L111.39 482.58L111.75 480.86L112.12 482.33L112.48 482.07M113.58 482.02L113.94 481.97L114.31 481.84L114.67 481.81L115.03 482.32L115.4 482.56L115.76 481.34L116.13 482.13L116.49 481.34M116.86 481.73L117.22 480.39M118.68 481.27L119.04 480.86L119.41 480.95L119.77 481.6L120.13 481.04L120.5 482.59M120.86 482.33L121.23 482.55L121.59 481.63L121.96 481.2L122.32 481.96M123.05 482.25L123.41 482.2L123.78 481.9L124.14 481.05M124.87 481.66L125.24 481.33L125.6 483.72L125.96 482.41L126.33 480.93L126.69 482.05M127.79 481.61L128.15 482.1L128.52 481.75M129.97 482.62L130.34 481.82M130.7 481.57L131.07 481.56M131.79 481.87L132.16 483.02L132.52 483.76L132.89 481.94L133.25 482.69L133.62 482.41L133.98 482.07L134.35 481.8M135.44 481.55L135.8 481.51L136.17 483.05L136.53 482.24L136.9 481.88L137.26 482.23L137.62 481.86L137.99 482.34L138.35 482.5L138.72 482.03L139.08 481.95L139.45 482.18L139.81 482.02L140.18 481.42M142 482.19L142.36 480.89M143.09 481.52L143.45 482.35L143.82 480.88L144.18 482.71M144.55 482.17L144.91 482.69L145.28 481.5M146 482.26L146.37 481L146.73 482.19L147.1 482.25L147.46 480.37L147.83 480.93L148.19 481.91L148.56 483.78L148.92 481.22L149.28 481.26L149.65 483.41M151.11 482.73L151.47 481.98L151.83 480.93L152.2 481.28M152.56 482.56L152.93 481.76L153.29 482.4M154.02 483.7L154.39 481.41M154.75 482.94L155.11 481.31L155.48 482.65M156.94 481.8L157.3 480.77L157.66 481.47L158.03 483.26L158.39 481.74L158.76 481.85M159.49 482.81L159.85 482.39L160.22 482.1M160.58 481.26L160.94 482.38M161.67 482.55L162.04 481.25L162.4 481.24L162.77 481.89L163.13 482.51L163.49 482.23L163.86 482.06L164.22 482.15M164.59 481.79L164.95 480.42L165.32 481.04L165.68 482.52L166.04 481.45L166.41 482.67M166.77 481.88L167.14 481.45M167.5 482.85L167.87 483.13L168.23 483.1M168.6 481.7L168.96 481.77M169.69 482.63L170.05 481.98M170.78 481.74L171.15 482M172.24 480.53L172.6 482.69L172.97 481.76L173.33 481.36M173.7 482.59L174.06 482.64L174.43 482.12L174.79 481.67L175.15 482.48L175.52 481.44L175.88 480.75L176.25 482.09L176.61 482.34L176.98 480.72L177.34 482.82M177.7 481.35L178.07 481.41L178.43 482.94L178.8 481.62L179.16 481.16M179.89 483.42L180.26 482.51L180.62 480.89L180.98 482.66L181.35 481.43L181.71 482.8L182.08 482.34L182.44 482.49L182.81 482.11L183.17 481.74L183.53 482L183.9 482.55L184.26 482.08L184.63 482.13L184.99 482.27L185.36 482.37L185.72 482.44L186.09 481.87L186.45 480.75L186.81 481.99L187.18 481.89M187.54 482.55L187.91 482.37L188.27 481.17L188.64 482.23L189 481.77" fill="none" stroke="#2a7040" stroke-width="1.7" stroke-linejoin="round" stroke-linecap="round"/>
<path d="M25.76 481.56L26.13 486.29L26.49 482.54M27.22 481.45L27.5 481.91L27.5 494L27.5 481.91L27.59 481.32M30.14 481.26L30.5 485.19L30.87 485.53L31.23 481.95L31.5 481.75L31.5 478L31.5 481.75L31.59 486.02L31.96 481.62M33.42 482.81L33.78 479.05L34.14 483.84L34.5 482.09L34.5 496.5L34.5 482.09L34.51 482.71M34.87 481.06L35.24 478.67L35.6 482.11M36.33 482.35L36.7 478.73L37.06 481.49M38.15 482.01L38.5 481.63L38.5 491.4L38.5 481.63L38.52 481.35L38.88 479.75L39.25 484.97L39.61 481.86L39.97 485.82L40.34 482.31M42.89 482.34L43.25 485.45L43.5 482.21L43.62 479.46L43.98 483.47L44.35 479.99L44.71 481.76M46.17 482.36L46.53 484.71L46.9 481.44M47.26 481.74L47.5 482.5L47.5 466.5L47.5 482.5L47.63 482.45M48.36 481.56L48.72 477.86L49.08 482.51L49.45 485.21L49.81 482.61M50.18 483.28L50.5 482.52L50.5 477L50.5 482.52L50.54 481.9L50.91 484.52L51.27 481.73M51.63 481.12L52 477.82L52.36 481.79M53.46 482.87L53.82 485.75L54.18 477.76L54.5 481.67L54.5 491.4L54.5 481.67L54.55 481.89M55.64 481.55L56.01 486.43L56.37 481.52L56.74 479.35L57.1 482.62M58.19 481.69L58.5 481.97L58.56 482.36M58.92 482.29L59.29 485.4L59.65 480.86M61.47 482.28L61.84 478.35L62.2 481.9L62.5 481.95L62.5 476L62.5 481.95L62.57 481.93M62.93 482.41L63.29 487.23L63.66 482.08M66.21 481.91L66.5 482.11L66.57 482.98M67.3 482.27L67.5 481.87L67.5 472.8L67.5 481.87L67.67 480.6M73.5 481.73L73.5 481.9L73.86 482.19M76.78 482.28L77.14 484.21L77.5 481.68M79.33 481.6L79.5 481.97L79.5 496.5L79.5 481.97L79.69 482.48M80.42 482.07L80.5 482.46L80.5 497.8L80.5 482.46L80.78 481.18M84.43 482.49L84.79 478.76L85.16 482.05L85.5 482.07L85.5 477L85.5 482.07L85.52 481.48M86.61 482.04L86.98 477.71L87.34 482.19M90.26 481.63L90.5 482.15L90.5 488L90.5 482.15L90.62 482.16M93.54 482.83L93.9 478.33L94.27 481.35M95.36 481.69L95.5 482.16L95.5 494L95.5 482.16L95.72 481.44M96.45 482.27L96.5 481.87L96.82 482.87M99 482.88L99.37 478.51L99.73 481.72M102.28 481.79L102.5 481.83L102.65 481.84M103.37 482.82L103.5 482.25L103.74 482.64M107.38 481.17L107.75 485.6L108.11 482.26M108.48 481.68L108.5 482.07L108.84 481.56L109.2 476.73L109.5 482.38L109.57 482.56M109.93 482.53L110.3 479.41L110.66 481.55M112.48 482.07L112.5 482.41L112.5 481.69L112.85 482.06L113.21 478.59L113.58 482.02M116.49 481.34L116.5 482.41L116.5 492.7L116.5 482.41L116.86 481.73M117.22 480.39L117.58 477.39L117.95 482.99L118.31 477.36L118.68 481.27M120.5 482.59L120.5 482.17L120.5 493.5L120.5 482.17L120.86 482.33M122.32 481.96L122.69 478.69L123.05 482.25M124.14 481.05L124.51 484.9L124.87 481.66M126.69 482.05L127.06 478.9L127.42 479.07L127.79 481.61M128.52 481.75L128.88 476.83L129.24 482.45L129.61 485.03L129.97 482.62M130.34 481.82L130.5 482.04L130.5 477.4L130.5 482.04L130.7 481.57M131.07 481.56L131.43 476.11L131.79 481.87M134.35 481.8L134.71 478.83L135.07 484.6L135.44 481.55M140.18 481.42L140.5 481.89L140.5 486.3L140.5 481.89L140.54 481.7L140.9 485.4L141.27 481.64L141.5 481.61L141.63 483.83L142 482.19M142.36 480.89L142.73 478.94L143.09 481.52M144.18 482.71L144.5 481.84L144.55 482.17M145.28 481.5L145.64 486.66L146 482.26M149.65 483.41L150.01 478.12L150.38 481.81L150.74 484.06L151.11 482.73M152.2 481.28L152.5 482.17L152.5 491.4L152.5 482.17L152.56 482.56M153.29 482.4L153.66 478.36L154.02 483.7M154.39 481.41L154.5 482.67L154.5 478.7L154.5 482.67L154.75 482.94M155.48 482.65L155.84 477.25L156.21 482.6L156.57 477.93L156.94 481.8M158.76 481.85L159.12 479.55L159.49 482.81M160.22 482.1L160.5 481.99L160.58 481.26M160.94 482.38L161.31 479.81L161.67 482.55M164.22 482.15L164.5 482.35L164.5 490.9L164.5 482.35L164.59 481.79M166.41 482.67L166.5 481.88L166.5 472.3L166.5 481.88L166.77 481.88M167.14 481.45L167.5 482.23L167.5 476.2L167.5 482.23L167.5 482.85M168.23 483.1L168.5 482.04L168.6 481.7M168.96 481.77L169.32 486.42L169.69 482.63M170.05 481.98L170.42 478.48L170.78 481.74M171.15 482L171.5 481.52L171.51 482.02L171.87 483.89L172.24 480.53M173.33 481.36L173.5 482.04L173.5 485.6L173.5 482.04L173.7 482.59M177.34 482.82L177.5 481.93L177.5 486.3L177.5 481.93L177.7 481.35M179.16 481.16L179.53 479.92L179.89 483.42M187.18 481.89L187.5 482.12L187.5 487.6L187.5 477.4L187.5 482.12L187.54 482.55" fill="none" stroke="#4a5e4c" stroke-width="0.45" stroke-linejoin="round"/>
<path d="M43.5 482.21L43.5 506.7L43.5 482.21M58.5 481.97L58.5 499.1L58.5 481.97M66.5 482.11L66.5 460.1L66.5 482.11M73.5 481.9L73.5 509.7L73.5 481.9M96.5 481.87L96.5 455.8L96.5 481.87M102.5 481.83L102.5 459.6L102.5 435.4L102.5 481.83M103.5 482.25L103.5 500.3L103.5 482.25M108.5 482.07L108.5 516.4L108.5 482.07M109.5 482.38L109.5 508L109.5 482.38M112.5 482.41L112.5 425.8L112.5 482.41M112.5 481.69L112.5 522.5L112.5 481.69M141.5 481.61L141.5 438.5L141.5 481.61M144.5 481.84L144.5 456.6L144.5 481.84M160.5 481.99L160.5 499.6L160.5 481.99M168.5 482.04L168.5 499L168.5 482.04M171.5 481.52L171.5 448.2L171.5 481.52" fill="none" stroke="#c47860" stroke-width="0.45"/>
<path d="M26.13 486.29h0M27.5 494h0M30.5 485.19h0M30.87 485.53h0M31.5 478h0M31.59 486.02h0M33.78 479.05h0M34.14 483.84h0M34.5 496.5h0M35.24 478.67h0M36.7 478.73h0M38.5 491.4h0M38.88 479.75h0M39.25 484.97h0M39.97 485.82h0M43.25 485.45h0M43.62 479.46h0M44.35 479.99h0M46.53 484.71h0M47.5 466.5h0M48.72 477.86h0M49.45 485.21h0M50.5 477h0M50.91 484.52h0M52 477.82h0M53.82 485.75h0M54.18 477.76h0M54.5 491.4h0M56.01 486.43h0M56.74 479.35h0M59.29 485.4h0M61.84 478.35h0M62.5 476h0M63.29 487.23h0M67.5 472.8h0M77.14 484.21h0M79.5 496.5h0M80.5 497.8h0M84.79 478.76h0M85.5 477h0M86.98 477.71h0M90.5 488h0M93.9 478.33h0M95.5 494h0M99.37 478.51h0M107.75 485.6h0M109.2 476.73h0M110.3 479.41h0M113.21 478.59h0M116.5 492.7h0M117.58 477.39h0M118.31 477.36h0M120.5 493.5h0M122.69 478.69h0M124.51 484.9h0M127.06 478.9h0M127.42 479.07h0M128.88 476.83h0M129.61 485.03h0M130.5 477.4h0M131.43 476.11h0M134.71 478.83h0M135.07 484.6h0M140.5 486.3h0M140.9 485.4h0M141.63 483.83h0M142.73 478.94h0M145.64 486.66h0M150.01 478.12h0M150.74 484.06h0M152.5 491.4h0M153.66 478.36h0M154.5 478.7h0M155.84 477.25h0M156.57 477.93h0M159.12 479.55h0M161.31 479.81h0M164.5 490.9h0M166.5 472.3h0M167.5 476.2h0M169.32 486.42h0M170.42 478.48h0M171.87 483.89h0M173.5 485.6h0M177.5 486.3h0M179.53 479.92h0M187.5 487.6h0M187.5 477.4h0" stroke="#2d4a32" stroke-width="2.5" stroke-linecap="round"/>
<path d="M43.5 506.7h0M58.5 499.1h0M66.5 460.1h0M73.5 509.7h0M96.5 455.8h0M102.5 459.6h0M102.5 435.4h0M103.5 500.3h0M108.5 516.4h0M109.5 508h0M112.5 425.8h0M112.5 522.5h0M141.5 438.5h0M144.5 456.6h0M160.5 499.6h0M168.5 499h0M171.5 448.2h0" stroke="#4a2818" stroke-width="2.5" stroke-linecap="round"/>
<line x1="171.2" y1="426" x2="171.2" y2="523.5" stroke="#6a78b4" stroke-width="0.8" stroke-dasharray="1.8 0.8"/>
<line x1="188.5" y1="426" x2="188.5" y2="523.5" stroke="#6a78b4" stroke-width="0.8" stroke-dasharray="1.8 0.8"/>
</g>
<rect x="18" y="421.5" width="178.5" height="106.5" fill="none" stroke="#000" stroke-width="0.4"/>
<line x1="16.88" y1="433.2" x2="18" y2="433.2" stroke="#000" stroke-width="0.3"/>
<text x="15.76" y="435.25" font-size="3.2" text-anchor="end" fill="#000">0.4</text>
<line x1="16.88" y1="445.4" x2="18" y2="445.4" stroke="#000" stroke-width="0.3"/>
<text x="15.76" y="447.45" font-size="3.2" text-anchor="end" fill="#000">0.3</text>
<line x1="16.88" y1="457.6" x2="18" y2="457.6" stroke="#000" stroke-width="0.3"/>
<text x="15.76" y="459.65" font-size="3.2" text-anchor="end" fill="#000">0.2</text>
<line x1="16.88" y1="469.8" x2="18" y2="469.8" stroke="#000" stroke-width="0.3"/>
<text x="15.76" y="471.85" font-size="3.2" text-anchor="end" fill="#000">0.1</text>
<line x1="16.88" y1="482" x2="18" y2="482" stroke="#000" stroke-width="0.3"/>
<text x="15.76" y="484.05" font-size="3.2" text-anchor="end" fill="#000">0.0</text>
<line x1="16.88" y1="494.2" x2="18" y2="494.2" stroke="#000" stroke-width="0.3"/>
<text x="15.76" y="496.25" font-size="3.2" text-anchor="end" fill="#000">−0.1</text>
<line x1="16.88" y1="506.4" x2="18" y2="506.4" stroke="#000" stroke-width="0.3"/>
<text x="15.76" y="508.45" font-size="3.2" text-anchor="end" fill="#000">−0.2</text>
<line x1="16.88" y1="518.6" x2="18" y2="518.6" stroke="#000" stroke-width="0.3"/>
<text x="15.76" y="520.65" font-size="3.2" text-anchor="end" fill="#000">−0.3</text>
<line x1="26.6" y1="528" x2="26.6" y2="529.12" stroke="#000" stroke-width="0.3"/>
<text x="28.55" y="530.24" font-size="3.2" text-anchor="end" fill="#000" transform="rotate(-90 28.55 530.24)">08 21</text>
<line x1="32.7" y1="528" x2="32.7" y2="529.12" stroke="#000" stroke-width="0.3"/>
<text x="34.65" y="530.24" font-size="3.2" text-anchor="end" fill="#000" transform="rotate(-90 34.65 530.24)">15 02</text>
<line x1="40.6" y1="528" x2="40.6" y2="529.12" stroke="#000" stroke-width="0.3"/>
<text x="42.55" y="530.24" font-size="3.2" text-anchor="end" fill="#000" transform="rotate(-90 42.55 530.24)">22 07</text>
<line x1="45.1" y1="528" x2="45.1" y2="529.12" stroke="#000" stroke-width="0.3"/>
<text x="47.05" y="530.24" font-size="3.2" text-anchor="end" fill="#000" transform="rotate(-90 47.05 530.24)">01 12</text>
<line x1="58.2" y1="528" x2="58.2" y2="529.12" stroke="#000" stroke-width="0.3"/>
<text x="60.15" y="530.24" font-size="3.2" text-anchor="end" fill="#000" transform="rotate(-90 60.15 530.24)">08 17</text>
<line x1="68.8" y1="528" x2="68.8" y2="529.12" stroke="#000" stroke-width="0.3"/>
<text x="70.75" y="530.24" font-size="3.2" text-anchor="end" fill="#000" transform="rotate(-90 70.75 530.24)">15 22</text>
<line x1="76.2" y1="528" x2="76.2" y2="529.12" stroke="#000" stroke-width="0.3"/>
<text x="78.15" y="530.24" font-size="3.2" text-anchor="end" fill="#000" transform="rotate(-90 78.15 530.24)">22 03</text>
<line x1="84.1" y1="528" x2="84.1" y2="529.12" stroke="#000" stroke-width="0.3"/>
<text x="86.05" y="530.24" font-size="3.2" text-anchor="end" fill="#000" transform="rotate(-90 86.05 530.24)">01 08</text>
<line x1="94.2" y1="528" x2="94.2" y2="529.12" stroke="#000" stroke-width="0.3"/>
<text x="96.15" y="530.24" font-size="3.2" text-anchor="end" fill="#000" transform="rotate(-90 96.15 530.24)">08 13</text>
<line x1="99.7" y1="528" x2="99.7" y2="529.12" stroke="#000" stroke-width="0.3"/>
<text x="101.65" y="530.24" font-size="3.2" text-anchor="end" fill="#000" transform="rotate(-90 101.65 530.24)">15 18</text>
<line x1="105.5" y1="528" x2="105.5" y2="529.12" stroke="#000" stroke-width="0.3"/>
<text x="107.45" y="530.24" font-size="3.2" text-anchor="end" fill="#000" transform="rotate(-90 107.45 530.24)">22 23</text>
<line x1="109.1" y1="528" x2="109.1" y2="529.12" stroke="#000" stroke-width="0.3"/>
<text x="111.05" y="530.24" font-size="3.2" text-anchor="end" fill="#000" transform="rotate(-90 111.05 530.24)">01 04</text>
<line x1="114.8" y1="528" x2="114.8" y2="529.12" stroke="#000" stroke-width="0.3"/>
<text x="116.75" y="530.24" font-size="3.2" text-anchor="end" fill="#000" transform="rotate(-90 116.75 530.24)">08 09</text>
<line x1="117" y1="528" x2="117" y2="529.12" stroke="#000" stroke-width="0.3"/>
<text x="118.95" y="530.24" font-size="3.2" text-anchor="end" fill="#000" transform="rotate(-90 118.95 530.24)">15 14</text>
<line x1="127.2" y1="528" x2="127.2" y2="529.12" stroke="#000" stroke-width="0.3"/>
<text x="129.15" y="530.24" font-size="3.2" text-anchor="end" fill="#000" transform="rotate(-90 129.15 530.24)">22 19</text>
<line x1="132.8" y1="528" x2="132.8" y2="529.12" stroke="#000" stroke-width="0.3"/>
<text x="134.75" y="530.24" font-size="3.2" text-anchor="end" fill="#000" transform="rotate(-90 134.75 530.24)">01 00</text>
<line x1="137.3" y1="528" x2="137.3" y2="529.12" stroke="#000" stroke-width="0.3"/>
<text x="139.25" y="530.24" font-size="3.2" text-anchor="end" fill="#000" transform="rotate(-90 139.25 530.24)">08 05</text>
<line x1="139.6" y1="528" x2="139.6" y2="529.12" stroke="#000" stroke-width="0.3"/>
<text x="141.55" y="530.24" font-size="3.2" text-anchor="end" fill="#000" transform="rotate(-90 141.55 530.24)">15 10</text>
<line x1="141.8" y1="528" x2="141.8" y2="529.12" stroke="#000" stroke-width="0.3"/>
<text x="143.75" y="530.24" font-size="3.2" text-anchor="end" fill="#000" transform="rotate(-90 143.75 530.24)">22 15</text>
<line x1="150.9" y1="528" x2="150.9" y2="529.12" stroke="#000" stroke-width="0.3"/>
<text x="152.85" y="530.24" font-size="3.2" text-anchor="end" fill="#000" transform="rotate(-90 152.85 530.24)">01 20</text>
<line x1="153.1" y1="528" x2="153.1" y2="529.12" stroke="#000" stroke-width="0.3"/>
<text x="155.05" y="530.24" font-size="3.2" text-anchor="end" fill="#000" transform="rotate(-90 155.05 530.24)">08 01</text>
<line x1="155.4" y1="528" x2="155.4" y2="529.12" stroke="#000" stroke-width="0.3"/>
<text x="157.35" y="530.24" font-size="3.2" text-anchor="end" fill="#000" transform="rotate(-90 157.35 530.24)">15 06</text>
<line x1="158.8" y1="528" x2="158.8" y2="529.12" stroke="#000" stroke-width="0.3"/>
<text x="160.75" y="530.24" font-size="3.2" text-anchor="end" fill="#000" transform="rotate(-90 160.75 530.24)">22 11</text>
<line x1="161" y1="528" x2="161" y2="529.12" stroke="#000" stroke-width="0.3"/>
<text x="162.95" y="530.24" font-size="3.2" text-anchor="end" fill="#000" transform="rotate(-90 162.95 530.24)">01 16</text>
<line x1="163.3" y1="528" x2="163.3" y2="529.12" stroke="#000" stroke-width="0.3"/>
<text x="165.25" y="530.24" font-size="3.2" text-anchor="end" fill="#000" transform="rotate(-90 165.25 530.24)">08 21</text>
<line x1="171.2" y1="528" x2="171.2" y2="529.12" stroke="#000" stroke-width="0.3"/>
<text x="173.15" y="530.24" font-size="3.2" text-anchor="end" fill="#000" transform="rotate(-90 173.15 530.24)">15 02:25</text>
<line x1="181.3" y1="528" x2="181.3" y2="529.12" stroke="#000" stroke-width="0.3"/>
<text x="183.25" y="530.24" font-size="3.2" text-anchor="end" fill="#000" transform="rotate(-90 183.25 530.24)">22 07</text>
<line x1="189.2" y1="528" x2="189.2" y2="529.12" stroke="#000" stroke-width="0.3"/>
<text x="191.15" y="530.24" font-size="3.2" text-anchor="end" fill="#000" transform="rotate(-90 191.15 530.24)">01 12:51</text>
<text x="107.25" y="420.08" font-size="3.84" text-anchor="middle" fill="#000">BRD_2021-8-6 11:34</text>
<text x="107.25" y="548.8" font-size="3.2" text-anchor="middle" fill="#000">datetime</text>
<text x="5.8" y="474.75" font-size="3.2" text-anchor="middle" fill="#000" transform="rotate(-90 5.8 474.75)">BIG_volume</text>
<rect x="151.28" y="423.1" width="43.62" height="10" rx="0.6" fill="#fff" stroke="#e0e0e0" stroke-width="0.32"/>
<line x1="152.56" y1="425.5" x2="158.96" y2="425.5" stroke="#6a78b4" stroke-width="0.8" stroke-dasharray="1.8 0.8"/>
<line x1="152.56" y1="430.4" x2="158.96" y2="430.4" stroke="#dcd068" stroke-width="0.8" stroke-dasharray="2.6 0.3"/>
<text x="161.52" y="426.65" font-size="3.2" text-anchor="start" fill="#000">2021-8-6 11:34</text>
<text x="161.52" y="431.55" font-size="3.2" text-anchor="start" fill="#000">anomalous volumes</text>
</g>
<g>
<clipPath id="c7"><rect x="218" y="421.5" width="178.5" height="106.5"/></clipPath>
<g clip-path="url(#c7)">
<rect x="224.4" y="488.54" width="163.1" height="6.71" fill="#e6faf6"/>
<line x1="224.4" y1="487.07" x2="387.5" y2="487.07" stroke="#dcd068" stroke-width="0.75" stroke-dasharray="2.6 0.3"/>
<line x1="224.4" y1="496.46" x2="387.5" y2="496.46" stroke="#dcd068" stroke-width="0.75" stroke-dasharray="2.6 0.3"/>
<line x1="224.4" y1="480.9" x2="387.5" y2="480.9" stroke="#f4d8de" stroke-width="0.5" stroke-dasharray="0.8 0.8"/>
<line x1="224.4" y1="502.37" x2="387.5" y2="502.37" stroke="#f4d8de" stroke-width="0.5" stroke-dasharray="0.8 0.8"/>
<path d="M224.4 491.9L224.95 491.9L225.49 491.9L226.04 491.9L226.58 491.9L227.13 491.9L227.67 491.9L228.22 491.9L228.76 491.9L229.31 491.9L229.85 491.9L230.4 491.9L230.95 491.9L231.49 491.9L232.04 491.9L232.58 491.9L233.13 491.9L233.67 491.9L234.22 491.9L234.76 491.9L235.31 491.9L235.86 491.9L236.4 491.9L236.95 491.9L237.49 491.9M238.04 491.9L238.58 491.9L239.13 491.9L239.67 491.9L240.22 491.9L240.76 491.9L241.31 491.9L241.86 491.9L242.4 491.9L242.95 491.9L243.49 491.9L244.04 491.9L244.58 491.9L245.13 491.9L245.67 491.9L246.22 491.9L246.76 491.9L247.31 491.9L247.86 491.9L248.4 491.9L248.95 491.9L249.49 491.9L250.04 491.9L250.58 491.9L251.13 491.9L251.67 491.9L252.22 491.9L252.77 491.9L253.31 491.9L253.86 491.9L254.4 491.9L254.95 491.9L255.49 491.9L256.04 491.9L256.58 491.9L257.13 491.9L257.67 491.9L258.22 491.9L258.77 491.9L259.31 491.9L259.86 491.9L260.4 491.9L260.95 491.9L261.49 491.9L262.04 491.9L262.58 491.9L263.13 491.9L263.67 491.9L264.22 491.9L264.77 491.9L265.31 491.9L265.86 491.9L266.4 491.9L266.95 491.9L267.49 491.9L268.04 491.9L268.58 491.9L269.13 491.9L269.68 491.9L270.22 491.9L270.77 491.9L271.31 491.9L271.86 491.9L272.4 491.9M272.95 491.9L273.49 491.9L274.04 491.9L274.58 491.9L275.13 491.9L275.68 491.9L276.22 491.9L276.77 491.9L277.31 491.9L277.86 491.9L278.4 491.9L278.95 491.9L279.49 491.9L280.04 491.9L280.58 491.9L281.13 491.9M281.68 491.9L282.22 491.9L282.77 491.9L283.31 491.9L283.86 491.9L284.4 491.9L284.95 491.9L285.49 491.9L286.04 491.9L286.59 491.9L287.13 491.9L287.68 491.9L288.22 491.9L288.77 491.9L289.31 491.9L289.86 491.9L290.4 491.9L290.95 491.9L291.49 491.9L292.04 491.9L292.59 491.9L293.13 491.9L293.68 491.9L294.22 491.9L294.77 491.9L295.31 491.9L295.86 491.9L296.4 491.9L296.95 491.9L297.49 491.9L298.04 491.9L298.59 491.9L299.13 491.9L299.68 491.9L300.22 491.9L300.77 491.9L301.31 491.9L301.86 491.9L302.4 491.9L302.95 491.9L303.5 491.9L304.04 491.9L304.59 491.9L305.13 491.9L305.68 491.9L306.22 491.9L306.77 491.9L307.31 491.9L307.86 491.9L308.4 491.9L308.95 491.9L309.5 491.9L310.04 491.9L310.59 491.9L311.13 491.9L311.68 491.9L312.22 491.9L312.77 491.9L313.31 491.9L313.86 491.9L314.41 491.9L314.95 491.9L315.5 491.9L316.04 491.9L316.59 491.9L317.13 491.9L317.68 491.9L318.22 491.9L318.77 491.9L319.31 491.9L319.86 491.9L320.41 491.9L320.95 491.9L321.5 491.9L322.04 491.9L322.59 491.9L323.13 491.9L323.68 491.9L324.22 491.9L324.77 491.9L325.31 491.9L325.86 491.9L326.41 491.9L326.95 491.9L327.5 491.9L328.04 491.9L328.59 491.9L329.13 491.9L329.68 491.9L330.22 491.9L330.77 491.9L331.32 491.9L331.86 491.9L332.41 491.9L332.95 491.9L333.5 491.9L334.04 491.9L334.59 491.9L335.13 491.9L335.68 491.9L336.22 491.9L336.77 491.9L337.32 491.9L337.86 491.9L338.41 491.9L338.95 491.9L339.5 491.9L340.04 491.9L340.59 491.9L341.13 491.9L341.68 491.9L342.22 491.9L342.77 491.9L343.32 491.9L343.86 491.9L344.41 491.9L344.95 491.9L345.5 491.9L346.04 491.9L346.59 491.9L347.13 491.9L347.68 491.9L348.23 491.9L348.77 491.9L349.32 491.9L349.86 491.9L350.41 491.9L350.95 491.9L351.5 491.9L352.04 491.9L352.59 491.9L353.13 491.9L353.68 491.9L354.23 491.9L354.77 491.9L355.32 491.9L355.86 491.9L356.41 491.9M356.95 491.9L357.5 491.9L358.04 491.9L358.59 491.9L359.13 491.9L359.68 491.9L360.23 491.9L360.77 491.9L361.32 491.9L361.86 491.9L362.41 491.9L362.95 491.9L363.5 491.9L364.04 491.9L364.59 491.9L365.14 491.9L365.68 491.9L366.23 491.9L366.77 491.9L367.32 491.9L367.86 491.9L368.41 491.9L368.95 491.9L369.5 491.9L370.04 491.9L370.59 491.9L371.14 491.9L371.68 491.9L372.23 491.9L372.77 491.9L373.32 491.9L373.86 491.9L374.41 491.9L374.95 491.9L375.5 491.9L376.04 491.9L376.59 491.9L377.14 491.9L377.68 491.9L378.23 491.9L378.77 491.9L379.32 491.9L379.86 491.9L380.41 491.9L380.95 491.9L381.5 491.9L382.05 491.9L382.59 491.9L383.14 491.9L383.68 491.9L384.23 491.9L384.77 491.9L385.32 491.9L385.86 491.9L386.41 491.9L386.95 491.9L387.5 491.9" fill="none" stroke="#1d4025" stroke-width="1.7" stroke-linejoin="round" stroke-linecap="round"/>
<path d="M237.49 491.9L237.5 491.9L237.5 491.9L237.5 491.9L238.04 491.9M272.4 491.9L272.5 491.9L272.5 491.9L272.5 491.9L272.95 491.9M281.13 491.9L281.5 491.9L281.5 491.9L281.5 491.9L281.68 491.9M356.41 491.9L356.5 491.9L356.5 491.9L356.5 491.9L356.95 491.9M387.5 491.9L387.5 491.9" fill="none" stroke="#4a5e4c" stroke-width="0.45" stroke-linejoin="round"/>
<path d="M387.5 491.9L387.5 522.5L387.5 425.8L387.5 491.9" fill="none" stroke="#a04048" stroke-width="0.7"/>
<path d="M237.5 491.9h0M272.5 491.9h0M281.5 491.9h0M356.5 491.9h0" stroke="#2d4a32" stroke-width="2.6" stroke-linecap="round"/>
<path d="M387.5 522.5h0M387.5 425.8h0" stroke="#4a2818" stroke-width="2.6" stroke-linecap="round"/>
<line x1="374.6" y1="425.3" x2="374.6" y2="524.2" stroke="#6a78b4" stroke-width="0.8" stroke-dasharray="1.8 0.8"/>
<line x1="387.5" y1="425.3" x2="387.5" y2="524.2" stroke="#6a78b4" stroke-width="0.8" stroke-dasharray="1.8 0.8"/>
</g>
<rect x="218" y="421.5" width="178.5" height="106.5" fill="none" stroke="#000" stroke-width="0.4"/>
<line x1="216.88" y1="424.8" x2="218" y2="424.8" stroke="#000" stroke-width="0.3"/>
<text x="215.76" y="426.85" font-size="3.2" text-anchor="end" fill="#000">50</text>
<line x1="216.88" y1="438.22" x2="218" y2="438.22" stroke="#000" stroke-width="0.3"/>
<text x="215.76" y="440.27" font-size="3.2" text-anchor="end" fill="#000">40</text>
<line x1="216.88" y1="451.64" x2="218" y2="451.64" stroke="#000" stroke-width="0.3"/>
<text x="215.76" y="453.69" font-size="3.2" text-anchor="end" fill="#000">30</text>
<line x1="216.88" y1="465.06" x2="218" y2="465.06" stroke="#000" stroke-width="0.3"/>
<text x="215.76" y="467.11" font-size="3.2" text-anchor="end" fill="#000">20</text>
<line x1="216.88" y1="478.48" x2="218" y2="478.48" stroke="#000" stroke-width="0.3"/>
<text x="215.76" y="480.53" font-size="3.2" text-anchor="end" fill="#000">10</text>
<line x1="216.88" y1="491.9" x2="218" y2="491.9" stroke="#000" stroke-width="0.3"/>
<text x="215.76" y="493.95" font-size="3.2" text-anchor="end" fill="#000">0</text>
<line x1="216.88" y1="505.32" x2="218" y2="505.32" stroke="#000" stroke-width="0.3"/>
<text x="215.76" y="507.37" font-size="3.2" text-anchor="end" fill="#000">−10</text>
<line x1="216.88" y1="518.74" x2="218" y2="518.74" stroke="#000" stroke-width="0.3"/>
<text x="215.76" y="520.79" font-size="3.2" text-anchor="end" fill="#000">−20</text>
<line x1="225.6" y1="528" x2="225.6" y2="529.12" stroke="#000" stroke-width="0.3"/>
<text x="227.55" y="530.24" font-size="3.2" text-anchor="end" fill="#000" transform="rotate(-90 227.55 530.24)">09 00</text>
<line x1="241.4" y1="528" x2="241.4" y2="529.12" stroke="#000" stroke-width="0.3"/>
<text x="243.35" y="530.24" font-size="3.2" text-anchor="end" fill="#000" transform="rotate(-90 243.35 530.24)">16 05</text>
<line x1="245.2" y1="528" x2="245.2" y2="529.12" stroke="#000" stroke-width="0.3"/>
<text x="247.15" y="530.24" font-size="3.2" text-anchor="end" fill="#000" transform="rotate(-90 247.15 530.24)">23 10</text>
<line x1="249.7" y1="528" x2="249.7" y2="529.12" stroke="#000" stroke-width="0.3"/>
<text x="251.65" y="530.24" font-size="3.2" text-anchor="end" fill="#000" transform="rotate(-90 251.65 530.24)">02 15</text>
<line x1="253.5" y1="528" x2="253.5" y2="529.12" stroke="#000" stroke-width="0.3"/>
<text x="255.45" y="530.24" font-size="3.2" text-anchor="end" fill="#000" transform="rotate(-90 255.45 530.24)">09 20</text>
<line x1="257.6" y1="528" x2="257.6" y2="529.12" stroke="#000" stroke-width="0.3"/>
<text x="259.55" y="530.24" font-size="3.2" text-anchor="end" fill="#000" transform="rotate(-90 259.55 530.24)">16 01</text>
<line x1="261.7" y1="528" x2="261.7" y2="529.12" stroke="#000" stroke-width="0.3"/>
<text x="263.65" y="530.24" font-size="3.2" text-anchor="end" fill="#000" transform="rotate(-90 263.65 530.24)">23 06</text>
<line x1="266.2" y1="528" x2="266.2" y2="529.12" stroke="#000" stroke-width="0.3"/>
<text x="268.15" y="530.24" font-size="3.2" text-anchor="end" fill="#000" transform="rotate(-90 268.15 530.24)">02 11</text>
<line x1="270" y1="528" x2="270" y2="529.12" stroke="#000" stroke-width="0.3"/>
<text x="271.95" y="530.24" font-size="3.2" text-anchor="end" fill="#000" transform="rotate(-90 271.95 530.24)">09 16</text>
<line x1="278.4" y1="528" x2="278.4" y2="529.12" stroke="#000" stroke-width="0.3"/>
<text x="280.35" y="530.24" font-size="3.2" text-anchor="end" fill="#000" transform="rotate(-90 280.35 530.24)">16 21</text>
<line x1="286.9" y1="528" x2="286.9" y2="529.12" stroke="#000" stroke-width="0.3"/>
<text x="288.85" y="530.24" font-size="3.2" text-anchor="end" fill="#000" transform="rotate(-90 288.85 530.24)">23 02</text>
<line x1="291.4" y1="528" x2="291.4" y2="529.12" stroke="#000" stroke-width="0.3"/>
<text x="293.35" y="530.24" font-size="3.2" text-anchor="end" fill="#000" transform="rotate(-90 293.35 530.24)">02 07</text>
<line x1="295.9" y1="528" x2="295.9" y2="529.12" stroke="#000" stroke-width="0.3"/>
<text x="297.85" y="530.24" font-size="3.2" text-anchor="end" fill="#000" transform="rotate(-90 297.85 530.24)">09 12</text>
<line x1="300.9" y1="528" x2="300.9" y2="529.12" stroke="#000" stroke-width="0.3"/>
<text x="302.85" y="530.24" font-size="3.2" text-anchor="end" fill="#000" transform="rotate(-90 302.85 530.24)">16 17</text>
<line x1="304.5" y1="528" x2="304.5" y2="529.12" stroke="#000" stroke-width="0.3"/>
<text x="306.45" y="530.24" font-size="3.2" text-anchor="end" fill="#000" transform="rotate(-90 306.45 530.24)">23 22</text>
<line x1="308.1" y1="528" x2="308.1" y2="529.12" stroke="#000" stroke-width="0.3"/>
<text x="310.05" y="530.24" font-size="3.2" text-anchor="end" fill="#000" transform="rotate(-90 310.05 530.24)">02 03</text>
<line x1="309.7" y1="528" x2="309.7" y2="529.12" stroke="#000" stroke-width="0.3"/>
<text x="311.65" y="530.24" font-size="3.2" text-anchor="end" fill="#000" transform="rotate(-90 311.65 530.24)">09 08</text>
<line x1="316" y1="528" x2="316" y2="529.12" stroke="#000" stroke-width="0.3"/>
<text x="317.95" y="530.24" font-size="3.2" text-anchor="end" fill="#000" transform="rotate(-90 317.95 530.24)">16 13</text>
<line x1="318.3" y1="528" x2="318.3" y2="529.12" stroke="#000" stroke-width="0.3"/>
<text x="320.25" y="530.24" font-size="3.2" text-anchor="end" fill="#000" transform="rotate(-90 320.25 530.24)">23 18</text>
<line x1="320.1" y1="528" x2="320.1" y2="529.12" stroke="#000" stroke-width="0.3"/>
<text x="322.05" y="530.24" font-size="3.2" text-anchor="end" fill="#000" transform="rotate(-90 322.05 530.24)">02 23</text>
<line x1="326.2" y1="528" x2="326.2" y2="529.12" stroke="#000" stroke-width="0.3"/>
<text x="328.15" y="530.24" font-size="3.2" text-anchor="end" fill="#000" transform="rotate(-90 328.15 530.24)">09 04</text>
<line x1="331.8" y1="528" x2="331.8" y2="529.12" stroke="#000" stroke-width="0.3"/>
<text x="333.75" y="530.24" font-size="3.2" text-anchor="end" fill="#000" transform="rotate(-90 333.75 530.24)">16 09</text>
<line x1="340.8" y1="528" x2="340.8" y2="529.12" stroke="#000" stroke-width="0.3"/>
<text x="342.75" y="530.24" font-size="3.2" text-anchor="end" fill="#000" transform="rotate(-90 342.75 530.24)">23 14</text>
<line x1="354.4" y1="528" x2="354.4" y2="529.12" stroke="#000" stroke-width="0.3"/>
<text x="356.35" y="530.24" font-size="3.2" text-anchor="end" fill="#000" transform="rotate(-90 356.35 530.24)">02 19</text>
<line x1="364.5" y1="528" x2="364.5" y2="529.12" stroke="#000" stroke-width="0.3"/>
<text x="366.45" y="530.24" font-size="3.2" text-anchor="end" fill="#000" transform="rotate(-90 366.45 530.24)">09 00</text>
<line x1="374.7" y1="528" x2="374.7" y2="529.12" stroke="#000" stroke-width="0.3"/>
<text x="376.65" y="530.24" font-size="3.2" text-anchor="end" fill="#000" transform="rotate(-90 376.65 530.24)">16 05:25</text>
<line x1="384.8" y1="528" x2="384.8" y2="529.12" stroke="#000" stroke-width="0.3"/>
<text x="386.75" y="530.24" font-size="3.2" text-anchor="end" fill="#000" transform="rotate(-90 386.75 530.24)">23 10:38</text>
<text x="307.25" y="420.08" font-size="3.84" text-anchor="middle" fill="#000">BRD_2021-8-29 17:00</text>
<text x="307.25" y="548.8" font-size="3.2" text-anchor="middle" fill="#000">datetime</text>
<text x="205.8" y="474.75" font-size="3.2" text-anchor="middle" fill="#000" transform="rotate(-90 205.8 474.75)">BIG_volume</text>
<rect x="219.6" y="423.1" width="43.62" height="10" rx="0.6" fill="#fff" stroke="#e0e0e0" stroke-width="0.32"/>
<line x1="220.88" y1="425.5" x2="227.28" y2="425.5" stroke="#6a78b4" stroke-width="0.8" stroke-dasharray="1.8 0.8"/>
<line x1="220.88" y1="430.4" x2="227.28" y2="430.4" stroke="#dcd068" stroke-width="0.8" stroke-dasharray="2.6 0.3"/>
<text x="229.84" y="426.65" font-size="3.2" text-anchor="start" fill="#000">2021-8-29 17:00</text>
<text x="229.84" y="431.55" font-size="3.2" text-anchor="start" fill="#000">anomalous volumes</text>
</g></svg>
</body></html>
